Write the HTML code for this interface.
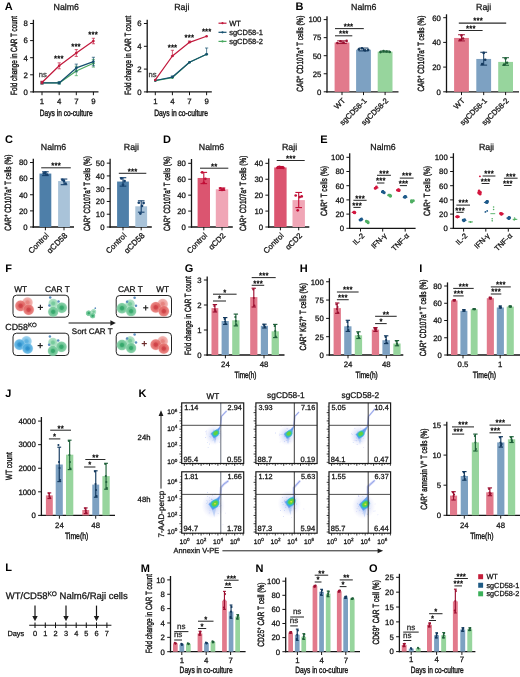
<!DOCTYPE html>
<html lang="en">
<head>
<meta charset="utf-8">
<title>Figure</title>
<style>
html,body{margin:0;padding:0;background:#fff;}
body{width:520px;height:677px;overflow:hidden;font-family:"Liberation Sans", sans-serif;}
svg{display:block;opacity:0.999;}
</style>
</head>
<body>
<svg width="520" height="677" viewBox="0 0 520 677" font-family="'Liberation Sans', sans-serif" text-rendering="geometricPrecision">
<defs>
<radialGradient id="gR"><stop offset="0" stop-color="#cf3f44"/><stop offset="0.3" stop-color="#cf3f44" stop-opacity="0.95"/><stop offset="0.46" stop-color="#de5b59" stop-opacity="0.9"/><stop offset="0.82" stop-color="#e5716e" stop-opacity="0.85"/><stop offset="1" stop-color="#f2b2ae" stop-opacity="0.3"/></radialGradient>
<radialGradient id="gRl"><stop offset="0" stop-color="#e6807c"/><stop offset="0.3" stop-color="#e6807c" stop-opacity="0.95"/><stop offset="0.46" stop-color="#ec9692" stop-opacity="0.9"/><stop offset="0.82" stop-color="#f0a8a4" stop-opacity="0.85"/><stop offset="1" stop-color="#f8d6d3" stop-opacity="0.3"/></radialGradient>
<radialGradient id="gB"><stop offset="0" stop-color="#2a8fcc"/><stop offset="0.3" stop-color="#2a8fcc" stop-opacity="0.95"/><stop offset="0.46" stop-color="#3fa2d9" stop-opacity="0.9"/><stop offset="0.82" stop-color="#58b0e1" stop-opacity="0.85"/><stop offset="1" stop-color="#aed9f1" stop-opacity="0.3"/></radialGradient>
<radialGradient id="gBl"><stop offset="0" stop-color="#5bb0df"/><stop offset="0.3" stop-color="#5bb0df" stop-opacity="0.95"/><stop offset="0.46" stop-color="#74bee5" stop-opacity="0.9"/><stop offset="0.82" stop-color="#8ccaeb" stop-opacity="0.85"/><stop offset="1" stop-color="#cce8f6" stop-opacity="0.3"/></radialGradient>
<radialGradient id="gG"><stop offset="0" stop-color="#33a76a"/><stop offset="0.3" stop-color="#33a76a" stop-opacity="0.95"/><stop offset="0.46" stop-color="#5bbd87" stop-opacity="0.9"/><stop offset="0.82" stop-color="#74c99a" stop-opacity="0.85"/><stop offset="1" stop-color="#bce7cf" stop-opacity="0.3"/></radialGradient>
<radialGradient id="gGl"><stop offset="0" stop-color="#74c99a"/><stop offset="0.3" stop-color="#74c99a" stop-opacity="0.95"/><stop offset="0.46" stop-color="#93d7b0" stop-opacity="0.9"/><stop offset="0.82" stop-color="#a6dfbf" stop-opacity="0.85"/><stop offset="1" stop-color="#d6f1e3" stop-opacity="0.3"/></radialGradient>
<radialGradient id="fcloud"><stop offset="0" stop-color="#8fb0f2" stop-opacity="0.75"/><stop offset="0.5" stop-color="#b3c3f4" stop-opacity="0.38"/><stop offset="1" stop-color="#d4d0f7" stop-opacity="0"/></radialGradient>
<filter id="fb" x="-30%" y="-30%" width="160%" height="160%"><feGaussianBlur stdDeviation="0.45"/></filter>
<filter id="fb2" x="-30%" y="-30%" width="160%" height="160%"><feGaussianBlur stdDeviation="0.75"/></filter>
<filter id="fb3" x="-30%" y="-30%" width="160%" height="160%"><feGaussianBlur stdDeviation="0.3"/></filter>
<clipPath id="clipk00"><rect x="181.70" y="402.90" width="62.00" height="60.60"/></clipPath>
<clipPath id="clipk01"><rect x="255.90" y="402.90" width="61.20" height="60.60"/></clipPath>
<clipPath id="clipk02"><rect x="329.00" y="402.90" width="61.60" height="60.60"/></clipPath>
<clipPath id="clipk10"><rect x="181.70" y="471.80" width="62.00" height="61.40"/></clipPath>
<clipPath id="clipk11"><rect x="255.90" y="471.80" width="61.20" height="61.40"/></clipPath>
<clipPath id="clipk12"><rect x="329.00" y="471.80" width="61.60" height="61.40"/></clipPath>
</defs>
<text transform="translate(4.70 9.80)" font-size="11" text-anchor="start" font-weight="bold" fill="#000">A</text>
<text transform="translate(66.30 9.60)" font-size="8.8" text-anchor="middle" fill="#141414" stroke="#141414" stroke-width="0.27">Nalm6</text>
<line x1="33.40" y1="19.80" x2="33.40" y2="92.55" stroke="#141414" stroke-width="1.3"/>
<line x1="32.75" y1="91.90" x2="98.50" y2="91.90" stroke="#141414" stroke-width="1.3"/>
<line x1="30.10" y1="91.90" x2="33.40" y2="91.90" stroke="#141414" stroke-width="1"/>
<text transform="translate(27.80 94.71)" font-size="7.8" text-anchor="end" fill="#141414" stroke="#141414" stroke-width="0.27">0</text>
<line x1="30.10" y1="74.80" x2="33.40" y2="74.80" stroke="#141414" stroke-width="1"/>
<text transform="translate(27.80 77.61)" font-size="7.8" text-anchor="end" fill="#141414" stroke="#141414" stroke-width="0.27">2</text>
<line x1="30.10" y1="57.70" x2="33.40" y2="57.70" stroke="#141414" stroke-width="1"/>
<text transform="translate(27.80 60.51)" font-size="7.8" text-anchor="end" fill="#141414" stroke="#141414" stroke-width="0.27">4</text>
<line x1="30.10" y1="40.60" x2="33.40" y2="40.60" stroke="#141414" stroke-width="1"/>
<text transform="translate(27.80 43.41)" font-size="7.8" text-anchor="end" fill="#141414" stroke="#141414" stroke-width="0.27">6</text>
<line x1="30.10" y1="23.50" x2="33.40" y2="23.50" stroke="#141414" stroke-width="1"/>
<text transform="translate(27.80 26.31)" font-size="7.8" text-anchor="end" fill="#141414" stroke="#141414" stroke-width="0.27">8</text>
<line x1="42.00" y1="91.90" x2="42.00" y2="95.20" stroke="#141414" stroke-width="1"/>
<text transform="translate(42.00 103.50)" font-size="7.8" text-anchor="middle" fill="#141414" stroke="#141414" stroke-width="0.27">1</text>
<line x1="59.20" y1="91.90" x2="59.20" y2="95.20" stroke="#141414" stroke-width="1"/>
<text transform="translate(59.20 103.50)" font-size="7.8" text-anchor="middle" fill="#141414" stroke="#141414" stroke-width="0.27">4</text>
<line x1="76.30" y1="91.90" x2="76.30" y2="95.20" stroke="#141414" stroke-width="1"/>
<text transform="translate(76.30 103.50)" font-size="7.8" text-anchor="middle" fill="#141414" stroke="#141414" stroke-width="0.27">7</text>
<line x1="93.40" y1="91.90" x2="93.40" y2="95.20" stroke="#141414" stroke-width="1"/>
<text transform="translate(93.40 103.50)" font-size="7.8" text-anchor="middle" fill="#141414" stroke="#141414" stroke-width="0.27">9</text>
<text transform="translate(17.00 55.50) rotate(-90) scale(0.6987 1)" font-size="9" text-anchor="middle" fill="#141414" stroke="#141414" stroke-width="0.4">Fold change in CAR T count</text>
<text transform="translate(66.20 115.80) scale(0.733 1)" font-size="9" text-anchor="middle" fill="#141414" stroke="#141414" stroke-width="0.4">Days in co-culture</text>
<line x1="42.00" y1="81.90" x2="42.00" y2="83.95" stroke="#4aa860" stroke-width="0.7"/>
<line x1="40.40" y1="81.90" x2="43.60" y2="81.90" stroke="#4aa860" stroke-width="0.7"/>
<line x1="40.40" y1="83.95" x2="43.60" y2="83.95" stroke="#4aa860" stroke-width="0.7"/>
<line x1="59.20" y1="81.90" x2="59.20" y2="83.95" stroke="#4aa860" stroke-width="0.7"/>
<line x1="57.60" y1="81.90" x2="60.80" y2="81.90" stroke="#4aa860" stroke-width="0.7"/>
<line x1="57.60" y1="83.95" x2="60.80" y2="83.95" stroke="#4aa860" stroke-width="0.7"/>
<line x1="76.30" y1="66.25" x2="76.30" y2="75.66" stroke="#4aa860" stroke-width="0.7"/>
<line x1="74.70" y1="66.25" x2="77.90" y2="66.25" stroke="#4aa860" stroke-width="0.7"/>
<line x1="74.70" y1="75.66" x2="77.90" y2="75.66" stroke="#4aa860" stroke-width="0.7"/>
<line x1="93.40" y1="59.41" x2="93.40" y2="67.11" stroke="#4aa860" stroke-width="0.7"/>
<line x1="91.80" y1="59.41" x2="95.00" y2="59.41" stroke="#4aa860" stroke-width="0.7"/>
<line x1="91.80" y1="67.11" x2="95.00" y2="67.11" stroke="#4aa860" stroke-width="0.7"/>
<polyline points="42.00,82.92 59.20,82.92 76.30,70.95 93.40,63.26" fill="none" stroke="#4aa860" stroke-width="1.25" stroke-linejoin="round"/>
<circle cx="42.00" cy="82.92" r="1.30" fill="#4aa860"/>
<circle cx="59.20" cy="82.92" r="1.30" fill="#4aa860"/>
<circle cx="76.30" cy="70.95" r="1.30" fill="#4aa860"/>
<circle cx="93.40" cy="63.26" r="1.30" fill="#4aa860"/>
<line x1="42.00" y1="81.90" x2="42.00" y2="83.95" stroke="#15506f" stroke-width="0.7"/>
<line x1="40.40" y1="81.90" x2="43.60" y2="81.90" stroke="#15506f" stroke-width="0.7"/>
<line x1="40.40" y1="83.95" x2="43.60" y2="83.95" stroke="#15506f" stroke-width="0.7"/>
<line x1="59.20" y1="81.90" x2="59.20" y2="83.95" stroke="#15506f" stroke-width="0.7"/>
<line x1="57.60" y1="81.90" x2="60.80" y2="81.90" stroke="#15506f" stroke-width="0.7"/>
<line x1="57.60" y1="83.95" x2="60.80" y2="83.95" stroke="#15506f" stroke-width="0.7"/>
<line x1="76.30" y1="64.11" x2="76.30" y2="71.81" stroke="#15506f" stroke-width="0.7"/>
<line x1="74.70" y1="64.11" x2="77.90" y2="64.11" stroke="#15506f" stroke-width="0.7"/>
<line x1="74.70" y1="71.81" x2="77.90" y2="71.81" stroke="#15506f" stroke-width="0.7"/>
<line x1="93.40" y1="57.27" x2="93.40" y2="65.82" stroke="#15506f" stroke-width="0.7"/>
<line x1="91.80" y1="57.27" x2="95.00" y2="57.27" stroke="#15506f" stroke-width="0.7"/>
<line x1="91.80" y1="65.82" x2="95.00" y2="65.82" stroke="#15506f" stroke-width="0.7"/>
<polyline points="42.00,82.92 59.20,82.92 76.30,67.96 93.40,61.55" fill="none" stroke="#15506f" stroke-width="1.25" stroke-linejoin="round"/>
<circle cx="42.00" cy="82.92" r="1.30" fill="#15506f"/>
<circle cx="59.20" cy="82.92" r="1.30" fill="#15506f"/>
<circle cx="76.30" cy="67.96" r="1.30" fill="#15506f"/>
<circle cx="93.40" cy="61.55" r="1.30" fill="#15506f"/>
<line x1="42.00" y1="81.21" x2="42.00" y2="83.78" stroke="#c21a3d" stroke-width="0.7"/>
<line x1="40.40" y1="81.21" x2="43.60" y2="81.21" stroke="#c21a3d" stroke-width="0.7"/>
<line x1="40.40" y1="83.78" x2="43.60" y2="83.78" stroke="#c21a3d" stroke-width="0.7"/>
<line x1="59.20" y1="62.83" x2="59.20" y2="68.81" stroke="#c21a3d" stroke-width="0.7"/>
<line x1="57.60" y1="62.83" x2="60.80" y2="62.83" stroke="#c21a3d" stroke-width="0.7"/>
<line x1="57.60" y1="68.81" x2="60.80" y2="68.81" stroke="#c21a3d" stroke-width="0.7"/>
<line x1="76.30" y1="49.58" x2="76.30" y2="56.42" stroke="#c21a3d" stroke-width="0.7"/>
<line x1="74.70" y1="49.58" x2="77.90" y2="49.58" stroke="#c21a3d" stroke-width="0.7"/>
<line x1="74.70" y1="56.42" x2="77.90" y2="56.42" stroke="#c21a3d" stroke-width="0.7"/>
<line x1="93.40" y1="38.29" x2="93.40" y2="43.76" stroke="#c21a3d" stroke-width="0.7"/>
<line x1="91.80" y1="38.29" x2="95.00" y2="38.29" stroke="#c21a3d" stroke-width="0.7"/>
<line x1="91.80" y1="43.76" x2="95.00" y2="43.76" stroke="#c21a3d" stroke-width="0.7"/>
<polyline points="42.00,82.50 59.20,65.82 76.30,53.00 93.40,41.03" fill="none" stroke="#c21a3d" stroke-width="1.25" stroke-linejoin="round"/>
<circle cx="42.00" cy="82.50" r="1.30" fill="#c21a3d"/>
<circle cx="59.20" cy="65.82" r="1.30" fill="#c21a3d"/>
<circle cx="76.30" cy="53.00" r="1.30" fill="#c21a3d"/>
<circle cx="93.40" cy="41.03" r="1.30" fill="#c21a3d"/>
<text transform="translate(42.80 77.30)" font-size="7.6" text-anchor="middle" fill="#333" stroke="#333" stroke-width="0.27">ns</text>
<text transform="translate(58.80 61.30)" font-size="7.7" text-anchor="middle" fill="#1e1e1e" stroke="#1e1e1e" stroke-width="0.42" letter-spacing="0.2">***</text>
<text transform="translate(76.00 48.70)" font-size="7.7" text-anchor="middle" fill="#1e1e1e" stroke="#1e1e1e" stroke-width="0.42" letter-spacing="0.2">***</text>
<text transform="translate(93.10 36.90)" font-size="7.7" text-anchor="middle" fill="#1e1e1e" stroke="#1e1e1e" stroke-width="0.42" letter-spacing="0.2">***</text>
<text transform="translate(181.80 9.70)" font-size="8.8" text-anchor="middle" fill="#141414" stroke="#141414" stroke-width="0.27">Raji</text>
<line x1="147.20" y1="19.80" x2="147.20" y2="92.55" stroke="#141414" stroke-width="1.3"/>
<line x1="146.55" y1="91.90" x2="211.80" y2="91.90" stroke="#141414" stroke-width="1.3"/>
<line x1="143.90" y1="91.90" x2="147.20" y2="91.90" stroke="#141414" stroke-width="1"/>
<text transform="translate(141.60 94.71)" font-size="7.8" text-anchor="end" fill="#141414" stroke="#141414" stroke-width="0.27">0</text>
<line x1="143.90" y1="69.10" x2="147.20" y2="69.10" stroke="#141414" stroke-width="1"/>
<text transform="translate(141.60 71.91)" font-size="7.8" text-anchor="end" fill="#141414" stroke="#141414" stroke-width="0.27">2</text>
<line x1="143.90" y1="46.30" x2="147.20" y2="46.30" stroke="#141414" stroke-width="1"/>
<text transform="translate(141.60 49.11)" font-size="7.8" text-anchor="end" fill="#141414" stroke="#141414" stroke-width="0.27">4</text>
<line x1="143.90" y1="23.50" x2="147.20" y2="23.50" stroke="#141414" stroke-width="1"/>
<text transform="translate(141.60 26.31)" font-size="7.8" text-anchor="end" fill="#141414" stroke="#141414" stroke-width="0.27">6</text>
<line x1="155.30" y1="91.90" x2="155.30" y2="95.20" stroke="#141414" stroke-width="1"/>
<text transform="translate(155.30 103.50)" font-size="7.8" text-anchor="middle" fill="#141414" stroke="#141414" stroke-width="0.27">1</text>
<line x1="172.40" y1="91.90" x2="172.40" y2="95.20" stroke="#141414" stroke-width="1"/>
<text transform="translate(172.40 103.50)" font-size="7.8" text-anchor="middle" fill="#141414" stroke="#141414" stroke-width="0.27">4</text>
<line x1="189.50" y1="91.90" x2="189.50" y2="95.20" stroke="#141414" stroke-width="1"/>
<text transform="translate(189.50 103.50)" font-size="7.8" text-anchor="middle" fill="#141414" stroke="#141414" stroke-width="0.27">7</text>
<line x1="206.60" y1="91.90" x2="206.60" y2="95.20" stroke="#141414" stroke-width="1"/>
<text transform="translate(206.60 103.50)" font-size="7.8" text-anchor="middle" fill="#141414" stroke="#141414" stroke-width="0.27">9</text>
<text transform="translate(130.60 55.20) rotate(-90) scale(0.7005 1)" font-size="9" text-anchor="middle" fill="#141414" stroke="#141414" stroke-width="0.4">Fold change in CAR T count</text>
<text transform="translate(181.10 115.80) scale(0.7469 1)" font-size="9" text-anchor="middle" fill="#141414" stroke="#141414" stroke-width="0.4">Days in co-culture</text>
<polyline points="155.30,80.73 172.40,77.65 189.50,62.26 206.60,54.28" fill="none" stroke="#4aa860" stroke-width="1.25" stroke-linejoin="round"/>
<circle cx="155.30" cy="80.73" r="1.30" fill="#4aa860"/>
<circle cx="172.40" cy="77.65" r="1.30" fill="#4aa860"/>
<circle cx="189.50" cy="62.26" r="1.30" fill="#4aa860"/>
<circle cx="206.60" cy="54.28" r="1.30" fill="#4aa860"/>
<line x1="172.40" y1="75.94" x2="172.40" y2="77.08" stroke="#15506f" stroke-width="0.7"/>
<line x1="170.80" y1="75.94" x2="174.00" y2="75.94" stroke="#15506f" stroke-width="0.7"/>
<line x1="170.80" y1="77.08" x2="174.00" y2="77.08" stroke="#15506f" stroke-width="0.7"/>
<line x1="206.60" y1="48.01" x2="206.60" y2="54.28" stroke="#15506f" stroke-width="0.7"/>
<line x1="205.00" y1="48.01" x2="208.20" y2="48.01" stroke="#15506f" stroke-width="0.7"/>
<line x1="205.00" y1="54.28" x2="208.20" y2="54.28" stroke="#15506f" stroke-width="0.7"/>
<polyline points="155.30,80.50 172.40,77.08 189.50,62.26 206.60,54.28" fill="none" stroke="#15506f" stroke-width="1.25" stroke-linejoin="round"/>
<circle cx="155.30" cy="80.50" r="1.30" fill="#15506f"/>
<circle cx="172.40" cy="77.08" r="1.30" fill="#15506f"/>
<circle cx="189.50" cy="62.26" r="1.30" fill="#15506f"/>
<circle cx="206.60" cy="54.28" r="1.30" fill="#15506f"/>
<line x1="172.40" y1="50.29" x2="172.40" y2="55.99" stroke="#c21a3d" stroke-width="0.7"/>
<line x1="170.80" y1="50.29" x2="174.00" y2="50.29" stroke="#c21a3d" stroke-width="0.7"/>
<line x1="170.80" y1="55.99" x2="174.00" y2="55.99" stroke="#c21a3d" stroke-width="0.7"/>
<line x1="189.50" y1="40.94" x2="189.50" y2="42.31" stroke="#c21a3d" stroke-width="0.7"/>
<line x1="187.90" y1="40.94" x2="191.10" y2="40.94" stroke="#c21a3d" stroke-width="0.7"/>
<line x1="187.90" y1="42.31" x2="191.10" y2="42.31" stroke="#c21a3d" stroke-width="0.7"/>
<polyline points="155.30,79.93 172.40,55.99 189.50,42.31 206.60,36.27" fill="none" stroke="#c21a3d" stroke-width="1.25" stroke-linejoin="round"/>
<circle cx="155.30" cy="79.93" r="1.30" fill="#c21a3d"/>
<circle cx="172.40" cy="55.99" r="1.30" fill="#c21a3d"/>
<circle cx="189.50" cy="42.31" r="1.30" fill="#c21a3d"/>
<circle cx="206.60" cy="36.27" r="1.30" fill="#c21a3d"/>
<text transform="translate(152.60 76.60)" font-size="7.6" text-anchor="middle" fill="#333" stroke="#333" stroke-width="0.27">ns</text>
<text transform="translate(172.50 50.40)" font-size="7.7" text-anchor="middle" fill="#1e1e1e" stroke="#1e1e1e" stroke-width="0.42" letter-spacing="0.2">***</text>
<text transform="translate(189.40 39.80)" font-size="7.7" text-anchor="middle" fill="#1e1e1e" stroke="#1e1e1e" stroke-width="0.42" letter-spacing="0.2">***</text>
<text transform="translate(206.70 34.40)" font-size="7.7" text-anchor="middle" fill="#1e1e1e" stroke="#1e1e1e" stroke-width="0.42" letter-spacing="0.2">***</text>
<line x1="218.50" y1="23.20" x2="226.50" y2="23.20" stroke="#c21a3d" stroke-width="1.2"/>
<circle cx="222.50" cy="23.20" r="1.10" fill="#c21a3d"/>
<text transform="translate(229.20 25.90)" font-size="7.5" text-anchor="start" fill="#141414" stroke="#141414" stroke-width="0.27">WT</text>
<line x1="218.50" y1="32.30" x2="226.50" y2="32.30" stroke="#15506f" stroke-width="1.2"/>
<circle cx="222.50" cy="32.30" r="1.10" fill="#15506f"/>
<text transform="translate(229.20 35.00)" font-size="7.5" text-anchor="start" fill="#141414" stroke="#141414" stroke-width="0.27">sgCD58-1</text>
<line x1="218.50" y1="41.40" x2="226.50" y2="41.40" stroke="#4aa860" stroke-width="1.2"/>
<circle cx="222.50" cy="41.40" r="1.10" fill="#4aa860"/>
<text transform="translate(229.20 44.10)" font-size="7.5" text-anchor="start" fill="#141414" stroke="#141414" stroke-width="0.27">sgCD58-2</text>
<text transform="translate(295.60 9.70)" font-size="11" text-anchor="start" font-weight="bold" fill="#000">B</text>
<text transform="translate(363.80 9.60)" font-size="8.8" text-anchor="middle" fill="#141414" stroke="#141414" stroke-width="0.27">Nalm6</text>
<line x1="327.00" y1="16.30" x2="327.00" y2="92.45" stroke="#141414" stroke-width="1.3"/>
<line x1="326.35" y1="91.80" x2="398.50" y2="91.80" stroke="#141414" stroke-width="1.3"/>
<line x1="323.70" y1="91.80" x2="327.00" y2="91.80" stroke="#141414" stroke-width="1"/>
<text transform="translate(321.40 94.61)" font-size="7.8" text-anchor="end" fill="#141414" stroke="#141414" stroke-width="0.27">0</text>
<line x1="323.70" y1="73.75" x2="327.00" y2="73.75" stroke="#141414" stroke-width="1"/>
<text transform="translate(321.40 76.56)" font-size="7.8" text-anchor="end" fill="#141414" stroke="#141414" stroke-width="0.27">25</text>
<line x1="323.70" y1="55.70" x2="327.00" y2="55.70" stroke="#141414" stroke-width="1"/>
<text transform="translate(321.40 58.51)" font-size="7.8" text-anchor="end" fill="#141414" stroke="#141414" stroke-width="0.27">50</text>
<line x1="323.70" y1="37.65" x2="327.00" y2="37.65" stroke="#141414" stroke-width="1"/>
<text transform="translate(321.40 40.46)" font-size="7.8" text-anchor="end" fill="#141414" stroke="#141414" stroke-width="0.27">75</text>
<line x1="323.70" y1="19.60" x2="327.00" y2="19.60" stroke="#141414" stroke-width="1"/>
<text transform="translate(321.40 22.41)" font-size="7.8" text-anchor="end" fill="#141414" stroke="#141414" stroke-width="0.27">100</text>
<line x1="342.00" y1="91.80" x2="342.00" y2="95.10" stroke="#141414" stroke-width="1"/>
<line x1="363.50" y1="91.80" x2="363.50" y2="95.10" stroke="#141414" stroke-width="1"/>
<line x1="385.10" y1="91.80" x2="385.10" y2="95.10" stroke="#141414" stroke-width="1"/>
<text transform="translate(303.30 53.65) rotate(-90) scale(0.7186 1)" font-size="9" text-anchor="middle" fill="#141414" stroke="#141414" stroke-width="0.4">CAR<tspan dy="-2.88" font-size="5.94">+</tspan><tspan dy="2.88">​</tspan> CD107a<tspan dy="-2.88" font-size="5.94">+</tspan><tspan dy="2.88">​</tspan> T cells (%)</text>
<rect x="334.60" y="42.49" width="14.80" height="49.31" fill="#e27a8c"/>
<line x1="342.00" y1="40.83" x2="342.00" y2="43.57" stroke="#9c1031" stroke-width="1"/>
<line x1="337.20" y1="40.83" x2="346.80" y2="40.83" stroke="#9c1031" stroke-width="1"/>
<line x1="337.20" y1="43.57" x2="346.80" y2="43.57" stroke="#9c1031" stroke-width="1"/>
<circle cx="337.35" cy="43.06" r="1.30" fill="#9c1031"/>
<circle cx="340.45" cy="41.26" r="1.30" fill="#9c1031"/>
<circle cx="343.55" cy="42.56" r="1.30" fill="#9c1031"/>
<circle cx="346.65" cy="40.90" r="1.30" fill="#9c1031"/>
<rect x="356.10" y="49.71" width="14.80" height="42.09" fill="#7da1c2"/>
<line x1="363.50" y1="48.05" x2="363.50" y2="50.93" stroke="#13395e" stroke-width="1"/>
<line x1="358.70" y1="48.05" x2="368.30" y2="48.05" stroke="#13395e" stroke-width="1"/>
<line x1="358.70" y1="50.93" x2="368.30" y2="50.93" stroke="#13395e" stroke-width="1"/>
<circle cx="358.85" cy="49.35" r="1.30" fill="#13395e"/>
<circle cx="361.95" cy="48.34" r="1.30" fill="#13395e"/>
<circle cx="365.05" cy="50.36" r="1.30" fill="#13395e"/>
<circle cx="368.15" cy="49.92" r="1.30" fill="#13395e"/>
<rect x="377.70" y="51.66" width="14.80" height="40.14" fill="#97d59d"/>
<line x1="385.10" y1="51.01" x2="385.10" y2="52.09" stroke="#1f6039" stroke-width="1"/>
<line x1="380.30" y1="51.01" x2="389.90" y2="51.01" stroke="#1f6039" stroke-width="1"/>
<line x1="380.30" y1="52.09" x2="389.90" y2="52.09" stroke="#1f6039" stroke-width="1"/>
<circle cx="380.45" cy="52.09" r="1.30" fill="#1f6039"/>
<circle cx="383.55" cy="51.08" r="1.30" fill="#1f6039"/>
<circle cx="386.65" cy="51.44" r="1.30" fill="#1f6039"/>
<circle cx="389.75" cy="51.95" r="1.30" fill="#1f6039"/>
<line x1="335.00" y1="28.60" x2="363.80" y2="28.60" stroke="#2a2a2a" stroke-width="1.05"/>
<text transform="translate(348.50 28.95)" font-size="7.7" text-anchor="middle" fill="#1e1e1e" stroke="#1e1e1e" stroke-width="0.42" letter-spacing="0.2">***</text>
<line x1="335.00" y1="35.80" x2="352.30" y2="35.80" stroke="#2a2a2a" stroke-width="1.05"/>
<text transform="translate(343.75 36.15)" font-size="7.7" text-anchor="middle" fill="#1e1e1e" stroke="#1e1e1e" stroke-width="0.42" letter-spacing="0.2">***</text>
<text transform="translate(345.70 101.30) rotate(-45)" font-size="7.7" text-anchor="end" fill="#141414" stroke="#141414" stroke-width="0.27">WT</text>
<text transform="translate(367.20 101.30) rotate(-45)" font-size="7.7" text-anchor="end" fill="#141414" stroke="#141414" stroke-width="0.27">sgCD58-1</text>
<text transform="translate(388.80 101.30) rotate(-45)" font-size="7.7" text-anchor="end" fill="#141414" stroke="#141414" stroke-width="0.27">sgCD58-2</text>
<text transform="translate(483.70 9.60)" font-size="8.8" text-anchor="middle" fill="#141414" stroke="#141414" stroke-width="0.27">Raji</text>
<line x1="446.50" y1="14.30" x2="446.50" y2="92.45" stroke="#141414" stroke-width="1.3"/>
<line x1="445.85" y1="91.80" x2="519.00" y2="91.80" stroke="#141414" stroke-width="1.3"/>
<line x1="443.20" y1="91.80" x2="446.50" y2="91.80" stroke="#141414" stroke-width="1"/>
<text transform="translate(440.90 94.61)" font-size="7.8" text-anchor="end" fill="#141414" stroke="#141414" stroke-width="0.27">0</text>
<line x1="443.20" y1="67.10" x2="446.50" y2="67.10" stroke="#141414" stroke-width="1"/>
<text transform="translate(440.90 69.91)" font-size="7.8" text-anchor="end" fill="#141414" stroke="#141414" stroke-width="0.27">20</text>
<line x1="443.20" y1="42.40" x2="446.50" y2="42.40" stroke="#141414" stroke-width="1"/>
<text transform="translate(440.90 45.21)" font-size="7.8" text-anchor="end" fill="#141414" stroke="#141414" stroke-width="0.27">40</text>
<line x1="443.20" y1="17.70" x2="446.50" y2="17.70" stroke="#141414" stroke-width="1"/>
<text transform="translate(440.90 20.51)" font-size="7.8" text-anchor="end" fill="#141414" stroke="#141414" stroke-width="0.27">60</text>
<line x1="461.50" y1="91.80" x2="461.50" y2="95.10" stroke="#141414" stroke-width="1"/>
<line x1="483.70" y1="91.80" x2="483.70" y2="95.10" stroke="#141414" stroke-width="1"/>
<line x1="505.60" y1="91.80" x2="505.60" y2="95.10" stroke="#141414" stroke-width="1"/>
<text transform="translate(424.20 53.65) rotate(-90) scale(0.7148 1)" font-size="9" text-anchor="middle" fill="#141414" stroke="#141414" stroke-width="0.4">CAR<tspan dy="-2.88" font-size="5.94">+</tspan><tspan dy="2.88">​</tspan> CD107a<tspan dy="-2.88" font-size="5.94">+</tspan><tspan dy="2.88">​</tspan> T cells (%)</text>
<rect x="454.10" y="37.95" width="14.80" height="53.85" fill="#e27a8c"/>
<line x1="461.50" y1="34.74" x2="461.50" y2="40.92" stroke="#9c1031" stroke-width="1"/>
<line x1="458.10" y1="34.74" x2="464.90" y2="34.74" stroke="#9c1031" stroke-width="1"/>
<line x1="458.10" y1="40.92" x2="464.90" y2="40.92" stroke="#9c1031" stroke-width="1"/>
<circle cx="460.00" cy="39.93" r="1.30" fill="#9c1031"/>
<circle cx="461.50" cy="35.48" r="1.30" fill="#9c1031"/>
<circle cx="463.00" cy="38.45" r="1.30" fill="#9c1031"/>
<rect x="476.30" y="58.95" width="14.80" height="32.85" fill="#7da1c2"/>
<line x1="483.70" y1="52.28" x2="483.70" y2="65.12" stroke="#13395e" stroke-width="1"/>
<line x1="480.30" y1="52.28" x2="487.10" y2="52.28" stroke="#13395e" stroke-width="1"/>
<line x1="480.30" y1="65.12" x2="487.10" y2="65.12" stroke="#13395e" stroke-width="1"/>
<circle cx="482.20" cy="64.01" r="1.30" fill="#13395e"/>
<circle cx="483.70" cy="52.90" r="1.30" fill="#13395e"/>
<circle cx="485.20" cy="59.69" r="1.30" fill="#13395e"/>
<rect x="498.20" y="61.91" width="14.80" height="29.89" fill="#97d59d"/>
<line x1="505.60" y1="57.71" x2="505.60" y2="65.25" stroke="#1f6039" stroke-width="1"/>
<line x1="502.20" y1="57.71" x2="509.00" y2="57.71" stroke="#1f6039" stroke-width="1"/>
<line x1="502.20" y1="65.25" x2="509.00" y2="65.25" stroke="#1f6039" stroke-width="1"/>
<circle cx="504.10" cy="64.63" r="1.30" fill="#1f6039"/>
<circle cx="505.60" cy="58.45" r="1.30" fill="#1f6039"/>
<circle cx="507.10" cy="62.78" r="1.30" fill="#1f6039"/>
<line x1="458.80" y1="23.10" x2="506.20" y2="23.10" stroke="#2a2a2a" stroke-width="1.05"/>
<text transform="translate(478.10 23.45)" font-size="7.7" text-anchor="middle" fill="#1e1e1e" stroke="#1e1e1e" stroke-width="0.42" letter-spacing="0.2">***</text>
<line x1="458.80" y1="30.50" x2="482.60" y2="30.50" stroke="#2a2a2a" stroke-width="1.05"/>
<text transform="translate(470.80 30.85)" font-size="7.7" text-anchor="middle" fill="#1e1e1e" stroke="#1e1e1e" stroke-width="0.42" letter-spacing="0.2">***</text>
<text transform="translate(465.20 101.30) rotate(-45)" font-size="7.7" text-anchor="end" fill="#141414" stroke="#141414" stroke-width="0.27">WT</text>
<text transform="translate(487.40 101.30) rotate(-45)" font-size="7.7" text-anchor="end" fill="#141414" stroke="#141414" stroke-width="0.27">sgCD58-1</text>
<text transform="translate(509.30 101.30) rotate(-45)" font-size="7.7" text-anchor="end" fill="#141414" stroke="#141414" stroke-width="0.27">sgCD58-2</text>
<text transform="translate(4.90 143.20)" font-size="11" text-anchor="start" font-weight="bold" fill="#000">C</text>
<text transform="translate(53.50 149.50)" font-size="8.8" text-anchor="middle" fill="#141414" stroke="#141414" stroke-width="0.27">Nalm6</text>
<line x1="33.30" y1="158.80" x2="33.30" y2="227.65" stroke="#141414" stroke-width="1.3"/>
<line x1="32.65" y1="227.00" x2="74.00" y2="227.00" stroke="#141414" stroke-width="1.3"/>
<line x1="30.00" y1="227.00" x2="33.30" y2="227.00" stroke="#141414" stroke-width="1"/>
<text transform="translate(27.70 229.81)" font-size="7.8" text-anchor="end" fill="#141414" stroke="#141414" stroke-width="0.27">0</text>
<line x1="30.00" y1="210.88" x2="33.30" y2="210.88" stroke="#141414" stroke-width="1"/>
<text transform="translate(27.70 213.69)" font-size="7.8" text-anchor="end" fill="#141414" stroke="#141414" stroke-width="0.27">20</text>
<line x1="30.00" y1="194.76" x2="33.30" y2="194.76" stroke="#141414" stroke-width="1"/>
<text transform="translate(27.70 197.57)" font-size="7.8" text-anchor="end" fill="#141414" stroke="#141414" stroke-width="0.27">40</text>
<line x1="30.00" y1="178.64" x2="33.30" y2="178.64" stroke="#141414" stroke-width="1"/>
<text transform="translate(27.70 181.45)" font-size="7.8" text-anchor="end" fill="#141414" stroke="#141414" stroke-width="0.27">60</text>
<line x1="30.00" y1="162.52" x2="33.30" y2="162.52" stroke="#141414" stroke-width="1"/>
<text transform="translate(27.70 165.33)" font-size="7.8" text-anchor="end" fill="#141414" stroke="#141414" stroke-width="0.27">80</text>
<line x1="45.40" y1="227.00" x2="45.40" y2="230.30" stroke="#141414" stroke-width="1"/>
<line x1="64.00" y1="227.00" x2="64.00" y2="230.30" stroke="#141414" stroke-width="1"/>
<text transform="translate(10.70 192.70) rotate(-90) scale(0.7157 1)" font-size="9" text-anchor="middle" fill="#141414" stroke="#141414" stroke-width="0.4">CAR<tspan dy="-2.88" font-size="5.94">+</tspan><tspan dy="2.88">​</tspan> CD107a<tspan dy="-2.88" font-size="5.94">+</tspan><tspan dy="2.88">​</tspan> T cells (%)</text>
<rect x="39.50" y="173.56" width="11.80" height="53.44" fill="#4e7fa9"/>
<line x1="45.40" y1="171.79" x2="45.40" y2="175.58" stroke="#17426e" stroke-width="1.1"/>
<line x1="42.10" y1="171.79" x2="48.70" y2="171.79" stroke="#17426e" stroke-width="1.1"/>
<line x1="42.10" y1="175.58" x2="48.70" y2="175.58" stroke="#17426e" stroke-width="1.1"/>
<circle cx="43.80" cy="173.40" r="1.35" fill="#17426e"/>
<circle cx="45.40" cy="172.59" r="1.35" fill="#17426e"/>
<circle cx="47.00" cy="174.61" r="1.35" fill="#17426e"/>
<rect x="58.10" y="181.06" width="11.80" height="45.94" fill="#a9c3d9"/>
<line x1="64.00" y1="179.04" x2="64.00" y2="184.69" stroke="#17426e" stroke-width="1.1"/>
<line x1="60.70" y1="179.04" x2="67.30" y2="179.04" stroke="#17426e" stroke-width="1.1"/>
<line x1="60.70" y1="184.69" x2="67.30" y2="184.69" stroke="#17426e" stroke-width="1.1"/>
<circle cx="62.40" cy="179.85" r="1.35" fill="#17426e"/>
<circle cx="64.00" cy="181.06" r="1.35" fill="#17426e"/>
<circle cx="65.60" cy="183.48" r="1.35" fill="#17426e"/>
<line x1="41.20" y1="167.80" x2="70.80" y2="167.80" stroke="#2a2a2a" stroke-width="1.05"/>
<text transform="translate(56.10 168.15)" font-size="7.7" text-anchor="middle" fill="#1e1e1e" stroke="#1e1e1e" stroke-width="0.42" letter-spacing="0.2">***</text>
<text transform="translate(49.30 236.10) rotate(-45)" font-size="7.8" text-anchor="end" fill="#141414" stroke="#141414" stroke-width="0.27">Control</text>
<text transform="translate(67.90 236.10) rotate(-45)" font-size="8.1" text-anchor="end" fill="#141414" stroke="#141414" stroke-width="0.27">αCD58</text>
<text transform="translate(131.40 149.70)" font-size="8.8" text-anchor="middle" fill="#141414" stroke="#141414" stroke-width="0.27">Raji</text>
<line x1="110.10" y1="158.80" x2="110.10" y2="227.65" stroke="#141414" stroke-width="1.3"/>
<line x1="109.45" y1="227.00" x2="151.80" y2="227.00" stroke="#141414" stroke-width="1.3"/>
<line x1="106.80" y1="227.00" x2="110.10" y2="227.00" stroke="#141414" stroke-width="1"/>
<text transform="translate(104.50 229.81)" font-size="7.8" text-anchor="end" fill="#141414" stroke="#141414" stroke-width="0.27">0</text>
<line x1="106.80" y1="214.23" x2="110.10" y2="214.23" stroke="#141414" stroke-width="1"/>
<text transform="translate(104.50 217.04)" font-size="7.8" text-anchor="end" fill="#141414" stroke="#141414" stroke-width="0.27">10</text>
<line x1="106.80" y1="201.46" x2="110.10" y2="201.46" stroke="#141414" stroke-width="1"/>
<text transform="translate(104.50 204.27)" font-size="7.8" text-anchor="end" fill="#141414" stroke="#141414" stroke-width="0.27">20</text>
<line x1="106.80" y1="188.69" x2="110.10" y2="188.69" stroke="#141414" stroke-width="1"/>
<text transform="translate(104.50 191.50)" font-size="7.8" text-anchor="end" fill="#141414" stroke="#141414" stroke-width="0.27">30</text>
<line x1="106.80" y1="175.92" x2="110.10" y2="175.92" stroke="#141414" stroke-width="1"/>
<text transform="translate(104.50 178.73)" font-size="7.8" text-anchor="end" fill="#141414" stroke="#141414" stroke-width="0.27">40</text>
<line x1="106.80" y1="163.15" x2="110.10" y2="163.15" stroke="#141414" stroke-width="1"/>
<text transform="translate(104.50 165.96)" font-size="7.8" text-anchor="end" fill="#141414" stroke="#141414" stroke-width="0.27">50</text>
<line x1="123.00" y1="227.00" x2="123.00" y2="230.30" stroke="#141414" stroke-width="1"/>
<line x1="141.20" y1="227.00" x2="141.20" y2="230.30" stroke="#141414" stroke-width="1"/>
<text transform="translate(89.60 193.60) rotate(-90) scale(0.7063 1)" font-size="9" text-anchor="middle" fill="#141414" stroke="#141414" stroke-width="0.4">CAR<tspan dy="-2.88" font-size="5.94">+</tspan><tspan dy="2.88">​</tspan> CD107a<tspan dy="-2.88" font-size="5.94">+</tspan><tspan dy="2.88">​</tspan> T cells (%)</text>
<rect x="117.10" y="181.54" width="11.80" height="45.46" fill="#4e7fa9"/>
<line x1="123.00" y1="177.71" x2="123.00" y2="186.14" stroke="#17426e" stroke-width="1.1"/>
<line x1="119.70" y1="177.71" x2="126.30" y2="177.71" stroke="#17426e" stroke-width="1.1"/>
<line x1="119.70" y1="186.14" x2="126.30" y2="186.14" stroke="#17426e" stroke-width="1.1"/>
<circle cx="121.40" cy="178.47" r="1.35" fill="#17426e"/>
<circle cx="123.00" cy="184.86" r="1.35" fill="#17426e"/>
<circle cx="124.60" cy="181.03" r="1.35" fill="#17426e"/>
<rect x="135.30" y="206.31" width="11.80" height="20.69" fill="#a9c3d9"/>
<line x1="141.20" y1="200.82" x2="141.20" y2="212.19" stroke="#17426e" stroke-width="1.1"/>
<line x1="137.90" y1="200.82" x2="144.50" y2="200.82" stroke="#17426e" stroke-width="1.1"/>
<line x1="137.90" y1="212.19" x2="144.50" y2="212.19" stroke="#17426e" stroke-width="1.1"/>
<circle cx="138.80" cy="202.74" r="1.35" fill="#17426e"/>
<circle cx="140.40" cy="213.59" r="1.35" fill="#17426e"/>
<circle cx="142.00" cy="205.93" r="1.35" fill="#17426e"/>
<circle cx="143.60" cy="203.12" r="1.35" fill="#17426e"/>
<line x1="118.80" y1="173.30" x2="146.30" y2="173.30" stroke="#2a2a2a" stroke-width="1.05"/>
<text transform="translate(132.65 173.65)" font-size="7.7" text-anchor="middle" fill="#1e1e1e" stroke="#1e1e1e" stroke-width="0.42" letter-spacing="0.2">***</text>
<text transform="translate(126.90 236.10) rotate(-45)" font-size="7.8" text-anchor="end" fill="#141414" stroke="#141414" stroke-width="0.27">Control</text>
<text transform="translate(145.10 236.10) rotate(-45)" font-size="8.1" text-anchor="end" fill="#141414" stroke="#141414" stroke-width="0.27">αCD58</text>
<text transform="translate(163.00 143.10)" font-size="11" text-anchor="start" font-weight="bold" fill="#000">D</text>
<text transform="translate(211.50 149.50)" font-size="8.8" text-anchor="middle" fill="#141414" stroke="#141414" stroke-width="0.27">Nalm6</text>
<line x1="191.50" y1="159.00" x2="191.50" y2="227.65" stroke="#141414" stroke-width="1.3"/>
<line x1="190.85" y1="227.00" x2="232.80" y2="227.00" stroke="#141414" stroke-width="1.3"/>
<line x1="188.20" y1="227.00" x2="191.50" y2="227.00" stroke="#141414" stroke-width="1"/>
<text transform="translate(185.90 229.81)" font-size="7.8" text-anchor="end" fill="#141414" stroke="#141414" stroke-width="0.27">0</text>
<line x1="188.20" y1="211.08" x2="191.50" y2="211.08" stroke="#141414" stroke-width="1"/>
<text transform="translate(185.90 213.89)" font-size="7.8" text-anchor="end" fill="#141414" stroke="#141414" stroke-width="0.27">20</text>
<line x1="188.20" y1="195.16" x2="191.50" y2="195.16" stroke="#141414" stroke-width="1"/>
<text transform="translate(185.90 197.97)" font-size="7.8" text-anchor="end" fill="#141414" stroke="#141414" stroke-width="0.27">40</text>
<line x1="188.20" y1="179.24" x2="191.50" y2="179.24" stroke="#141414" stroke-width="1"/>
<text transform="translate(185.90 182.05)" font-size="7.8" text-anchor="end" fill="#141414" stroke="#141414" stroke-width="0.27">60</text>
<line x1="188.20" y1="163.32" x2="191.50" y2="163.32" stroke="#141414" stroke-width="1"/>
<text transform="translate(185.90 166.13)" font-size="7.8" text-anchor="end" fill="#141414" stroke="#141414" stroke-width="0.27">80</text>
<line x1="203.80" y1="227.00" x2="203.80" y2="230.30" stroke="#141414" stroke-width="1"/>
<line x1="222.00" y1="227.00" x2="222.00" y2="230.30" stroke="#141414" stroke-width="1"/>
<text transform="translate(169.80 193.70) rotate(-90) scale(0.7045 1)" font-size="9" text-anchor="middle" fill="#141414" stroke="#141414" stroke-width="0.4">CAR<tspan dy="-2.88" font-size="5.94">+</tspan><tspan dy="2.88">​</tspan> CD107a<tspan dy="-2.88" font-size="5.94">+</tspan><tspan dy="2.88">​</tspan> T cells (%)</text>
<rect x="197.60" y="177.97" width="12.40" height="49.03" fill="#db5570"/>
<line x1="203.80" y1="172.39" x2="203.80" y2="183.62" stroke="#c10f37" stroke-width="1.1"/>
<line x1="200.50" y1="172.39" x2="207.10" y2="172.39" stroke="#c10f37" stroke-width="1.1"/>
<line x1="200.50" y1="183.62" x2="207.10" y2="183.62" stroke="#c10f37" stroke-width="1.1"/>
<circle cx="202.20" cy="172.47" r="1.35" fill="#c10f37"/>
<circle cx="203.80" cy="182.82" r="1.35" fill="#c10f37"/>
<circle cx="205.40" cy="178.84" r="1.35" fill="#c10f37"/>
<rect x="215.80" y="189.27" width="12.40" height="37.73" fill="#f0a6b6"/>
<line x1="222.00" y1="188.00" x2="222.00" y2="190.38" stroke="#c10f37" stroke-width="1.1"/>
<line x1="218.70" y1="188.00" x2="225.30" y2="188.00" stroke="#c10f37" stroke-width="1.1"/>
<line x1="218.70" y1="190.38" x2="225.30" y2="190.38" stroke="#c10f37" stroke-width="1.1"/>
<circle cx="220.40" cy="188.39" r="1.35" fill="#c10f37"/>
<circle cx="222.00" cy="189.99" r="1.35" fill="#c10f37"/>
<circle cx="223.60" cy="189.19" r="1.35" fill="#c10f37"/>
<line x1="200.00" y1="168.20" x2="228.30" y2="168.20" stroke="#2a2a2a" stroke-width="1.05"/>
<text transform="translate(214.25 168.55)" font-size="7.7" text-anchor="middle" fill="#1e1e1e" stroke="#1e1e1e" stroke-width="0.42" letter-spacing="0.2">**</text>
<text transform="translate(207.70 236.10) rotate(-45)" font-size="7.8" text-anchor="end" fill="#141414" stroke="#141414" stroke-width="0.27">Control</text>
<text transform="translate(225.90 236.10) rotate(-45)" font-size="7.8" text-anchor="end" fill="#141414" stroke="#141414" stroke-width="0.27">αCD2</text>
<text transform="translate(289.60 149.50)" font-size="8.8" text-anchor="middle" fill="#141414" stroke="#141414" stroke-width="0.27">Raji</text>
<line x1="268.70" y1="158.60" x2="268.70" y2="227.65" stroke="#141414" stroke-width="1.3"/>
<line x1="268.05" y1="227.00" x2="309.30" y2="227.00" stroke="#141414" stroke-width="1.3"/>
<line x1="265.40" y1="227.00" x2="268.70" y2="227.00" stroke="#141414" stroke-width="1"/>
<text transform="translate(263.10 229.81)" font-size="7.8" text-anchor="end" fill="#141414" stroke="#141414" stroke-width="0.27">0</text>
<line x1="265.40" y1="211.08" x2="268.70" y2="211.08" stroke="#141414" stroke-width="1"/>
<text transform="translate(263.10 213.89)" font-size="7.8" text-anchor="end" fill="#141414" stroke="#141414" stroke-width="0.27">10</text>
<line x1="265.40" y1="195.16" x2="268.70" y2="195.16" stroke="#141414" stroke-width="1"/>
<text transform="translate(263.10 197.97)" font-size="7.8" text-anchor="end" fill="#141414" stroke="#141414" stroke-width="0.27">20</text>
<line x1="265.40" y1="179.24" x2="268.70" y2="179.24" stroke="#141414" stroke-width="1"/>
<text transform="translate(263.10 182.05)" font-size="7.8" text-anchor="end" fill="#141414" stroke="#141414" stroke-width="0.27">30</text>
<line x1="265.40" y1="163.32" x2="268.70" y2="163.32" stroke="#141414" stroke-width="1"/>
<text transform="translate(263.10 166.13)" font-size="7.8" text-anchor="end" fill="#141414" stroke="#141414" stroke-width="0.27">40</text>
<line x1="280.40" y1="227.00" x2="280.40" y2="230.30" stroke="#141414" stroke-width="1"/>
<line x1="298.70" y1="227.00" x2="298.70" y2="230.30" stroke="#141414" stroke-width="1"/>
<text transform="translate(246.40 193.40) rotate(-90) scale(0.7101 1)" font-size="9" text-anchor="middle" fill="#141414" stroke="#141414" stroke-width="0.4">CAR<tspan dy="-2.88" font-size="5.94">+</tspan><tspan dy="2.88">​</tspan> CD107a<tspan dy="-2.88" font-size="5.94">+</tspan><tspan dy="2.88">​</tspan> T cells (%)</text>
<rect x="274.20" y="167.46" width="12.40" height="59.54" fill="#db5570"/>
<line x1="280.40" y1="166.50" x2="280.40" y2="168.41" stroke="#c10f37" stroke-width="1.1"/>
<line x1="277.10" y1="166.50" x2="283.70" y2="166.50" stroke="#c10f37" stroke-width="1.1"/>
<line x1="277.10" y1="168.41" x2="283.70" y2="168.41" stroke="#c10f37" stroke-width="1.1"/>
<circle cx="277.40" cy="167.78" r="1.35" fill="#c10f37"/>
<circle cx="279.40" cy="166.82" r="1.35" fill="#c10f37"/>
<circle cx="281.40" cy="167.30" r="1.35" fill="#c10f37"/>
<circle cx="283.40" cy="167.78" r="1.35" fill="#c10f37"/>
<rect x="292.50" y="200.10" width="12.40" height="26.90" fill="#f0a6b6"/>
<line x1="298.70" y1="192.45" x2="298.70" y2="207.58" stroke="#c10f37" stroke-width="1.1"/>
<line x1="295.40" y1="192.45" x2="302.00" y2="192.45" stroke="#c10f37" stroke-width="1.1"/>
<line x1="295.40" y1="207.58" x2="302.00" y2="207.58" stroke="#c10f37" stroke-width="1.1"/>
<circle cx="295.70" cy="195.48" r="1.35" fill="#c10f37"/>
<circle cx="297.70" cy="210.28" r="1.35" fill="#c10f37"/>
<circle cx="299.70" cy="197.07" r="1.35" fill="#c10f37"/>
<circle cx="301.70" cy="196.43" r="1.35" fill="#c10f37"/>
<line x1="276.70" y1="160.50" x2="304.70" y2="160.50" stroke="#2a2a2a" stroke-width="1.05"/>
<text transform="translate(290.80 160.85)" font-size="7.7" text-anchor="middle" fill="#1e1e1e" stroke="#1e1e1e" stroke-width="0.42" letter-spacing="0.2">***</text>
<text transform="translate(284.30 236.10) rotate(-45)" font-size="7.8" text-anchor="end" fill="#141414" stroke="#141414" stroke-width="0.27">Control</text>
<text transform="translate(302.60 236.10) rotate(-45)" font-size="7.8" text-anchor="end" fill="#141414" stroke="#141414" stroke-width="0.27">αCD2</text>
<text transform="translate(320.20 143.20)" font-size="11" text-anchor="start" font-weight="bold" fill="#000">E</text>
<text transform="translate(383.00 149.50)" font-size="8.8" text-anchor="middle" fill="#141414" stroke="#141414" stroke-width="0.27">Nalm6</text>
<line x1="349.70" y1="153.20" x2="349.70" y2="228.95" stroke="#141414" stroke-width="1.3"/>
<line x1="349.05" y1="228.30" x2="415.60" y2="228.30" stroke="#141414" stroke-width="1.3"/>
<line x1="346.40" y1="228.30" x2="349.70" y2="228.30" stroke="#141414" stroke-width="1"/>
<text transform="translate(344.10 231.11)" font-size="7.8" text-anchor="end" fill="#141414" stroke="#141414" stroke-width="0.27">0</text>
<line x1="346.40" y1="214.10" x2="349.70" y2="214.10" stroke="#141414" stroke-width="1"/>
<text transform="translate(344.10 216.91)" font-size="7.8" text-anchor="end" fill="#141414" stroke="#141414" stroke-width="0.27">20</text>
<line x1="346.40" y1="199.90" x2="349.70" y2="199.90" stroke="#141414" stroke-width="1"/>
<text transform="translate(344.10 202.71)" font-size="7.8" text-anchor="end" fill="#141414" stroke="#141414" stroke-width="0.27">40</text>
<line x1="346.40" y1="185.70" x2="349.70" y2="185.70" stroke="#141414" stroke-width="1"/>
<text transform="translate(344.10 188.51)" font-size="7.8" text-anchor="end" fill="#141414" stroke="#141414" stroke-width="0.27">60</text>
<line x1="346.40" y1="171.50" x2="349.70" y2="171.50" stroke="#141414" stroke-width="1"/>
<text transform="translate(344.10 174.31)" font-size="7.8" text-anchor="end" fill="#141414" stroke="#141414" stroke-width="0.27">80</text>
<line x1="346.40" y1="157.30" x2="349.70" y2="157.30" stroke="#141414" stroke-width="1"/>
<text transform="translate(344.10 160.11)" font-size="7.8" text-anchor="end" fill="#141414" stroke="#141414" stroke-width="0.27">100</text>
<line x1="360.50" y1="228.30" x2="360.50" y2="231.60" stroke="#141414" stroke-width="1"/>
<line x1="382.70" y1="228.30" x2="382.70" y2="231.60" stroke="#141414" stroke-width="1"/>
<line x1="405.20" y1="228.30" x2="405.20" y2="231.60" stroke="#141414" stroke-width="1"/>
<text transform="translate(327.00 191.00) rotate(-90) scale(0.747 1)" font-size="9" text-anchor="middle" fill="#141414" stroke="#141414" stroke-width="0.4">CAR<tspan dy="-2.88" font-size="5.94">+</tspan><tspan dy="2.88">​</tspan> T cells (%)</text>
<circle cx="354.76" cy="213.03" r="1.30" fill="#d3173f"/>
<circle cx="353.83" cy="211.94" r="1.30" fill="#d3173f"/>
<circle cx="354.02" cy="212.26" r="1.30" fill="#d3173f"/>
<circle cx="354.62" cy="212.03" r="1.30" fill="#d3173f"/>
<circle cx="354.00" cy="212.47" r="1.45" fill="#d3173f"/>
<line x1="351.70" y1="212.47" x2="356.30" y2="212.47" stroke="#d3173f" stroke-width="1"/>
<circle cx="360.20" cy="220.19" r="1.30" fill="#1e5a8a"/>
<circle cx="361.58" cy="218.89" r="1.30" fill="#1e5a8a"/>
<circle cx="360.99" cy="219.31" r="1.30" fill="#1e5a8a"/>
<circle cx="361.33" cy="220.06" r="1.30" fill="#1e5a8a"/>
<circle cx="361.00" cy="219.43" r="1.45" fill="#1e5a8a"/>
<line x1="358.70" y1="219.43" x2="363.30" y2="219.43" stroke="#1e5a8a" stroke-width="1"/>
<circle cx="368.20" cy="222.90" r="1.30" fill="#4fae62"/>
<circle cx="366.22" cy="221.00" r="1.30" fill="#4fae62"/>
<circle cx="367.94" cy="222.43" r="1.30" fill="#4fae62"/>
<circle cx="367.57" cy="221.49" r="1.30" fill="#4fae62"/>
<circle cx="367.20" cy="221.91" r="1.45" fill="#4fae62"/>
<line x1="364.90" y1="221.91" x2="369.50" y2="221.91" stroke="#4fae62" stroke-width="1"/>
<circle cx="375.62" cy="187.93" r="1.30" fill="#d3173f"/>
<circle cx="375.91" cy="188.06" r="1.30" fill="#d3173f"/>
<circle cx="376.48" cy="186.87" r="1.30" fill="#d3173f"/>
<circle cx="375.13" cy="188.57" r="1.30" fill="#d3173f"/>
<circle cx="376.20" cy="187.83" r="1.45" fill="#d3173f"/>
<line x1="373.90" y1="187.83" x2="378.50" y2="187.83" stroke="#d3173f" stroke-width="1"/>
<circle cx="382.72" cy="191.36" r="1.30" fill="#1e5a8a"/>
<circle cx="383.07" cy="191.47" r="1.30" fill="#1e5a8a"/>
<circle cx="382.35" cy="192.02" r="1.30" fill="#1e5a8a"/>
<circle cx="384.22" cy="192.89" r="1.30" fill="#1e5a8a"/>
<circle cx="383.30" cy="192.23" r="1.45" fill="#1e5a8a"/>
<line x1="381.00" y1="192.23" x2="385.60" y2="192.23" stroke="#1e5a8a" stroke-width="1"/>
<circle cx="390.07" cy="195.75" r="1.30" fill="#4fae62"/>
<circle cx="390.45" cy="196.19" r="1.30" fill="#4fae62"/>
<circle cx="390.33" cy="196.14" r="1.30" fill="#4fae62"/>
<circle cx="388.76" cy="195.14" r="1.30" fill="#4fae62"/>
<circle cx="389.80" cy="195.21" r="1.45" fill="#4fae62"/>
<line x1="387.50" y1="195.21" x2="392.10" y2="195.21" stroke="#4fae62" stroke-width="1"/>
<circle cx="399.15" cy="190.67" r="1.30" fill="#d3173f"/>
<circle cx="398.47" cy="189.44" r="1.30" fill="#d3173f"/>
<circle cx="397.40" cy="190.32" r="1.30" fill="#d3173f"/>
<circle cx="398.43" cy="190.53" r="1.30" fill="#d3173f"/>
<circle cx="398.50" cy="189.96" r="1.45" fill="#d3173f"/>
<line x1="396.20" y1="189.96" x2="400.80" y2="189.96" stroke="#d3173f" stroke-width="1"/>
<circle cx="404.81" cy="196.43" r="1.30" fill="#1e5a8a"/>
<circle cx="405.53" cy="196.26" r="1.30" fill="#1e5a8a"/>
<circle cx="405.28" cy="196.91" r="1.30" fill="#1e5a8a"/>
<circle cx="404.23" cy="197.22" r="1.30" fill="#1e5a8a"/>
<circle cx="405.20" cy="197.20" r="1.45" fill="#1e5a8a"/>
<line x1="402.90" y1="197.20" x2="407.50" y2="197.20" stroke="#1e5a8a" stroke-width="1"/>
<circle cx="411.70" cy="202.20" r="1.30" fill="#4fae62"/>
<circle cx="411.48" cy="201.63" r="1.30" fill="#4fae62"/>
<circle cx="411.39" cy="200.62" r="1.30" fill="#4fae62"/>
<circle cx="413.40" cy="200.54" r="1.30" fill="#4fae62"/>
<circle cx="412.30" cy="201.18" r="1.45" fill="#4fae62"/>
<line x1="410.00" y1="201.18" x2="414.60" y2="201.18" stroke="#4fae62" stroke-width="1"/>
<line x1="353.40" y1="200.30" x2="366.60" y2="200.30" stroke="#2a2a2a" stroke-width="1.05"/>
<text transform="translate(360.10 200.65)" font-size="7.7" text-anchor="middle" fill="#1e1e1e" stroke="#1e1e1e" stroke-width="0.42" letter-spacing="0.2">***</text>
<line x1="353.40" y1="207.40" x2="360.60" y2="207.40" stroke="#2a2a2a" stroke-width="1.05"/>
<text transform="translate(357.10 207.75)" font-size="7.7" text-anchor="middle" fill="#1e1e1e" stroke="#1e1e1e" stroke-width="0.42" letter-spacing="0.2">***</text>
<line x1="377.00" y1="175.30" x2="390.90" y2="175.30" stroke="#2a2a2a" stroke-width="1.05"/>
<text transform="translate(384.05 175.65)" font-size="7.7" text-anchor="middle" fill="#1e1e1e" stroke="#1e1e1e" stroke-width="0.42" letter-spacing="0.2">***</text>
<line x1="377.00" y1="183.00" x2="384.40" y2="183.00" stroke="#2a2a2a" stroke-width="1.05"/>
<text transform="translate(380.80 183.35)" font-size="7.7" text-anchor="middle" fill="#1e1e1e" stroke="#1e1e1e" stroke-width="0.42" letter-spacing="0.2">***</text>
<line x1="399.80" y1="178.10" x2="413.60" y2="178.10" stroke="#2a2a2a" stroke-width="1.05"/>
<text transform="translate(406.80 178.45)" font-size="7.7" text-anchor="middle" fill="#1e1e1e" stroke="#1e1e1e" stroke-width="0.42" letter-spacing="0.2">***</text>
<line x1="399.80" y1="185.60" x2="407.00" y2="185.60" stroke="#2a2a2a" stroke-width="1.05"/>
<text transform="translate(403.50 185.95)" font-size="7.7" text-anchor="middle" fill="#1e1e1e" stroke="#1e1e1e" stroke-width="0.42" letter-spacing="0.2">***</text>
<text transform="translate(364.90 236.30) rotate(-45)" font-size="7.5" text-anchor="end" fill="#141414" stroke="#141414" stroke-width="0.27">IL-2</text>
<text transform="translate(387.10 236.30) rotate(-45)" font-size="7.5" text-anchor="end" fill="#141414" stroke="#141414" stroke-width="0.27">IFN-γ</text>
<text transform="translate(409.60 236.30) rotate(-45)" font-size="7.5" text-anchor="end" fill="#141414" stroke="#141414" stroke-width="0.27">TNF-α</text>
<text transform="translate(486.50 149.50)" font-size="8.8" text-anchor="middle" fill="#141414" stroke="#141414" stroke-width="0.27">Raji</text>
<line x1="453.40" y1="153.20" x2="453.40" y2="228.95" stroke="#141414" stroke-width="1.3"/>
<line x1="452.75" y1="228.30" x2="520.50" y2="228.30" stroke="#141414" stroke-width="1.3"/>
<line x1="450.10" y1="228.30" x2="453.40" y2="228.30" stroke="#141414" stroke-width="1"/>
<text transform="translate(447.80 231.11)" font-size="7.8" text-anchor="end" fill="#141414" stroke="#141414" stroke-width="0.27">0</text>
<line x1="450.10" y1="214.10" x2="453.40" y2="214.10" stroke="#141414" stroke-width="1"/>
<text transform="translate(447.80 216.91)" font-size="7.8" text-anchor="end" fill="#141414" stroke="#141414" stroke-width="0.27">20</text>
<line x1="450.10" y1="199.90" x2="453.40" y2="199.90" stroke="#141414" stroke-width="1"/>
<text transform="translate(447.80 202.71)" font-size="7.8" text-anchor="end" fill="#141414" stroke="#141414" stroke-width="0.27">40</text>
<line x1="450.10" y1="185.70" x2="453.40" y2="185.70" stroke="#141414" stroke-width="1"/>
<text transform="translate(447.80 188.51)" font-size="7.8" text-anchor="end" fill="#141414" stroke="#141414" stroke-width="0.27">60</text>
<line x1="450.10" y1="171.50" x2="453.40" y2="171.50" stroke="#141414" stroke-width="1"/>
<text transform="translate(447.80 174.31)" font-size="7.8" text-anchor="end" fill="#141414" stroke="#141414" stroke-width="0.27">80</text>
<line x1="450.10" y1="157.30" x2="453.40" y2="157.30" stroke="#141414" stroke-width="1"/>
<text transform="translate(447.80 160.11)" font-size="7.8" text-anchor="end" fill="#141414" stroke="#141414" stroke-width="0.27">100</text>
<line x1="463.60" y1="228.30" x2="463.60" y2="231.60" stroke="#141414" stroke-width="1"/>
<line x1="485.80" y1="228.30" x2="485.80" y2="231.60" stroke="#141414" stroke-width="1"/>
<line x1="508.30" y1="228.30" x2="508.30" y2="231.60" stroke="#141414" stroke-width="1"/>
<text transform="translate(430.40 191.00) rotate(-90) scale(0.747 1)" font-size="9" text-anchor="middle" fill="#141414" stroke="#141414" stroke-width="0.4">CAR<tspan dy="-2.88" font-size="5.94">+</tspan><tspan dy="2.88">​</tspan> T cells (%)</text>
<circle cx="457.30" cy="216.93" r="1.30" fill="#d3173f"/>
<circle cx="458.33" cy="216.72" r="1.30" fill="#d3173f"/>
<circle cx="457.42" cy="216.99" r="1.30" fill="#d3173f"/>
<circle cx="456.71" cy="216.82" r="1.30" fill="#d3173f"/>
<circle cx="457.40" cy="216.80" r="1.45" fill="#d3173f"/>
<line x1="455.10" y1="216.80" x2="459.70" y2="216.80" stroke="#d3173f" stroke-width="1"/>
<circle cx="464.14" cy="220.69" r="1.30" fill="#1e5a8a"/>
<circle cx="464.57" cy="219.56" r="1.30" fill="#1e5a8a"/>
<circle cx="463.12" cy="220.07" r="1.30" fill="#1e5a8a"/>
<circle cx="463.70" cy="221.03" r="1.30" fill="#1e5a8a"/>
<circle cx="464.20" cy="220.35" r="1.45" fill="#1e5a8a"/>
<line x1="461.90" y1="220.35" x2="466.50" y2="220.35" stroke="#1e5a8a" stroke-width="1"/>
<circle cx="470.36" cy="222.10" r="0.70" fill="#4fae62"/>
<circle cx="470.78" cy="222.26" r="0.70" fill="#4fae62"/>
<circle cx="470.29" cy="221.64" r="0.70" fill="#4fae62"/>
<line x1="468.30" y1="221.91" x2="472.90" y2="221.91" stroke="#4fae62" stroke-width="1"/>
<circle cx="478.60" cy="193.11" r="1.30" fill="#d3173f"/>
<circle cx="480.13" cy="194.31" r="1.30" fill="#d3173f"/>
<circle cx="479.06" cy="190.86" r="1.30" fill="#d3173f"/>
<circle cx="480.36" cy="192.89" r="1.30" fill="#d3173f"/>
<circle cx="479.15" cy="193.02" r="1.30" fill="#d3173f"/>
<circle cx="479.70" cy="192.09" r="1.45" fill="#d3173f"/>
<line x1="477.40" y1="192.09" x2="482.00" y2="192.09" stroke="#d3173f" stroke-width="1"/>
<circle cx="479.90" cy="176.33" r="0.95" fill="#d3173f"/>
<circle cx="487.32" cy="201.21" r="1.30" fill="#1e5a8a"/>
<circle cx="486.77" cy="201.56" r="1.30" fill="#1e5a8a"/>
<circle cx="487.37" cy="201.23" r="1.30" fill="#1e5a8a"/>
<circle cx="487.11" cy="202.82" r="1.30" fill="#1e5a8a"/>
<circle cx="486.20" cy="202.39" r="1.45" fill="#1e5a8a"/>
<line x1="483.90" y1="202.39" x2="488.50" y2="202.39" stroke="#1e5a8a" stroke-width="1"/>
<circle cx="485.40" cy="211.97" r="0.90" fill="#1e5a8a"/>
<circle cx="487.20" cy="210.91" r="0.90" fill="#1e5a8a"/>
<circle cx="493.60" cy="207.00" r="0.80" fill="#4fae62"/>
<circle cx="493.60" cy="209.49" r="0.80" fill="#4fae62"/>
<circle cx="492.20" cy="218.72" r="0.80" fill="#4fae62"/>
<circle cx="492.20" cy="220.84" r="0.80" fill="#4fae62"/>
<line x1="490.40" y1="213.67" x2="495.20" y2="213.67" stroke="#4fae62" stroke-width="0.9"/>
<circle cx="501.44" cy="213.84" r="1.30" fill="#d3173f"/>
<circle cx="501.58" cy="213.75" r="1.30" fill="#d3173f"/>
<circle cx="501.56" cy="214.30" r="1.30" fill="#d3173f"/>
<circle cx="501.17" cy="214.24" r="1.30" fill="#d3173f"/>
<circle cx="500.53" cy="213.37" r="1.30" fill="#d3173f"/>
<circle cx="501.80" cy="213.89" r="1.45" fill="#d3173f"/>
<line x1="499.50" y1="213.89" x2="504.10" y2="213.89" stroke="#d3173f" stroke-width="1"/>
<circle cx="508.65" cy="218.75" r="1.30" fill="#1e5a8a"/>
<circle cx="509.61" cy="217.61" r="1.30" fill="#1e5a8a"/>
<circle cx="509.19" cy="218.53" r="1.30" fill="#1e5a8a"/>
<circle cx="508.96" cy="217.22" r="1.30" fill="#1e5a8a"/>
<circle cx="508.60" cy="218.08" r="1.45" fill="#1e5a8a"/>
<line x1="506.30" y1="218.08" x2="510.90" y2="218.08" stroke="#1e5a8a" stroke-width="1"/>
<circle cx="514.17" cy="220.03" r="0.75" fill="#4fae62"/>
<circle cx="514.57" cy="218.10" r="0.75" fill="#4fae62"/>
<circle cx="514.97" cy="219.33" r="0.75" fill="#4fae62"/>
<circle cx="514.95" cy="219.18" r="0.75" fill="#4fae62"/>
<line x1="512.70" y1="219.35" x2="517.30" y2="219.35" stroke="#4fae62" stroke-width="1"/>
<line x1="456.40" y1="205.10" x2="470.00" y2="205.10" stroke="#2a2a2a" stroke-width="1.05"/>
<text transform="translate(463.30 205.45)" font-size="7.7" text-anchor="middle" fill="#1e1e1e" stroke="#1e1e1e" stroke-width="0.42" letter-spacing="0.2">***</text>
<line x1="456.40" y1="212.30" x2="463.60" y2="212.30" stroke="#2a2a2a" stroke-width="1.05"/>
<text transform="translate(460.10 212.65)" font-size="7.7" text-anchor="middle" fill="#1e1e1e" stroke="#1e1e1e" stroke-width="0.42" letter-spacing="0.2">***</text>
<line x1="482.60" y1="176.00" x2="495.40" y2="176.00" stroke="#2a2a2a" stroke-width="1.05"/>
<text transform="translate(489.10 176.35)" font-size="7.7" text-anchor="middle" fill="#1e1e1e" stroke="#1e1e1e" stroke-width="0.42" letter-spacing="0.2">***</text>
<line x1="481.60" y1="183.50" x2="489.40" y2="183.50" stroke="#2a2a2a" stroke-width="1.05"/>
<text transform="translate(485.60 183.85)" font-size="7.7" text-anchor="middle" fill="#1e1e1e" stroke="#1e1e1e" stroke-width="0.42" letter-spacing="0.2">***</text>
<line x1="503.90" y1="178.20" x2="517.60" y2="178.20" stroke="#2a2a2a" stroke-width="1.05"/>
<text transform="translate(510.85 178.55)" font-size="7.7" text-anchor="middle" fill="#1e1e1e" stroke="#1e1e1e" stroke-width="0.42" letter-spacing="0.2">***</text>
<line x1="503.90" y1="185.50" x2="511.50" y2="185.50" stroke="#2a2a2a" stroke-width="1.05"/>
<text transform="translate(507.80 185.85)" font-size="7.7" text-anchor="middle" fill="#1e1e1e" stroke="#1e1e1e" stroke-width="0.42" letter-spacing="0.2">***</text>
<text transform="translate(468.00 236.30) rotate(-45)" font-size="7.5" text-anchor="end" fill="#141414" stroke="#141414" stroke-width="0.27">IL-2</text>
<text transform="translate(490.20 236.30) rotate(-45)" font-size="7.5" text-anchor="end" fill="#141414" stroke="#141414" stroke-width="0.27">IFN-γ</text>
<text transform="translate(512.70 236.30) rotate(-45)" font-size="7.5" text-anchor="end" fill="#141414" stroke="#141414" stroke-width="0.27">TNF-α</text>
<text transform="translate(5.20 272.20)" font-size="11" text-anchor="start" font-weight="bold" fill="#000">F</text>
<text transform="translate(14.20 291.70)" font-size="8.3" text-anchor="start" fill="#141414" stroke="#141414" stroke-width="0.27">WT</text>
<text transform="translate(45.00 291.70)" font-size="8.3" text-anchor="start" fill="#141414" stroke="#141414" stroke-width="0.27">CAR T</text>
<text transform="translate(118.00 291.70)" font-size="8.3" text-anchor="start" fill="#141414" stroke="#141414" stroke-width="0.27">CAR T</text>
<text transform="translate(156.20 291.70)" font-size="8.3" text-anchor="start" fill="#141414" stroke="#141414" stroke-width="0.27">WT</text>
<text transform="translate(5.30 329.70)" font-size="8.9" text-anchor="start" fill="#141414" stroke="#141414" stroke-width="0.27">CD58<tspan dy="-3.0" font-size="6.1">KO</tspan></text>
<rect x="13.00" y="295.20" width="55.80" height="22.00" rx="3.6" fill="#fff" stroke="#222" stroke-width="1.0"/>
<rect x="13.00" y="333.20" width="55.80" height="22.30" rx="3.6" fill="#fff" stroke="#222" stroke-width="1.0"/>
<rect x="116.20" y="295.50" width="55.30" height="21.80" rx="3.6" fill="#fff" stroke="#222" stroke-width="1.0"/>
<rect x="116.20" y="332.60" width="55.30" height="22.80" rx="3.6" fill="#fff" stroke="#222" stroke-width="1.0"/>
<circle cx="27.50" cy="302.50" r="5.70" fill="url(#gRl)"/>
<circle cx="20.60" cy="305.80" r="5.90" fill="url(#gR)"/>
<circle cx="28.60" cy="309.70" r="5.80" fill="url(#gR)"/>
<circle cx="26.50" cy="341.30" r="5.70" fill="url(#gBl)"/>
<circle cx="19.60" cy="344.60" r="5.90" fill="url(#gB)"/>
<circle cx="27.60" cy="348.50" r="5.80" fill="url(#gB)"/>
<circle cx="53.20" cy="303.40" r="5.20" fill="url(#gGl)"/>
<circle cx="61.70" cy="307.70" r="5.80" fill="url(#gG)"/>
<circle cx="53.20" cy="311.80" r="5.60" fill="url(#gG)"/>
<circle cx="50.20" cy="297.50" r="1.25" fill="#5b8fbe"/>
<circle cx="49.40" cy="305.60" r="1.25" fill="#5b8fbe"/>
<circle cx="58.50" cy="301.50" r="1.25" fill="#5b8fbe"/>
<circle cx="52.90" cy="342.50" r="5.20" fill="url(#gGl)"/>
<circle cx="61.40" cy="346.80" r="5.80" fill="url(#gG)"/>
<circle cx="52.90" cy="350.90" r="5.60" fill="url(#gG)"/>
<circle cx="49.90" cy="336.60" r="1.25" fill="#5b8fbe"/>
<circle cx="49.10" cy="344.70" r="1.25" fill="#5b8fbe"/>
<circle cx="58.20" cy="340.60" r="1.25" fill="#5b8fbe"/>
<circle cx="130.10" cy="304.10" r="5.20" fill="url(#gGl)"/>
<circle cx="122.00" cy="308.20" r="5.80" fill="url(#gG)"/>
<circle cx="131.10" cy="311.20" r="5.60" fill="url(#gG)"/>
<circle cx="134.60" cy="297.70" r="1.25" fill="#5b8fbe"/>
<circle cx="127.10" cy="301.70" r="1.25" fill="#5b8fbe"/>
<circle cx="136.00" cy="305.80" r="1.25" fill="#5b8fbe"/>
<circle cx="130.10" cy="340.90" r="5.20" fill="url(#gGl)"/>
<circle cx="122.00" cy="345.00" r="5.80" fill="url(#gG)"/>
<circle cx="131.10" cy="348.00" r="5.60" fill="url(#gG)"/>
<circle cx="134.60" cy="334.50" r="1.25" fill="#5b8fbe"/>
<circle cx="127.10" cy="338.50" r="1.25" fill="#5b8fbe"/>
<circle cx="136.00" cy="342.60" r="1.25" fill="#5b8fbe"/>
<circle cx="162.70" cy="304.00" r="5.70" fill="url(#gRl)"/>
<circle cx="155.80" cy="307.30" r="5.90" fill="url(#gR)"/>
<circle cx="163.80" cy="311.20" r="5.80" fill="url(#gR)"/>
<circle cx="162.70" cy="341.30" r="5.70" fill="url(#gRl)"/>
<circle cx="155.80" cy="344.60" r="5.90" fill="url(#gR)"/>
<circle cx="163.80" cy="348.50" r="5.80" fill="url(#gR)"/>
<line x1="37.80" y1="307.40" x2="43.00" y2="307.40" stroke="#222" stroke-width="1.15"/>
<line x1="40.40" y1="304.80" x2="40.40" y2="310.00" stroke="#222" stroke-width="1.15"/>
<line x1="37.60" y1="345.60" x2="42.80" y2="345.60" stroke="#222" stroke-width="1.15"/>
<line x1="40.20" y1="343.00" x2="40.20" y2="348.20" stroke="#222" stroke-width="1.15"/>
<line x1="143.10" y1="307.80" x2="148.30" y2="307.80" stroke="#222" stroke-width="1.15"/>
<line x1="145.70" y1="305.20" x2="145.70" y2="310.40" stroke="#222" stroke-width="1.15"/>
<line x1="141.70" y1="343.60" x2="146.90" y2="343.60" stroke="#6b2a2a" stroke-width="1.15"/>
<line x1="144.30" y1="341.00" x2="144.30" y2="346.20" stroke="#6b2a2a" stroke-width="1.15"/>
<line x1="68.60" y1="323.00" x2="111.50" y2="323.00" stroke="#141414" stroke-width="1.1"/>
<path d="M115.8 323.0 L110.4 320.3 L110.4 325.7 Z" fill="#1c1c1c"/>
<text transform="translate(92.20 333.60)" font-size="8" text-anchor="middle" fill="#141414" stroke="#141414" stroke-width="0.27">Sort CAR T</text>
<circle cx="88.70" cy="313.20" r="3.10" fill="url(#gG)"/>
<circle cx="93.60" cy="311.80" r="3.00" fill="url(#gGl)"/>
<circle cx="92.60" cy="315.80" r="3.00" fill="url(#gG)"/>
<circle cx="95.30" cy="308.20" r="0.85" fill="#5b8fbe"/>
<text transform="translate(184.80 271.70)" font-size="11" text-anchor="start" font-weight="bold" fill="#000">G</text>
<line x1="207.20" y1="276.50" x2="207.20" y2="355.65" stroke="#141414" stroke-width="1.3"/>
<line x1="206.55" y1="355.00" x2="284.50" y2="355.00" stroke="#141414" stroke-width="1.3"/>
<line x1="203.90" y1="355.00" x2="207.20" y2="355.00" stroke="#141414" stroke-width="1"/>
<text transform="translate(201.60 357.81)" font-size="7.8" text-anchor="end" fill="#141414" stroke="#141414" stroke-width="0.27">0</text>
<line x1="203.90" y1="330.00" x2="207.20" y2="330.00" stroke="#141414" stroke-width="1"/>
<text transform="translate(201.60 332.81)" font-size="7.8" text-anchor="end" fill="#141414" stroke="#141414" stroke-width="0.27">1</text>
<line x1="203.90" y1="305.00" x2="207.20" y2="305.00" stroke="#141414" stroke-width="1"/>
<text transform="translate(201.60 307.81)" font-size="7.8" text-anchor="end" fill="#141414" stroke="#141414" stroke-width="0.27">2</text>
<line x1="203.90" y1="280.00" x2="207.20" y2="280.00" stroke="#141414" stroke-width="1"/>
<text transform="translate(201.60 282.81)" font-size="7.8" text-anchor="end" fill="#141414" stroke="#141414" stroke-width="0.27">3</text>
<line x1="225.40" y1="355.00" x2="225.40" y2="358.30" stroke="#141414" stroke-width="1"/>
<text transform="translate(225.40 366.50)" font-size="7.8" text-anchor="middle" fill="#141414" stroke="#141414" stroke-width="0.27">24</text>
<line x1="264.00" y1="355.00" x2="264.00" y2="358.30" stroke="#141414" stroke-width="1"/>
<text transform="translate(264.00 366.50)" font-size="7.8" text-anchor="middle" fill="#141414" stroke="#141414" stroke-width="0.27">48</text>
<rect x="211.50" y="308.10" width="6.80" height="46.90" fill="#e27a8c"/>
<line x1="214.90" y1="304.60" x2="214.90" y2="312.00" stroke="#9c1031" stroke-width="1.15"/>
<line x1="212.70" y1="304.60" x2="217.10" y2="304.60" stroke="#9c1031" stroke-width="1.15"/>
<line x1="212.70" y1="312.00" x2="217.10" y2="312.00" stroke="#9c1031" stroke-width="1.15"/>
<circle cx="214.35" cy="306.00" r="1.05" fill="#9c1031"/>
<circle cx="214.90" cy="309.50" r="1.05" fill="#9c1031"/>
<circle cx="215.45" cy="311.00" r="1.05" fill="#9c1031"/>
<rect x="221.60" y="321.00" width="7.20" height="34.00" fill="#7da1c2"/>
<line x1="225.20" y1="317.60" x2="225.20" y2="324.40" stroke="#13395e" stroke-width="1.15"/>
<line x1="223.00" y1="317.60" x2="227.40" y2="317.60" stroke="#13395e" stroke-width="1.15"/>
<line x1="223.00" y1="324.40" x2="227.40" y2="324.40" stroke="#13395e" stroke-width="1.15"/>
<circle cx="224.65" cy="319.00" r="1.05" fill="#13395e"/>
<circle cx="225.20" cy="321.50" r="1.05" fill="#13395e"/>
<circle cx="225.75" cy="323.50" r="1.05" fill="#13395e"/>
<rect x="232.20" y="320.30" width="7.30" height="34.70" fill="#97d59d"/>
<line x1="235.85" y1="314.10" x2="235.85" y2="325.90" stroke="#1f6039" stroke-width="1.15"/>
<line x1="233.65" y1="314.10" x2="238.05" y2="314.10" stroke="#1f6039" stroke-width="1.15"/>
<line x1="233.65" y1="325.90" x2="238.05" y2="325.90" stroke="#1f6039" stroke-width="1.15"/>
<circle cx="235.30" cy="317.00" r="1.05" fill="#1f6039"/>
<circle cx="235.85" cy="321.00" r="1.05" fill="#1f6039"/>
<circle cx="236.40" cy="324.50" r="1.05" fill="#1f6039"/>
<rect x="250.20" y="297.10" width="7.20" height="57.90" fill="#e27a8c"/>
<line x1="253.80" y1="288.20" x2="253.80" y2="307.00" stroke="#9c1031" stroke-width="1.15"/>
<line x1="251.60" y1="288.20" x2="256.00" y2="288.20" stroke="#9c1031" stroke-width="1.15"/>
<line x1="251.60" y1="307.00" x2="256.00" y2="307.00" stroke="#9c1031" stroke-width="1.15"/>
<circle cx="253.25" cy="289.50" r="1.05" fill="#9c1031"/>
<circle cx="253.80" cy="298.00" r="1.05" fill="#9c1031"/>
<circle cx="254.35" cy="305.50" r="1.05" fill="#9c1031"/>
<rect x="260.80" y="325.80" width="7.20" height="29.20" fill="#7da1c2"/>
<line x1="264.40" y1="324.20" x2="264.40" y2="328.00" stroke="#13395e" stroke-width="1.15"/>
<line x1="262.20" y1="324.20" x2="266.60" y2="324.20" stroke="#13395e" stroke-width="1.15"/>
<line x1="262.20" y1="328.00" x2="266.60" y2="328.00" stroke="#13395e" stroke-width="1.15"/>
<circle cx="263.85" cy="324.80" r="1.05" fill="#13395e"/>
<circle cx="264.40" cy="326.00" r="1.05" fill="#13395e"/>
<circle cx="264.95" cy="327.00" r="1.05" fill="#13395e"/>
<rect x="271.60" y="331.30" width="7.30" height="23.70" fill="#97d59d"/>
<line x1="275.25" y1="324.40" x2="275.25" y2="337.60" stroke="#1f6039" stroke-width="1.15"/>
<line x1="273.05" y1="324.40" x2="277.45" y2="324.40" stroke="#1f6039" stroke-width="1.15"/>
<line x1="273.05" y1="337.60" x2="277.45" y2="337.60" stroke="#1f6039" stroke-width="1.15"/>
<circle cx="274.70" cy="326.00" r="1.05" fill="#1f6039"/>
<circle cx="275.25" cy="331.00" r="1.05" fill="#1f6039"/>
<circle cx="275.80" cy="336.50" r="1.05" fill="#1f6039"/>
<line x1="213.00" y1="294.20" x2="236.60" y2="294.20" stroke="#2a2a2a" stroke-width="1.05"/>
<text transform="translate(224.90 294.55)" font-size="7.7" text-anchor="middle" fill="#1e1e1e" stroke="#1e1e1e" stroke-width="0.42" letter-spacing="0.2">*</text>
<line x1="213.00" y1="301.00" x2="226.00" y2="301.00" stroke="#2a2a2a" stroke-width="1.05"/>
<text transform="translate(219.60 301.35)" font-size="7.7" text-anchor="middle" fill="#1e1e1e" stroke="#1e1e1e" stroke-width="0.42" letter-spacing="0.2">*</text>
<line x1="251.70" y1="277.60" x2="275.70" y2="277.60" stroke="#2a2a2a" stroke-width="1.05"/>
<text transform="translate(263.80 277.95)" font-size="7.7" text-anchor="middle" fill="#1e1e1e" stroke="#1e1e1e" stroke-width="0.42" letter-spacing="0.2">***</text>
<line x1="251.70" y1="285.30" x2="264.20" y2="285.30" stroke="#2a2a2a" stroke-width="1.05"/>
<text transform="translate(258.05 285.65)" font-size="7.7" text-anchor="middle" fill="#1e1e1e" stroke="#1e1e1e" stroke-width="0.42" letter-spacing="0.2">***</text>
<text transform="translate(191.40 315.70) rotate(-90) scale(0.6987 1)" font-size="9" text-anchor="middle" fill="#141414" stroke="#141414" stroke-width="0.4">Fold change in CAR T count</text>
<text transform="translate(245.50 378.30) scale(0.7161 1)" font-size="9" text-anchor="middle" fill="#141414" stroke="#141414" stroke-width="0.4">Time(h)</text>
<text transform="translate(299.80 272.10)" font-size="11" text-anchor="start" font-weight="bold" fill="#000">H</text>
<line x1="329.40" y1="278.20" x2="329.40" y2="355.65" stroke="#141414" stroke-width="1.3"/>
<line x1="328.75" y1="355.00" x2="403.30" y2="355.00" stroke="#141414" stroke-width="1.3"/>
<line x1="326.10" y1="355.00" x2="329.40" y2="355.00" stroke="#141414" stroke-width="1"/>
<text transform="translate(323.80 357.81)" font-size="7.8" text-anchor="end" fill="#141414" stroke="#141414" stroke-width="0.27">0</text>
<line x1="326.10" y1="336.69" x2="329.40" y2="336.69" stroke="#141414" stroke-width="1"/>
<text transform="translate(323.80 339.50)" font-size="7.8" text-anchor="end" fill="#141414" stroke="#141414" stroke-width="0.27">25</text>
<line x1="326.10" y1="318.38" x2="329.40" y2="318.38" stroke="#141414" stroke-width="1"/>
<text transform="translate(323.80 321.18)" font-size="7.8" text-anchor="end" fill="#141414" stroke="#141414" stroke-width="0.27">50</text>
<line x1="326.10" y1="300.06" x2="329.40" y2="300.06" stroke="#141414" stroke-width="1"/>
<text transform="translate(323.80 302.87)" font-size="7.8" text-anchor="end" fill="#141414" stroke="#141414" stroke-width="0.27">75</text>
<line x1="326.10" y1="281.75" x2="329.40" y2="281.75" stroke="#141414" stroke-width="1"/>
<text transform="translate(323.80 284.56)" font-size="7.8" text-anchor="end" fill="#141414" stroke="#141414" stroke-width="0.27">100</text>
<line x1="348.00" y1="355.00" x2="348.00" y2="358.30" stroke="#141414" stroke-width="1"/>
<text transform="translate(348.00 366.50)" font-size="7.8" text-anchor="middle" fill="#141414" stroke="#141414" stroke-width="0.27">24</text>
<line x1="386.30" y1="355.00" x2="386.30" y2="358.30" stroke="#141414" stroke-width="1"/>
<text transform="translate(386.30 366.50)" font-size="7.8" text-anchor="middle" fill="#141414" stroke="#141414" stroke-width="0.27">48</text>
<rect x="333.60" y="308.10" width="7.30" height="46.90" fill="#e27a8c"/>
<line x1="337.25" y1="303.00" x2="337.25" y2="313.30" stroke="#9c1031" stroke-width="1.15"/>
<line x1="335.05" y1="303.00" x2="339.45" y2="303.00" stroke="#9c1031" stroke-width="1.15"/>
<line x1="335.05" y1="313.30" x2="339.45" y2="313.30" stroke="#9c1031" stroke-width="1.15"/>
<circle cx="336.43" cy="304.50" r="1.05" fill="#9c1031"/>
<circle cx="336.98" cy="309.00" r="1.05" fill="#9c1031"/>
<circle cx="337.52" cy="307.00" r="1.05" fill="#9c1031"/>
<circle cx="338.07" cy="312.50" r="1.05" fill="#9c1031"/>
<rect x="344.20" y="326.30" width="7.30" height="28.70" fill="#7da1c2"/>
<line x1="347.85" y1="320.30" x2="347.85" y2="331.40" stroke="#13395e" stroke-width="1.15"/>
<line x1="345.65" y1="320.30" x2="350.05" y2="320.30" stroke="#13395e" stroke-width="1.15"/>
<line x1="345.65" y1="331.40" x2="350.05" y2="331.40" stroke="#13395e" stroke-width="1.15"/>
<circle cx="347.30" cy="322.00" r="1.05" fill="#13395e"/>
<circle cx="347.85" cy="326.50" r="1.05" fill="#13395e"/>
<circle cx="348.40" cy="330.00" r="1.05" fill="#13395e"/>
<rect x="354.80" y="335.30" width="7.30" height="19.70" fill="#97d59d"/>
<line x1="358.45" y1="331.80" x2="358.45" y2="338.50" stroke="#1f6039" stroke-width="1.15"/>
<line x1="356.25" y1="331.80" x2="360.65" y2="331.80" stroke="#1f6039" stroke-width="1.15"/>
<line x1="356.25" y1="338.50" x2="360.65" y2="338.50" stroke="#1f6039" stroke-width="1.15"/>
<circle cx="357.90" cy="333.00" r="1.05" fill="#1f6039"/>
<circle cx="358.45" cy="335.50" r="1.05" fill="#1f6039"/>
<circle cx="359.00" cy="337.50" r="1.05" fill="#1f6039"/>
<rect x="371.80" y="329.60" width="7.30" height="25.40" fill="#e27a8c"/>
<line x1="375.45" y1="327.60" x2="375.45" y2="331.40" stroke="#9c1031" stroke-width="1.15"/>
<line x1="373.25" y1="327.60" x2="377.65" y2="327.60" stroke="#9c1031" stroke-width="1.15"/>
<line x1="373.25" y1="331.40" x2="377.65" y2="331.40" stroke="#9c1031" stroke-width="1.15"/>
<circle cx="374.63" cy="328.50" r="1.05" fill="#9c1031"/>
<circle cx="375.18" cy="329.50" r="1.05" fill="#9c1031"/>
<circle cx="375.73" cy="330.50" r="1.05" fill="#9c1031"/>
<circle cx="376.28" cy="329.00" r="1.05" fill="#9c1031"/>
<rect x="382.40" y="340.20" width="7.50" height="14.80" fill="#7da1c2"/>
<line x1="386.15" y1="335.80" x2="386.15" y2="343.60" stroke="#13395e" stroke-width="1.15"/>
<line x1="383.95" y1="335.80" x2="388.35" y2="335.80" stroke="#13395e" stroke-width="1.15"/>
<line x1="383.95" y1="343.60" x2="388.35" y2="343.60" stroke="#13395e" stroke-width="1.15"/>
<circle cx="385.60" cy="337.00" r="1.05" fill="#13395e"/>
<circle cx="386.15" cy="340.00" r="1.05" fill="#13395e"/>
<circle cx="386.70" cy="342.80" r="1.05" fill="#13395e"/>
<rect x="393.30" y="343.50" width="7.30" height="11.50" fill="#97d59d"/>
<line x1="396.95" y1="340.60" x2="396.95" y2="345.80" stroke="#1f6039" stroke-width="1.15"/>
<line x1="394.75" y1="340.60" x2="399.15" y2="340.60" stroke="#1f6039" stroke-width="1.15"/>
<line x1="394.75" y1="345.80" x2="399.15" y2="345.80" stroke="#1f6039" stroke-width="1.15"/>
<circle cx="396.40" cy="341.50" r="1.05" fill="#1f6039"/>
<circle cx="396.95" cy="343.50" r="1.05" fill="#1f6039"/>
<circle cx="397.50" cy="345.00" r="1.05" fill="#1f6039"/>
<line x1="336.90" y1="292.00" x2="358.60" y2="292.00" stroke="#2a2a2a" stroke-width="1.05"/>
<text transform="translate(347.85 292.35)" font-size="7.7" text-anchor="middle" fill="#1e1e1e" stroke="#1e1e1e" stroke-width="0.42" letter-spacing="0.2">***</text>
<line x1="336.90" y1="299.70" x2="348.70" y2="299.70" stroke="#2a2a2a" stroke-width="1.05"/>
<text transform="translate(342.90 300.05)" font-size="7.7" text-anchor="middle" fill="#1e1e1e" stroke="#1e1e1e" stroke-width="0.42" letter-spacing="0.2">***</text>
<line x1="375.10" y1="316.30" x2="396.70" y2="316.30" stroke="#2a2a2a" stroke-width="1.05"/>
<text transform="translate(386.00 316.65)" font-size="7.7" text-anchor="middle" fill="#1e1e1e" stroke="#1e1e1e" stroke-width="0.42" letter-spacing="0.2">**</text>
<line x1="375.10" y1="323.60" x2="386.70" y2="323.60" stroke="#2a2a2a" stroke-width="1.05"/>
<text transform="translate(381.00 323.95)" font-size="7.7" text-anchor="middle" fill="#1e1e1e" stroke="#1e1e1e" stroke-width="0.42" letter-spacing="0.2">*</text>
<text transform="translate(306.00 316.75) rotate(-90) scale(0.7381 1)" font-size="9" text-anchor="middle" fill="#141414" stroke="#141414" stroke-width="0.4">CAR<tspan dy="-2.88" font-size="5.94">+</tspan><tspan dy="2.88">​</tspan> Ki67<tspan dy="-2.88" font-size="5.94">+</tspan><tspan dy="2.88">​</tspan> T cells (%)</text>
<text transform="translate(366.60 378.30) scale(0.7226 1)" font-size="9" text-anchor="middle" fill="#141414" stroke="#141414" stroke-width="0.4">Time(h)</text>
<text transform="translate(419.30 271.70)" font-size="11" text-anchor="start" font-weight="bold" fill="#000">I</text>
<line x1="447.50" y1="282.40" x2="447.50" y2="355.65" stroke="#141414" stroke-width="1.3"/>
<line x1="446.85" y1="355.00" x2="520.50" y2="355.00" stroke="#141414" stroke-width="1.3"/>
<line x1="444.20" y1="355.00" x2="447.50" y2="355.00" stroke="#141414" stroke-width="1"/>
<text transform="translate(441.90 357.81)" font-size="7.8" text-anchor="end" fill="#141414" stroke="#141414" stroke-width="0.27">0</text>
<line x1="444.20" y1="337.75" x2="447.50" y2="337.75" stroke="#141414" stroke-width="1"/>
<text transform="translate(441.90 340.56)" font-size="7.8" text-anchor="end" fill="#141414" stroke="#141414" stroke-width="0.27">20</text>
<line x1="444.20" y1="320.50" x2="447.50" y2="320.50" stroke="#141414" stroke-width="1"/>
<text transform="translate(441.90 323.31)" font-size="7.8" text-anchor="end" fill="#141414" stroke="#141414" stroke-width="0.27">40</text>
<line x1="444.20" y1="303.25" x2="447.50" y2="303.25" stroke="#141414" stroke-width="1"/>
<text transform="translate(441.90 306.06)" font-size="7.8" text-anchor="end" fill="#141414" stroke="#141414" stroke-width="0.27">60</text>
<line x1="444.20" y1="286.00" x2="447.50" y2="286.00" stroke="#141414" stroke-width="1"/>
<text transform="translate(441.90 288.81)" font-size="7.8" text-anchor="end" fill="#141414" stroke="#141414" stroke-width="0.27">80</text>
<line x1="463.00" y1="355.00" x2="463.00" y2="358.30" stroke="#141414" stroke-width="1"/>
<text transform="translate(463.00 366.50)" font-size="7.8" text-anchor="middle" fill="#141414" stroke="#141414" stroke-width="0.27">0.5</text>
<line x1="500.20" y1="355.00" x2="500.20" y2="358.30" stroke="#141414" stroke-width="1"/>
<text transform="translate(500.20 366.50)" font-size="7.8" text-anchor="middle" fill="#141414" stroke="#141414" stroke-width="0.27">1</text>
<rect x="451.00" y="300.40" width="6.50" height="54.60" fill="#e27a8c"/>
<line x1="454.25" y1="299.70" x2="454.25" y2="300.90" stroke="#9c1031" stroke-width="1.15"/>
<line x1="452.55" y1="299.70" x2="455.95" y2="299.70" stroke="#9c1031" stroke-width="1.15"/>
<line x1="452.55" y1="300.90" x2="455.95" y2="300.90" stroke="#9c1031" stroke-width="1.15"/>
<circle cx="453.70" cy="300.20" r="1.05" fill="#9c1031"/>
<circle cx="454.25" cy="300.60" r="1.05" fill="#9c1031"/>
<circle cx="454.80" cy="300.00" r="1.05" fill="#9c1031"/>
<rect x="460.40" y="310.80" width="7.00" height="44.20" fill="#7da1c2"/>
<line x1="463.90" y1="309.60" x2="463.90" y2="311.20" stroke="#13395e" stroke-width="1.15"/>
<line x1="462.20" y1="309.60" x2="465.60" y2="309.60" stroke="#13395e" stroke-width="1.15"/>
<line x1="462.20" y1="311.20" x2="465.60" y2="311.20" stroke="#13395e" stroke-width="1.15"/>
<circle cx="463.35" cy="310.00" r="1.05" fill="#13395e"/>
<circle cx="463.90" cy="310.80" r="1.05" fill="#13395e"/>
<circle cx="464.45" cy="310.30" r="1.05" fill="#13395e"/>
<rect x="470.70" y="309.20" width="6.90" height="45.80" fill="#97d59d"/>
<line x1="474.15" y1="308.80" x2="474.15" y2="309.60" stroke="#1f6039" stroke-width="1.15"/>
<line x1="472.45" y1="308.80" x2="475.85" y2="308.80" stroke="#1f6039" stroke-width="1.15"/>
<line x1="472.45" y1="309.60" x2="475.85" y2="309.60" stroke="#1f6039" stroke-width="1.15"/>
<circle cx="473.60" cy="309.00" r="1.05" fill="#1f6039"/>
<circle cx="474.15" cy="309.30" r="1.05" fill="#1f6039"/>
<circle cx="474.70" cy="309.10" r="1.05" fill="#1f6039"/>
<rect x="486.80" y="298.20" width="7.10" height="56.80" fill="#e27a8c"/>
<line x1="490.35" y1="297.30" x2="490.35" y2="298.90" stroke="#9c1031" stroke-width="1.15"/>
<line x1="488.65" y1="297.30" x2="492.05" y2="297.30" stroke="#9c1031" stroke-width="1.15"/>
<line x1="488.65" y1="298.90" x2="492.05" y2="298.90" stroke="#9c1031" stroke-width="1.15"/>
<circle cx="489.80" cy="297.60" r="1.05" fill="#9c1031"/>
<circle cx="490.35" cy="298.60" r="1.05" fill="#9c1031"/>
<circle cx="490.90" cy="298.20" r="1.05" fill="#9c1031"/>
<rect x="496.80" y="307.50" width="7.10" height="47.50" fill="#7da1c2"/>
<line x1="500.35" y1="306.00" x2="500.35" y2="308.00" stroke="#13395e" stroke-width="1.15"/>
<line x1="498.65" y1="306.00" x2="502.05" y2="306.00" stroke="#13395e" stroke-width="1.15"/>
<line x1="498.65" y1="308.00" x2="502.05" y2="308.00" stroke="#13395e" stroke-width="1.15"/>
<circle cx="499.80" cy="306.50" r="1.05" fill="#13395e"/>
<circle cx="500.35" cy="307.80" r="1.05" fill="#13395e"/>
<circle cx="500.90" cy="307.20" r="1.05" fill="#13395e"/>
<rect x="506.70" y="306.60" width="7.10" height="48.40" fill="#97d59d"/>
<line x1="510.25" y1="306.00" x2="510.25" y2="307.00" stroke="#1f6039" stroke-width="1.15"/>
<line x1="508.55" y1="306.00" x2="511.95" y2="306.00" stroke="#1f6039" stroke-width="1.15"/>
<line x1="508.55" y1="307.00" x2="511.95" y2="307.00" stroke="#1f6039" stroke-width="1.15"/>
<circle cx="509.70" cy="306.30" r="1.05" fill="#1f6039"/>
<circle cx="510.25" cy="306.80" r="1.05" fill="#1f6039"/>
<circle cx="510.80" cy="306.50" r="1.05" fill="#1f6039"/>
<line x1="453.20" y1="288.40" x2="473.70" y2="288.40" stroke="#2a2a2a" stroke-width="1.05"/>
<text transform="translate(463.55 288.75)" font-size="7.7" text-anchor="middle" fill="#1e1e1e" stroke="#1e1e1e" stroke-width="0.42" letter-spacing="0.2">***</text>
<line x1="453.20" y1="295.90" x2="463.70" y2="295.90" stroke="#2a2a2a" stroke-width="1.05"/>
<text transform="translate(458.55 296.25)" font-size="7.7" text-anchor="middle" fill="#1e1e1e" stroke="#1e1e1e" stroke-width="0.42" letter-spacing="0.2">***</text>
<line x1="490.80" y1="286.90" x2="510.80" y2="286.90" stroke="#2a2a2a" stroke-width="1.05"/>
<text transform="translate(500.90 287.25)" font-size="7.7" text-anchor="middle" fill="#1e1e1e" stroke="#1e1e1e" stroke-width="0.42" letter-spacing="0.2">***</text>
<line x1="490.80" y1="294.00" x2="501.30" y2="294.00" stroke="#2a2a2a" stroke-width="1.05"/>
<text transform="translate(496.15 294.35)" font-size="7.7" text-anchor="middle" fill="#1e1e1e" stroke="#1e1e1e" stroke-width="0.42" letter-spacing="0.2">***</text>
<text transform="translate(425.70 317.90) rotate(-90) scale(0.7233 1)" font-size="9" text-anchor="middle" fill="#141414" stroke="#141414" stroke-width="0.4">CAR<tspan dy="-2.88" font-size="5.94">+</tspan><tspan dy="2.88">​</tspan> CD107a<tspan dy="-2.88" font-size="5.94">+</tspan><tspan dy="2.88">​</tspan> T cells (%)</text>
<text transform="translate(484.40 378.30) scale(0.7613 1)" font-size="9" text-anchor="middle" fill="#141414" stroke="#141414" stroke-width="0.4">Time(h)</text>
<text transform="translate(5.20 396.60)" font-size="11" text-anchor="start" font-weight="bold" fill="#000">J</text>
<line x1="41.40" y1="417.00" x2="41.40" y2="516.05" stroke="#141414" stroke-width="1.3"/>
<line x1="40.75" y1="515.40" x2="115.00" y2="515.40" stroke="#141414" stroke-width="1.3"/>
<line x1="38.10" y1="515.40" x2="41.40" y2="515.40" stroke="#141414" stroke-width="1"/>
<text transform="translate(35.80 518.21)" font-size="7.8" text-anchor="end" fill="#141414" stroke="#141414" stroke-width="0.27">0</text>
<line x1="38.10" y1="491.82" x2="41.40" y2="491.82" stroke="#141414" stroke-width="1"/>
<text transform="translate(35.80 494.63)" font-size="7.8" text-anchor="end" fill="#141414" stroke="#141414" stroke-width="0.27">1000</text>
<line x1="38.10" y1="468.24" x2="41.40" y2="468.24" stroke="#141414" stroke-width="1"/>
<text transform="translate(35.80 471.05)" font-size="7.8" text-anchor="end" fill="#141414" stroke="#141414" stroke-width="0.27">2000</text>
<line x1="38.10" y1="444.66" x2="41.40" y2="444.66" stroke="#141414" stroke-width="1"/>
<text transform="translate(35.80 447.47)" font-size="7.8" text-anchor="end" fill="#141414" stroke="#141414" stroke-width="0.27">3000</text>
<line x1="38.10" y1="421.08" x2="41.40" y2="421.08" stroke="#141414" stroke-width="1"/>
<text transform="translate(35.80 423.89)" font-size="7.8" text-anchor="end" fill="#141414" stroke="#141414" stroke-width="0.27">4000</text>
<line x1="59.40" y1="515.40" x2="59.40" y2="518.70" stroke="#141414" stroke-width="1"/>
<text transform="translate(59.40 527.90)" font-size="7.8" text-anchor="middle" fill="#141414" stroke="#141414" stroke-width="0.27">24</text>
<line x1="95.70" y1="515.40" x2="95.70" y2="518.70" stroke="#141414" stroke-width="1"/>
<text transform="translate(95.70 527.90)" font-size="7.8" text-anchor="middle" fill="#141414" stroke="#141414" stroke-width="0.27">48</text>
<rect x="45.90" y="495.40" width="6.90" height="20.00" fill="#e27a8c"/>
<line x1="49.35" y1="492.90" x2="49.35" y2="498.50" stroke="#9c1031" stroke-width="1.15"/>
<line x1="47.45" y1="492.90" x2="51.25" y2="492.90" stroke="#9c1031" stroke-width="1.15"/>
<line x1="47.45" y1="498.50" x2="51.25" y2="498.50" stroke="#9c1031" stroke-width="1.15"/>
<circle cx="48.80" cy="493.50" r="1.05" fill="#9c1031"/>
<circle cx="49.35" cy="496.00" r="1.05" fill="#9c1031"/>
<circle cx="49.90" cy="497.50" r="1.05" fill="#9c1031"/>
<rect x="55.70" y="464.50" width="7.10" height="50.90" fill="#7da1c2"/>
<line x1="59.25" y1="447.20" x2="59.25" y2="481.60" stroke="#13395e" stroke-width="1.15"/>
<line x1="57.35" y1="447.20" x2="61.15" y2="447.20" stroke="#13395e" stroke-width="1.15"/>
<line x1="57.35" y1="481.60" x2="61.15" y2="481.60" stroke="#13395e" stroke-width="1.15"/>
<circle cx="58.42" cy="445.00" r="1.05" fill="#13395e"/>
<circle cx="58.98" cy="462.00" r="1.05" fill="#13395e"/>
<circle cx="59.52" cy="468.00" r="1.05" fill="#13395e"/>
<circle cx="60.08" cy="480.00" r="1.05" fill="#13395e"/>
<rect x="66.00" y="454.70" width="7.30" height="60.70" fill="#97d59d"/>
<line x1="69.65" y1="440.20" x2="69.65" y2="469.60" stroke="#1f6039" stroke-width="1.15"/>
<line x1="67.75" y1="440.20" x2="71.55" y2="440.20" stroke="#1f6039" stroke-width="1.15"/>
<line x1="67.75" y1="469.60" x2="71.55" y2="469.60" stroke="#1f6039" stroke-width="1.15"/>
<circle cx="68.83" cy="441.00" r="1.05" fill="#1f6039"/>
<circle cx="69.38" cy="455.00" r="1.05" fill="#1f6039"/>
<circle cx="69.93" cy="462.00" r="1.05" fill="#1f6039"/>
<circle cx="70.48" cy="468.50" r="1.05" fill="#1f6039"/>
<rect x="82.30" y="510.00" width="6.90" height="5.40" fill="#e27a8c"/>
<line x1="85.75" y1="507.90" x2="85.75" y2="513.60" stroke="#9c1031" stroke-width="1.15"/>
<line x1="83.85" y1="507.90" x2="87.65" y2="507.90" stroke="#9c1031" stroke-width="1.15"/>
<line x1="83.85" y1="513.60" x2="87.65" y2="513.60" stroke="#9c1031" stroke-width="1.15"/>
<circle cx="85.20" cy="508.50" r="1.05" fill="#9c1031"/>
<circle cx="85.75" cy="510.50" r="1.05" fill="#9c1031"/>
<circle cx="86.30" cy="512.50" r="1.05" fill="#9c1031"/>
<rect x="92.30" y="484.60" width="6.90" height="30.80" fill="#7da1c2"/>
<line x1="95.75" y1="470.80" x2="95.75" y2="497.20" stroke="#13395e" stroke-width="1.15"/>
<line x1="93.85" y1="470.80" x2="97.65" y2="470.80" stroke="#13395e" stroke-width="1.15"/>
<line x1="93.85" y1="497.20" x2="97.65" y2="497.20" stroke="#13395e" stroke-width="1.15"/>
<circle cx="94.92" cy="471.50" r="1.05" fill="#13395e"/>
<circle cx="95.47" cy="484.00" r="1.05" fill="#13395e"/>
<circle cx="96.03" cy="490.00" r="1.05" fill="#13395e"/>
<circle cx="96.58" cy="496.00" r="1.05" fill="#13395e"/>
<rect x="102.40" y="476.10" width="7.30" height="39.30" fill="#97d59d"/>
<line x1="106.05" y1="463.30" x2="106.05" y2="489.20" stroke="#1f6039" stroke-width="1.15"/>
<line x1="104.15" y1="463.30" x2="107.95" y2="463.30" stroke="#1f6039" stroke-width="1.15"/>
<line x1="104.15" y1="489.20" x2="107.95" y2="489.20" stroke="#1f6039" stroke-width="1.15"/>
<circle cx="105.23" cy="464.00" r="1.05" fill="#1f6039"/>
<circle cx="105.78" cy="476.00" r="1.05" fill="#1f6039"/>
<circle cx="106.33" cy="482.00" r="1.05" fill="#1f6039"/>
<circle cx="106.88" cy="488.00" r="1.05" fill="#1f6039"/>
<line x1="50.20" y1="430.20" x2="71.00" y2="430.20" stroke="#2a2a2a" stroke-width="1.05"/>
<text transform="translate(60.70 430.55)" font-size="7.7" text-anchor="middle" fill="#1e1e1e" stroke="#1e1e1e" stroke-width="0.42" letter-spacing="0.2">**</text>
<line x1="48.90" y1="438.90" x2="60.30" y2="438.90" stroke="#2a2a2a" stroke-width="1.05"/>
<text transform="translate(54.70 439.25)" font-size="7.7" text-anchor="middle" fill="#1e1e1e" stroke="#1e1e1e" stroke-width="0.42" letter-spacing="0.2">*</text>
<line x1="85.30" y1="459.50" x2="105.40" y2="459.50" stroke="#2a2a2a" stroke-width="1.05"/>
<text transform="translate(95.45 459.85)" font-size="7.7" text-anchor="middle" fill="#1e1e1e" stroke="#1e1e1e" stroke-width="0.42" letter-spacing="0.2">**</text>
<line x1="84.10" y1="467.00" x2="95.40" y2="467.00" stroke="#2a2a2a" stroke-width="1.05"/>
<text transform="translate(89.85 467.35)" font-size="7.7" text-anchor="middle" fill="#1e1e1e" stroke="#1e1e1e" stroke-width="0.42" letter-spacing="0.2">*</text>
<text transform="translate(12.20 466.10) rotate(-90) scale(0.7219 1)" font-size="9" text-anchor="middle" fill="#141414" stroke="#141414" stroke-width="0.4">WT count</text>
<text transform="translate(76.60 538.70) scale(0.7613 1)" font-size="9" text-anchor="middle" fill="#141414" stroke="#141414" stroke-width="0.4">Time(h)</text>
<text transform="translate(138.40 396.60)" font-size="11" text-anchor="start" font-weight="bold" fill="#000">K</text>
<rect x="181.70" y="402.90" width="62.00" height="60.60" fill="#fff"/>
<g clip-path="url(#clipk00)">
<ellipse cx="214.00" cy="435.00" rx="9.18" ry="10.26" fill="url(#fcloud)"/>
<path d="M212.36 434.90 L217.11 434.90 L215.00 443.66 Z" fill="#8fb2f0" fill-opacity="0.45" filter="url(#fb)"/>
<g fill-opacity="0.6"><circle cx="219.5" cy="442.1" r="0.42" fill="#6f8df0"/><circle cx="215.2" cy="439.6" r="0.42" fill="#a9a2f2"/><circle cx="206.3" cy="430.9" r="0.42" fill="#7fa8f0"/><circle cx="209.8" cy="436.6" r="0.42" fill="#8f9cf2"/><circle cx="209.4" cy="444.0" r="0.42" fill="#6f8df0"/><circle cx="217.7" cy="435.1" r="0.42" fill="#6f8df0"/><circle cx="213.0" cy="440.7" r="0.42" fill="#7fa8f0"/><circle cx="215.4" cy="439.0" r="0.42" fill="#6f8df0"/><circle cx="219.2" cy="435.6" r="0.42" fill="#a9a2f2"/><circle cx="217.3" cy="430.4" r="0.42" fill="#a9a2f2"/><circle cx="213.9" cy="436.8" r="0.42" fill="#7fa8f0"/><circle cx="220.6" cy="431.5" r="0.42" fill="#a9a2f2"/><circle cx="220.1" cy="433.5" r="0.42" fill="#8f9cf2"/><circle cx="206.7" cy="433.9" r="0.42" fill="#7fa8f0"/><circle cx="213.2" cy="430.0" r="0.42" fill="#8f9cf2"/><circle cx="210.9" cy="434.6" r="0.42" fill="#a9a2f2"/><circle cx="215.1" cy="438.4" r="0.42" fill="#6f8df0"/><circle cx="215.3" cy="437.3" r="0.42" fill="#8f9cf2"/><circle cx="206.1" cy="432.1" r="0.42" fill="#a9a2f2"/><circle cx="215.7" cy="437.4" r="0.42" fill="#a9a2f2"/><circle cx="217.9" cy="433.5" r="0.42" fill="#7fa8f0"/><circle cx="213.7" cy="435.5" r="0.42" fill="#a9a2f2"/><circle cx="207.6" cy="442.4" r="0.42" fill="#7fa8f0"/><circle cx="210.4" cy="437.0" r="0.42" fill="#a9a2f2"/><circle cx="205.4" cy="431.6" r="0.42" fill="#a9a2f2"/><circle cx="216.2" cy="431.7" r="0.42" fill="#b7b0f4"/><circle cx="212.9" cy="434.7" r="0.42" fill="#a9a2f2"/><circle cx="215.1" cy="437.5" r="0.42" fill="#6f8df0"/><circle cx="218.9" cy="431.8" r="0.42" fill="#b7b0f4"/><circle cx="213.3" cy="439.2" r="0.42" fill="#8f9cf2"/><circle cx="212.0" cy="432.7" r="0.42" fill="#b7b0f4"/><circle cx="212.0" cy="436.1" r="0.42" fill="#b7b0f4"/><circle cx="205.3" cy="437.5" r="0.42" fill="#6f8df0"/><circle cx="208.1" cy="447.3" r="0.42" fill="#6f8df0"/></g>
<polyline points="218.60,429.40 220.40,426.10 221.40,416.50 226.20,411.30" fill="none" stroke="#8f9aea" stroke-width="1.80" stroke-opacity="0.45" stroke-linecap="round" stroke-linejoin="round" filter="url(#fb)"/>
<polyline points="218.60,429.40 220.40,426.10 221.40,416.50 226.20,411.30" fill="none" stroke="#5572d8" stroke-width="0.8" stroke-opacity="0.6" stroke-linecap="round" stroke-linejoin="round"/>
<path d="M219.90 427.50 L217.98 435.34 L213.98 438.15 L210.85 433.60 Z" fill="#4a8ae8" fill-opacity="0.78" stroke="#6aa2f0" stroke-width="0.8" stroke-opacity="0.6" stroke-linejoin="round" filter="url(#fb2)"/>
<ellipse cx="215.80" cy="433.40" rx="3.78" ry="2.92" fill="#25bcd6" transform="rotate(-38 215.60 433.40)" filter="url(#fb)"/>
<ellipse cx="215.90" cy="433.30" rx="2.70" ry="1.94" fill="#62d23a" transform="rotate(-38 215.60 433.40)" filter="url(#fb3)"/>
</g>
<line x1="220.80" y1="402.90" x2="220.80" y2="463.50" stroke="#6a6f7e" stroke-width="1"/>
<line x1="181.70" y1="425.30" x2="243.70" y2="425.30" stroke="#3a3a3a" stroke-width="0.9"/>
<rect x="181.70" y="402.90" width="62.00" height="60.60" fill="none" stroke="#1c1c1c" stroke-width="1.2"/>
<text transform="translate(184.20 409.80)" font-size="7.3" text-anchor="start" fill="#141414" stroke="#141414" stroke-width="0.27">1.14</text>
<text transform="translate(241.80 409.80)" font-size="7.3" text-anchor="end" fill="#141414" stroke="#141414" stroke-width="0.27">2.94</text>
<text transform="translate(183.40 461.60)" font-size="7.55" text-anchor="start" fill="#141414" stroke="#141414" stroke-width="0.27">95.4</text>
<text transform="translate(241.80 461.60)" font-size="7.55" text-anchor="end" fill="#141414" stroke="#141414" stroke-width="0.27">0.55</text>
<line x1="179.40" y1="462.30" x2="181.70" y2="462.30" stroke="#141414" stroke-width="0.85"/>
<line x1="180.40" y1="459.81" x2="181.70" y2="459.81" stroke="#141414" stroke-width="0.65"/>
<line x1="180.40" y1="456.51" x2="181.70" y2="456.51" stroke="#141414" stroke-width="0.65"/>
<line x1="179.40" y1="454.02" x2="181.70" y2="454.02" stroke="#141414" stroke-width="0.85"/>
<line x1="180.40" y1="451.53" x2="181.70" y2="451.53" stroke="#141414" stroke-width="0.65"/>
<line x1="180.40" y1="448.23" x2="181.70" y2="448.23" stroke="#141414" stroke-width="0.65"/>
<line x1="179.40" y1="445.74" x2="181.70" y2="445.74" stroke="#141414" stroke-width="0.85"/>
<line x1="180.40" y1="443.25" x2="181.70" y2="443.25" stroke="#141414" stroke-width="0.65"/>
<line x1="180.40" y1="439.95" x2="181.70" y2="439.95" stroke="#141414" stroke-width="0.65"/>
<line x1="179.40" y1="437.46" x2="181.70" y2="437.46" stroke="#141414" stroke-width="0.85"/>
<line x1="180.40" y1="434.97" x2="181.70" y2="434.97" stroke="#141414" stroke-width="0.65"/>
<line x1="180.40" y1="431.67" x2="181.70" y2="431.67" stroke="#141414" stroke-width="0.65"/>
<line x1="179.40" y1="429.18" x2="181.70" y2="429.18" stroke="#141414" stroke-width="0.85"/>
<line x1="180.40" y1="426.69" x2="181.70" y2="426.69" stroke="#141414" stroke-width="0.65"/>
<line x1="180.40" y1="423.39" x2="181.70" y2="423.39" stroke="#141414" stroke-width="0.65"/>
<line x1="179.40" y1="420.90" x2="181.70" y2="420.90" stroke="#141414" stroke-width="0.85"/>
<line x1="180.40" y1="418.41" x2="181.70" y2="418.41" stroke="#141414" stroke-width="0.65"/>
<line x1="180.40" y1="415.11" x2="181.70" y2="415.11" stroke="#141414" stroke-width="0.65"/>
<line x1="179.40" y1="412.62" x2="181.70" y2="412.62" stroke="#141414" stroke-width="0.85"/>
<line x1="180.40" y1="410.13" x2="181.70" y2="410.13" stroke="#141414" stroke-width="0.65"/>
<line x1="180.40" y1="406.83" x2="181.70" y2="406.83" stroke="#141414" stroke-width="0.65"/>
<line x1="184.30" y1="463.50" x2="184.30" y2="465.80" stroke="#141414" stroke-width="0.85"/>
<line x1="186.83" y1="463.50" x2="186.83" y2="464.80" stroke="#141414" stroke-width="0.65"/>
<line x1="190.17" y1="463.50" x2="190.17" y2="464.80" stroke="#141414" stroke-width="0.65"/>
<line x1="192.70" y1="463.50" x2="192.70" y2="465.80" stroke="#141414" stroke-width="0.85"/>
<line x1="195.23" y1="463.50" x2="195.23" y2="464.80" stroke="#141414" stroke-width="0.65"/>
<line x1="198.57" y1="463.50" x2="198.57" y2="464.80" stroke="#141414" stroke-width="0.65"/>
<line x1="201.10" y1="463.50" x2="201.10" y2="465.80" stroke="#141414" stroke-width="0.85"/>
<line x1="203.63" y1="463.50" x2="203.63" y2="464.80" stroke="#141414" stroke-width="0.65"/>
<line x1="206.97" y1="463.50" x2="206.97" y2="464.80" stroke="#141414" stroke-width="0.65"/>
<line x1="209.50" y1="463.50" x2="209.50" y2="465.80" stroke="#141414" stroke-width="0.85"/>
<line x1="212.03" y1="463.50" x2="212.03" y2="464.80" stroke="#141414" stroke-width="0.65"/>
<line x1="215.37" y1="463.50" x2="215.37" y2="464.80" stroke="#141414" stroke-width="0.65"/>
<line x1="217.90" y1="463.50" x2="217.90" y2="465.80" stroke="#141414" stroke-width="0.85"/>
<line x1="220.43" y1="463.50" x2="220.43" y2="464.80" stroke="#141414" stroke-width="0.65"/>
<line x1="223.77" y1="463.50" x2="223.77" y2="464.80" stroke="#141414" stroke-width="0.65"/>
<line x1="226.30" y1="463.50" x2="226.30" y2="465.80" stroke="#141414" stroke-width="0.85"/>
<line x1="228.83" y1="463.50" x2="228.83" y2="464.80" stroke="#141414" stroke-width="0.65"/>
<line x1="232.17" y1="463.50" x2="232.17" y2="464.80" stroke="#141414" stroke-width="0.65"/>
<line x1="234.70" y1="463.50" x2="234.70" y2="465.80" stroke="#141414" stroke-width="0.85"/>
<line x1="237.23" y1="463.50" x2="237.23" y2="464.80" stroke="#141414" stroke-width="0.65"/>
<line x1="240.57" y1="463.50" x2="240.57" y2="464.80" stroke="#141414" stroke-width="0.65"/>
<line x1="243.10" y1="463.50" x2="243.10" y2="465.80" stroke="#141414" stroke-width="0.85"/>
<rect x="255.90" y="402.90" width="61.20" height="60.60" fill="#fff"/>
<g clip-path="url(#clipk01)">
<ellipse cx="287.10" cy="435.40" rx="9.18" ry="10.26" fill="url(#fcloud)"/>
<path d="M285.46 435.30 L290.21 435.30 L288.10 444.06 Z" fill="#8fb2f0" fill-opacity="0.45" filter="url(#fb)"/>
<g fill-opacity="0.6"><circle cx="290.3" cy="436.1" r="0.42" fill="#a9a2f2"/><circle cx="288.6" cy="438.1" r="0.42" fill="#6f8df0"/><circle cx="275.5" cy="433.0" r="0.42" fill="#6f8df0"/><circle cx="284.8" cy="432.1" r="0.42" fill="#a9a2f2"/><circle cx="288.9" cy="438.7" r="0.42" fill="#8f9cf2"/><circle cx="280.1" cy="441.9" r="0.42" fill="#b7b0f4"/><circle cx="287.0" cy="428.4" r="0.42" fill="#8f9cf2"/><circle cx="284.7" cy="436.6" r="0.42" fill="#6f8df0"/><circle cx="287.2" cy="433.4" r="0.42" fill="#6f8df0"/><circle cx="286.4" cy="440.7" r="0.42" fill="#a9a2f2"/><circle cx="289.8" cy="432.2" r="0.42" fill="#7fa8f0"/><circle cx="287.9" cy="442.8" r="0.42" fill="#7fa8f0"/><circle cx="281.1" cy="426.1" r="0.42" fill="#a9a2f2"/><circle cx="288.0" cy="436.8" r="0.42" fill="#6f8df0"/><circle cx="282.0" cy="434.3" r="0.42" fill="#7fa8f0"/><circle cx="292.2" cy="428.9" r="0.42" fill="#a9a2f2"/><circle cx="288.8" cy="436.8" r="0.42" fill="#a9a2f2"/><circle cx="286.1" cy="432.6" r="0.42" fill="#6f8df0"/><circle cx="279.3" cy="434.1" r="0.42" fill="#7fa8f0"/><circle cx="292.5" cy="432.0" r="0.42" fill="#a9a2f2"/><circle cx="289.0" cy="439.1" r="0.42" fill="#6f8df0"/><circle cx="284.2" cy="435.5" r="0.42" fill="#b7b0f4"/><circle cx="284.5" cy="441.7" r="0.42" fill="#6f8df0"/><circle cx="290.0" cy="441.2" r="0.42" fill="#b7b0f4"/><circle cx="280.9" cy="434.4" r="0.42" fill="#8f9cf2"/><circle cx="286.1" cy="440.4" r="0.42" fill="#a9a2f2"/><circle cx="285.6" cy="430.9" r="0.42" fill="#b7b0f4"/><circle cx="291.6" cy="427.9" r="0.42" fill="#a9a2f2"/><circle cx="291.7" cy="434.1" r="0.42" fill="#8f9cf2"/><circle cx="279.5" cy="435.4" r="0.42" fill="#b7b0f4"/><circle cx="287.5" cy="428.9" r="0.42" fill="#b7b0f4"/></g>
<polyline points="291.70,429.80 293.90,426.10 294.80,416.50 298.50,412.50" fill="none" stroke="#8f9aea" stroke-width="1.80" stroke-opacity="0.45" stroke-linecap="round" stroke-linejoin="round" filter="url(#fb)"/>
<polyline points="291.70,429.80 293.90,426.10 294.80,416.50 298.50,412.50" fill="none" stroke="#5572d8" stroke-width="0.8" stroke-opacity="0.6" stroke-linecap="round" stroke-linejoin="round"/>
<path d="M293.40 427.50 L291.08 435.74 L287.08 438.55 L283.95 434.00 Z" fill="#4a8ae8" fill-opacity="0.78" stroke="#6aa2f0" stroke-width="0.8" stroke-opacity="0.6" stroke-linejoin="round" filter="url(#fb2)"/>
<ellipse cx="288.90" cy="433.80" rx="3.78" ry="2.92" fill="#25bcd6" transform="rotate(-38 288.70 433.80)" filter="url(#fb)"/>
<ellipse cx="289.00" cy="433.70" rx="2.70" ry="1.94" fill="#62d23a" transform="rotate(-38 288.70 433.80)" filter="url(#fb3)"/>
</g>
<line x1="294.30" y1="402.90" x2="294.30" y2="463.50" stroke="#3a3a3a" stroke-width="1"/>
<line x1="255.90" y1="425.30" x2="317.10" y2="425.30" stroke="#3a3a3a" stroke-width="0.9"/>
<rect x="255.90" y="402.90" width="61.20" height="60.60" fill="none" stroke="#1c1c1c" stroke-width="1.2"/>
<text transform="translate(258.40 409.80)" font-size="7.3" text-anchor="start" fill="#141414" stroke="#141414" stroke-width="0.27">3.93</text>
<text transform="translate(315.20 409.80)" font-size="7.3" text-anchor="end" fill="#141414" stroke="#141414" stroke-width="0.27">7.16</text>
<text transform="translate(257.60 461.60)" font-size="7.55" text-anchor="start" fill="#141414" stroke="#141414" stroke-width="0.27">88.7</text>
<text transform="translate(315.20 461.60)" font-size="7.55" text-anchor="end" fill="#141414" stroke="#141414" stroke-width="0.27">0.19</text>
<line x1="253.60" y1="462.30" x2="255.90" y2="462.30" stroke="#141414" stroke-width="0.85"/>
<line x1="254.60" y1="459.81" x2="255.90" y2="459.81" stroke="#141414" stroke-width="0.65"/>
<line x1="254.60" y1="456.51" x2="255.90" y2="456.51" stroke="#141414" stroke-width="0.65"/>
<line x1="253.60" y1="454.02" x2="255.90" y2="454.02" stroke="#141414" stroke-width="0.85"/>
<line x1="254.60" y1="451.53" x2="255.90" y2="451.53" stroke="#141414" stroke-width="0.65"/>
<line x1="254.60" y1="448.23" x2="255.90" y2="448.23" stroke="#141414" stroke-width="0.65"/>
<line x1="253.60" y1="445.74" x2="255.90" y2="445.74" stroke="#141414" stroke-width="0.85"/>
<line x1="254.60" y1="443.25" x2="255.90" y2="443.25" stroke="#141414" stroke-width="0.65"/>
<line x1="254.60" y1="439.95" x2="255.90" y2="439.95" stroke="#141414" stroke-width="0.65"/>
<line x1="253.60" y1="437.46" x2="255.90" y2="437.46" stroke="#141414" stroke-width="0.85"/>
<line x1="254.60" y1="434.97" x2="255.90" y2="434.97" stroke="#141414" stroke-width="0.65"/>
<line x1="254.60" y1="431.67" x2="255.90" y2="431.67" stroke="#141414" stroke-width="0.65"/>
<line x1="253.60" y1="429.18" x2="255.90" y2="429.18" stroke="#141414" stroke-width="0.85"/>
<line x1="254.60" y1="426.69" x2="255.90" y2="426.69" stroke="#141414" stroke-width="0.65"/>
<line x1="254.60" y1="423.39" x2="255.90" y2="423.39" stroke="#141414" stroke-width="0.65"/>
<line x1="253.60" y1="420.90" x2="255.90" y2="420.90" stroke="#141414" stroke-width="0.85"/>
<line x1="254.60" y1="418.41" x2="255.90" y2="418.41" stroke="#141414" stroke-width="0.65"/>
<line x1="254.60" y1="415.11" x2="255.90" y2="415.11" stroke="#141414" stroke-width="0.65"/>
<line x1="253.60" y1="412.62" x2="255.90" y2="412.62" stroke="#141414" stroke-width="0.85"/>
<line x1="254.60" y1="410.13" x2="255.90" y2="410.13" stroke="#141414" stroke-width="0.65"/>
<line x1="254.60" y1="406.83" x2="255.90" y2="406.83" stroke="#141414" stroke-width="0.65"/>
<line x1="258.50" y1="463.50" x2="258.50" y2="465.80" stroke="#141414" stroke-width="0.85"/>
<line x1="261.03" y1="463.50" x2="261.03" y2="464.80" stroke="#141414" stroke-width="0.65"/>
<line x1="264.37" y1="463.50" x2="264.37" y2="464.80" stroke="#141414" stroke-width="0.65"/>
<line x1="266.90" y1="463.50" x2="266.90" y2="465.80" stroke="#141414" stroke-width="0.85"/>
<line x1="269.43" y1="463.50" x2="269.43" y2="464.80" stroke="#141414" stroke-width="0.65"/>
<line x1="272.77" y1="463.50" x2="272.77" y2="464.80" stroke="#141414" stroke-width="0.65"/>
<line x1="275.30" y1="463.50" x2="275.30" y2="465.80" stroke="#141414" stroke-width="0.85"/>
<line x1="277.83" y1="463.50" x2="277.83" y2="464.80" stroke="#141414" stroke-width="0.65"/>
<line x1="281.17" y1="463.50" x2="281.17" y2="464.80" stroke="#141414" stroke-width="0.65"/>
<line x1="283.70" y1="463.50" x2="283.70" y2="465.80" stroke="#141414" stroke-width="0.85"/>
<line x1="286.23" y1="463.50" x2="286.23" y2="464.80" stroke="#141414" stroke-width="0.65"/>
<line x1="289.57" y1="463.50" x2="289.57" y2="464.80" stroke="#141414" stroke-width="0.65"/>
<line x1="292.10" y1="463.50" x2="292.10" y2="465.80" stroke="#141414" stroke-width="0.85"/>
<line x1="294.63" y1="463.50" x2="294.63" y2="464.80" stroke="#141414" stroke-width="0.65"/>
<line x1="297.97" y1="463.50" x2="297.97" y2="464.80" stroke="#141414" stroke-width="0.65"/>
<line x1="300.50" y1="463.50" x2="300.50" y2="465.80" stroke="#141414" stroke-width="0.85"/>
<line x1="303.03" y1="463.50" x2="303.03" y2="464.80" stroke="#141414" stroke-width="0.65"/>
<line x1="306.37" y1="463.50" x2="306.37" y2="464.80" stroke="#141414" stroke-width="0.65"/>
<line x1="308.90" y1="463.50" x2="308.90" y2="465.80" stroke="#141414" stroke-width="0.85"/>
<line x1="311.43" y1="463.50" x2="311.43" y2="464.80" stroke="#141414" stroke-width="0.65"/>
<line x1="314.77" y1="463.50" x2="314.77" y2="464.80" stroke="#141414" stroke-width="0.65"/>
<rect x="329.00" y="402.90" width="61.60" height="60.60" fill="#fff"/>
<g clip-path="url(#clipk02)">
<ellipse cx="359.00" cy="435.70" rx="9.18" ry="10.26" fill="url(#fcloud)"/>
<path d="M357.36 435.60 L362.11 435.60 L360.00 444.36 Z" fill="#8fb2f0" fill-opacity="0.45" filter="url(#fb)"/>
<g fill-opacity="0.6"><circle cx="353.2" cy="442.7" r="0.42" fill="#7fa8f0"/><circle cx="363.1" cy="428.8" r="0.42" fill="#6f8df0"/><circle cx="352.4" cy="434.3" r="0.42" fill="#8f9cf2"/><circle cx="354.1" cy="440.2" r="0.42" fill="#b7b0f4"/><circle cx="356.2" cy="440.8" r="0.42" fill="#8f9cf2"/><circle cx="354.9" cy="428.2" r="0.42" fill="#6f8df0"/><circle cx="359.6" cy="425.4" r="0.42" fill="#7fa8f0"/><circle cx="364.4" cy="434.8" r="0.42" fill="#7fa8f0"/><circle cx="360.9" cy="428.2" r="0.42" fill="#a9a2f2"/><circle cx="363.4" cy="447.7" r="0.42" fill="#a9a2f2"/><circle cx="361.3" cy="436.1" r="0.42" fill="#b7b0f4"/><circle cx="363.9" cy="431.1" r="0.42" fill="#8f9cf2"/><circle cx="357.3" cy="432.6" r="0.42" fill="#a9a2f2"/><circle cx="357.6" cy="432.3" r="0.42" fill="#b7b0f4"/><circle cx="358.7" cy="437.9" r="0.42" fill="#a9a2f2"/><circle cx="357.0" cy="438.4" r="0.42" fill="#7fa8f0"/><circle cx="368.5" cy="444.1" r="0.42" fill="#a9a2f2"/><circle cx="351.3" cy="433.8" r="0.42" fill="#6f8df0"/><circle cx="362.3" cy="429.7" r="0.42" fill="#8f9cf2"/><circle cx="363.6" cy="438.4" r="0.42" fill="#b7b0f4"/><circle cx="356.8" cy="437.5" r="0.42" fill="#a9a2f2"/><circle cx="356.0" cy="440.5" r="0.42" fill="#8f9cf2"/><circle cx="359.0" cy="431.2" r="0.42" fill="#8f9cf2"/><circle cx="361.8" cy="441.1" r="0.42" fill="#7fa8f0"/><circle cx="357.5" cy="431.3" r="0.42" fill="#b7b0f4"/><circle cx="363.6" cy="436.0" r="0.42" fill="#8f9cf2"/><circle cx="358.1" cy="440.0" r="0.42" fill="#7fa8f0"/><circle cx="357.1" cy="444.7" r="0.42" fill="#6f8df0"/><circle cx="362.3" cy="435.8" r="0.42" fill="#7fa8f0"/><circle cx="361.4" cy="436.5" r="0.42" fill="#a9a2f2"/></g>
<polyline points="363.60,430.10 367.80,426.10 368.50,416.50 374.80,409.00" fill="none" stroke="#8f9aea" stroke-width="1.80" stroke-opacity="0.45" stroke-linecap="round" stroke-linejoin="round" filter="url(#fb)"/>
<polyline points="363.60,430.10 367.80,426.10 368.50,416.50 374.80,409.00" fill="none" stroke="#5572d8" stroke-width="0.8" stroke-opacity="0.6" stroke-linecap="round" stroke-linejoin="round"/>
<path d="M367.30 427.50 L362.98 436.04 L358.98 438.85 L355.85 434.30 Z" fill="#4a8ae8" fill-opacity="0.78" stroke="#6aa2f0" stroke-width="0.8" stroke-opacity="0.6" stroke-linejoin="round" filter="url(#fb2)"/>
<ellipse cx="360.80" cy="434.10" rx="3.78" ry="2.92" fill="#25bcd6" transform="rotate(-38 360.60 434.10)" filter="url(#fb)"/>
<ellipse cx="360.90" cy="434.00" rx="2.70" ry="1.94" fill="#62d23a" transform="rotate(-38 360.60 434.10)" filter="url(#fb3)"/>
</g>
<line x1="368.20" y1="402.90" x2="368.20" y2="463.50" stroke="#3a3a3a" stroke-width="1"/>
<line x1="329.00" y1="425.30" x2="390.60" y2="425.30" stroke="#3a3a3a" stroke-width="0.9"/>
<rect x="329.00" y="402.90" width="61.60" height="60.60" fill="none" stroke="#1c1c1c" stroke-width="1.2"/>
<text transform="translate(331.50 409.80)" font-size="7.3" text-anchor="start" fill="#141414" stroke="#141414" stroke-width="0.27">5.05</text>
<text transform="translate(388.70 409.80)" font-size="7.3" text-anchor="end" fill="#141414" stroke="#141414" stroke-width="0.27">10.4</text>
<text transform="translate(330.70 461.60)" font-size="7.55" text-anchor="start" fill="#141414" stroke="#141414" stroke-width="0.27">84.1</text>
<text transform="translate(388.70 461.60)" font-size="7.55" text-anchor="end" fill="#141414" stroke="#141414" stroke-width="0.27">0.47</text>
<line x1="326.70" y1="462.30" x2="329.00" y2="462.30" stroke="#141414" stroke-width="0.85"/>
<line x1="327.70" y1="459.81" x2="329.00" y2="459.81" stroke="#141414" stroke-width="0.65"/>
<line x1="327.70" y1="456.51" x2="329.00" y2="456.51" stroke="#141414" stroke-width="0.65"/>
<line x1="326.70" y1="454.02" x2="329.00" y2="454.02" stroke="#141414" stroke-width="0.85"/>
<line x1="327.70" y1="451.53" x2="329.00" y2="451.53" stroke="#141414" stroke-width="0.65"/>
<line x1="327.70" y1="448.23" x2="329.00" y2="448.23" stroke="#141414" stroke-width="0.65"/>
<line x1="326.70" y1="445.74" x2="329.00" y2="445.74" stroke="#141414" stroke-width="0.85"/>
<line x1="327.70" y1="443.25" x2="329.00" y2="443.25" stroke="#141414" stroke-width="0.65"/>
<line x1="327.70" y1="439.95" x2="329.00" y2="439.95" stroke="#141414" stroke-width="0.65"/>
<line x1="326.70" y1="437.46" x2="329.00" y2="437.46" stroke="#141414" stroke-width="0.85"/>
<line x1="327.70" y1="434.97" x2="329.00" y2="434.97" stroke="#141414" stroke-width="0.65"/>
<line x1="327.70" y1="431.67" x2="329.00" y2="431.67" stroke="#141414" stroke-width="0.65"/>
<line x1="326.70" y1="429.18" x2="329.00" y2="429.18" stroke="#141414" stroke-width="0.85"/>
<line x1="327.70" y1="426.69" x2="329.00" y2="426.69" stroke="#141414" stroke-width="0.65"/>
<line x1="327.70" y1="423.39" x2="329.00" y2="423.39" stroke="#141414" stroke-width="0.65"/>
<line x1="326.70" y1="420.90" x2="329.00" y2="420.90" stroke="#141414" stroke-width="0.85"/>
<line x1="327.70" y1="418.41" x2="329.00" y2="418.41" stroke="#141414" stroke-width="0.65"/>
<line x1="327.70" y1="415.11" x2="329.00" y2="415.11" stroke="#141414" stroke-width="0.65"/>
<line x1="326.70" y1="412.62" x2="329.00" y2="412.62" stroke="#141414" stroke-width="0.85"/>
<line x1="327.70" y1="410.13" x2="329.00" y2="410.13" stroke="#141414" stroke-width="0.65"/>
<line x1="327.70" y1="406.83" x2="329.00" y2="406.83" stroke="#141414" stroke-width="0.65"/>
<line x1="331.60" y1="463.50" x2="331.60" y2="465.80" stroke="#141414" stroke-width="0.85"/>
<line x1="334.13" y1="463.50" x2="334.13" y2="464.80" stroke="#141414" stroke-width="0.65"/>
<line x1="337.47" y1="463.50" x2="337.47" y2="464.80" stroke="#141414" stroke-width="0.65"/>
<line x1="340.00" y1="463.50" x2="340.00" y2="465.80" stroke="#141414" stroke-width="0.85"/>
<line x1="342.53" y1="463.50" x2="342.53" y2="464.80" stroke="#141414" stroke-width="0.65"/>
<line x1="345.87" y1="463.50" x2="345.87" y2="464.80" stroke="#141414" stroke-width="0.65"/>
<line x1="348.40" y1="463.50" x2="348.40" y2="465.80" stroke="#141414" stroke-width="0.85"/>
<line x1="350.93" y1="463.50" x2="350.93" y2="464.80" stroke="#141414" stroke-width="0.65"/>
<line x1="354.27" y1="463.50" x2="354.27" y2="464.80" stroke="#141414" stroke-width="0.65"/>
<line x1="356.80" y1="463.50" x2="356.80" y2="465.80" stroke="#141414" stroke-width="0.85"/>
<line x1="359.33" y1="463.50" x2="359.33" y2="464.80" stroke="#141414" stroke-width="0.65"/>
<line x1="362.67" y1="463.50" x2="362.67" y2="464.80" stroke="#141414" stroke-width="0.65"/>
<line x1="365.20" y1="463.50" x2="365.20" y2="465.80" stroke="#141414" stroke-width="0.85"/>
<line x1="367.73" y1="463.50" x2="367.73" y2="464.80" stroke="#141414" stroke-width="0.65"/>
<line x1="371.07" y1="463.50" x2="371.07" y2="464.80" stroke="#141414" stroke-width="0.65"/>
<line x1="373.60" y1="463.50" x2="373.60" y2="465.80" stroke="#141414" stroke-width="0.85"/>
<line x1="376.13" y1="463.50" x2="376.13" y2="464.80" stroke="#141414" stroke-width="0.65"/>
<line x1="379.47" y1="463.50" x2="379.47" y2="464.80" stroke="#141414" stroke-width="0.65"/>
<line x1="382.00" y1="463.50" x2="382.00" y2="465.80" stroke="#141414" stroke-width="0.85"/>
<line x1="384.53" y1="463.50" x2="384.53" y2="464.80" stroke="#141414" stroke-width="0.65"/>
<line x1="387.87" y1="463.50" x2="387.87" y2="464.80" stroke="#141414" stroke-width="0.65"/>
<line x1="390.40" y1="463.50" x2="390.40" y2="465.80" stroke="#141414" stroke-width="0.85"/>
<rect x="181.70" y="471.80" width="62.00" height="61.40" fill="#fff"/>
<g clip-path="url(#clipk10)">
<ellipse cx="213.20" cy="505.40" rx="11.73" ry="13.11" fill="url(#fcloud)"/>
<path d="M210.66 505.30 L216.73 505.30 L214.20 516.91 Z" fill="#8fb2f0" fill-opacity="0.45" filter="url(#fb)"/>
<g fill-opacity="0.6"><circle cx="221.0" cy="505.3" r="0.42" fill="#6f8df0"/><circle cx="218.0" cy="502.1" r="0.42" fill="#b7b0f4"/><circle cx="217.9" cy="500.5" r="0.42" fill="#8f9cf2"/><circle cx="214.7" cy="494.2" r="0.42" fill="#8f9cf2"/><circle cx="215.1" cy="494.0" r="0.42" fill="#7fa8f0"/><circle cx="220.7" cy="503.8" r="0.42" fill="#8f9cf2"/><circle cx="212.5" cy="508.5" r="0.42" fill="#6f8df0"/><circle cx="220.4" cy="511.9" r="0.42" fill="#b7b0f4"/><circle cx="209.2" cy="512.9" r="0.42" fill="#8f9cf2"/><circle cx="218.2" cy="502.8" r="0.42" fill="#8f9cf2"/><circle cx="214.5" cy="501.2" r="0.42" fill="#7fa8f0"/><circle cx="221.7" cy="498.9" r="0.42" fill="#7fa8f0"/><circle cx="213.9" cy="508.2" r="0.42" fill="#a9a2f2"/><circle cx="215.7" cy="498.9" r="0.42" fill="#b7b0f4"/><circle cx="211.4" cy="498.8" r="0.42" fill="#a9a2f2"/><circle cx="212.8" cy="505.1" r="0.42" fill="#6f8df0"/><circle cx="207.5" cy="502.0" r="0.42" fill="#7fa8f0"/><circle cx="218.1" cy="513.6" r="0.42" fill="#7fa8f0"/><circle cx="225.4" cy="513.1" r="0.42" fill="#a9a2f2"/><circle cx="207.5" cy="492.5" r="0.42" fill="#6f8df0"/><circle cx="220.0" cy="506.2" r="0.42" fill="#6f8df0"/><circle cx="218.0" cy="502.2" r="0.42" fill="#b7b0f4"/><circle cx="216.2" cy="505.5" r="0.42" fill="#6f8df0"/><circle cx="209.4" cy="497.8" r="0.42" fill="#6f8df0"/><circle cx="212.6" cy="495.0" r="0.42" fill="#6f8df0"/><circle cx="206.9" cy="500.7" r="0.42" fill="#7fa8f0"/><circle cx="211.6" cy="501.4" r="0.42" fill="#8f9cf2"/><circle cx="209.9" cy="502.9" r="0.42" fill="#6f8df0"/><circle cx="212.1" cy="504.5" r="0.42" fill="#a9a2f2"/><circle cx="212.7" cy="499.5" r="0.42" fill="#7fa8f0"/><circle cx="211.6" cy="499.7" r="0.42" fill="#8f9cf2"/><circle cx="210.0" cy="510.7" r="0.42" fill="#b7b0f4"/><circle cx="206.8" cy="503.7" r="0.42" fill="#7fa8f0"/><circle cx="213.0" cy="504.2" r="0.42" fill="#8f9cf2"/><circle cx="211.7" cy="499.4" r="0.42" fill="#6f8df0"/><circle cx="223.0" cy="524.8" r="0.42" fill="#a9a2f2"/><circle cx="212.2" cy="500.5" r="0.42" fill="#a9a2f2"/><circle cx="217.1" cy="505.6" r="0.42" fill="#6f8df0"/><circle cx="216.9" cy="507.2" r="0.42" fill="#7fa8f0"/><circle cx="212.7" cy="501.8" r="0.42" fill="#a9a2f2"/><circle cx="221.1" cy="497.2" r="0.42" fill="#7fa8f0"/><circle cx="209.5" cy="500.6" r="0.42" fill="#a9a2f2"/><circle cx="207.7" cy="496.4" r="0.42" fill="#7fa8f0"/><circle cx="219.5" cy="506.2" r="0.42" fill="#8f9cf2"/></g>
<polyline points="217.80,499.80 220.40,495.20 221.00,487.50 224.00,484.00 227.80,481.30" fill="none" stroke="#8f9aea" stroke-width="2.40" stroke-opacity="0.45" stroke-linecap="round" stroke-linejoin="round" filter="url(#fb)"/>
<polyline points="217.80,499.80 220.40,495.20 221.00,487.50 224.00,484.00 227.80,481.30" fill="none" stroke="#5572d8" stroke-width="0.8" stroke-opacity="0.6" stroke-linecap="round" stroke-linejoin="round"/>
<path d="M219.90 496.60 L217.84 506.28 L212.73 509.87 L208.73 504.00 Z" fill="#4a8ae8" fill-opacity="0.78" stroke="#6aa2f0" stroke-width="0.8" stroke-opacity="0.6" stroke-linejoin="round" filter="url(#fb2)"/>
<ellipse cx="215.00" cy="503.80" rx="4.83" ry="3.73" fill="#25bcd6" transform="rotate(-38 214.80 503.80)" filter="url(#fb)"/>
<ellipse cx="215.10" cy="503.70" rx="3.45" ry="2.48" fill="#62d23a" transform="rotate(-38 214.80 503.80)" filter="url(#fb3)"/>
<ellipse cx="215.00" cy="503.80" rx="1.0" ry="0.8" fill="#e3e238"/>
</g>
<line x1="220.80" y1="471.80" x2="220.80" y2="533.20" stroke="#6a6f7e" stroke-width="1"/>
<line x1="181.70" y1="494.40" x2="243.70" y2="494.40" stroke="#3a3a3a" stroke-width="0.9"/>
<rect x="181.70" y="471.80" width="62.00" height="61.40" fill="none" stroke="#1c1c1c" stroke-width="1.2"/>
<text transform="translate(184.20 478.70)" font-size="7.3" text-anchor="start" fill="#141414" stroke="#141414" stroke-width="0.27">1.81</text>
<text transform="translate(241.80 478.70)" font-size="7.3" text-anchor="end" fill="#141414" stroke="#141414" stroke-width="0.27">1.66</text>
<text transform="translate(183.40 531.30)" font-size="7.55" text-anchor="start" fill="#141414" stroke="#141414" stroke-width="0.27">94.7</text>
<text transform="translate(241.80 531.30)" font-size="7.55" text-anchor="end" fill="#141414" stroke="#141414" stroke-width="0.27">1.78</text>
<line x1="179.40" y1="532.00" x2="181.70" y2="532.00" stroke="#141414" stroke-width="0.85"/>
<line x1="180.40" y1="529.51" x2="181.70" y2="529.51" stroke="#141414" stroke-width="0.65"/>
<line x1="180.40" y1="526.21" x2="181.70" y2="526.21" stroke="#141414" stroke-width="0.65"/>
<line x1="179.40" y1="523.72" x2="181.70" y2="523.72" stroke="#141414" stroke-width="0.85"/>
<line x1="180.40" y1="521.23" x2="181.70" y2="521.23" stroke="#141414" stroke-width="0.65"/>
<line x1="180.40" y1="517.93" x2="181.70" y2="517.93" stroke="#141414" stroke-width="0.65"/>
<line x1="179.40" y1="515.44" x2="181.70" y2="515.44" stroke="#141414" stroke-width="0.85"/>
<line x1="180.40" y1="512.95" x2="181.70" y2="512.95" stroke="#141414" stroke-width="0.65"/>
<line x1="180.40" y1="509.65" x2="181.70" y2="509.65" stroke="#141414" stroke-width="0.65"/>
<line x1="179.40" y1="507.16" x2="181.70" y2="507.16" stroke="#141414" stroke-width="0.85"/>
<line x1="180.40" y1="504.67" x2="181.70" y2="504.67" stroke="#141414" stroke-width="0.65"/>
<line x1="180.40" y1="501.37" x2="181.70" y2="501.37" stroke="#141414" stroke-width="0.65"/>
<line x1="179.40" y1="498.88" x2="181.70" y2="498.88" stroke="#141414" stroke-width="0.85"/>
<line x1="180.40" y1="496.39" x2="181.70" y2="496.39" stroke="#141414" stroke-width="0.65"/>
<line x1="180.40" y1="493.09" x2="181.70" y2="493.09" stroke="#141414" stroke-width="0.65"/>
<line x1="179.40" y1="490.60" x2="181.70" y2="490.60" stroke="#141414" stroke-width="0.85"/>
<line x1="180.40" y1="488.11" x2="181.70" y2="488.11" stroke="#141414" stroke-width="0.65"/>
<line x1="180.40" y1="484.81" x2="181.70" y2="484.81" stroke="#141414" stroke-width="0.65"/>
<line x1="179.40" y1="482.32" x2="181.70" y2="482.32" stroke="#141414" stroke-width="0.85"/>
<line x1="180.40" y1="479.83" x2="181.70" y2="479.83" stroke="#141414" stroke-width="0.65"/>
<line x1="180.40" y1="476.53" x2="181.70" y2="476.53" stroke="#141414" stroke-width="0.65"/>
<line x1="184.30" y1="533.20" x2="184.30" y2="535.50" stroke="#141414" stroke-width="0.85"/>
<line x1="186.83" y1="533.20" x2="186.83" y2="534.50" stroke="#141414" stroke-width="0.65"/>
<line x1="190.17" y1="533.20" x2="190.17" y2="534.50" stroke="#141414" stroke-width="0.65"/>
<line x1="192.70" y1="533.20" x2="192.70" y2="535.50" stroke="#141414" stroke-width="0.85"/>
<line x1="195.23" y1="533.20" x2="195.23" y2="534.50" stroke="#141414" stroke-width="0.65"/>
<line x1="198.57" y1="533.20" x2="198.57" y2="534.50" stroke="#141414" stroke-width="0.65"/>
<line x1="201.10" y1="533.20" x2="201.10" y2="535.50" stroke="#141414" stroke-width="0.85"/>
<line x1="203.63" y1="533.20" x2="203.63" y2="534.50" stroke="#141414" stroke-width="0.65"/>
<line x1="206.97" y1="533.20" x2="206.97" y2="534.50" stroke="#141414" stroke-width="0.65"/>
<line x1="209.50" y1="533.20" x2="209.50" y2="535.50" stroke="#141414" stroke-width="0.85"/>
<line x1="212.03" y1="533.20" x2="212.03" y2="534.50" stroke="#141414" stroke-width="0.65"/>
<line x1="215.37" y1="533.20" x2="215.37" y2="534.50" stroke="#141414" stroke-width="0.65"/>
<line x1="217.90" y1="533.20" x2="217.90" y2="535.50" stroke="#141414" stroke-width="0.85"/>
<line x1="220.43" y1="533.20" x2="220.43" y2="534.50" stroke="#141414" stroke-width="0.65"/>
<line x1="223.77" y1="533.20" x2="223.77" y2="534.50" stroke="#141414" stroke-width="0.65"/>
<line x1="226.30" y1="533.20" x2="226.30" y2="535.50" stroke="#141414" stroke-width="0.85"/>
<line x1="228.83" y1="533.20" x2="228.83" y2="534.50" stroke="#141414" stroke-width="0.65"/>
<line x1="232.17" y1="533.20" x2="232.17" y2="534.50" stroke="#141414" stroke-width="0.65"/>
<line x1="234.70" y1="533.20" x2="234.70" y2="535.50" stroke="#141414" stroke-width="0.85"/>
<line x1="237.23" y1="533.20" x2="237.23" y2="534.50" stroke="#141414" stroke-width="0.65"/>
<line x1="240.57" y1="533.20" x2="240.57" y2="534.50" stroke="#141414" stroke-width="0.65"/>
<line x1="243.10" y1="533.20" x2="243.10" y2="535.50" stroke="#141414" stroke-width="0.85"/>
<rect x="255.90" y="471.80" width="61.20" height="61.40" fill="#fff"/>
<g clip-path="url(#clipk11)">
<ellipse cx="289.40" cy="503.40" rx="11.73" ry="13.11" fill="url(#fcloud)"/>
<path d="M286.86 503.30 L292.93 503.30 L290.40 514.91 Z" fill="#8fb2f0" fill-opacity="0.45" filter="url(#fb)"/>
<g fill-opacity="0.6"><circle cx="296.6" cy="504.0" r="0.42" fill="#6f8df0"/><circle cx="293.2" cy="499.5" r="0.42" fill="#b7b0f4"/><circle cx="282.1" cy="502.5" r="0.42" fill="#8f9cf2"/><circle cx="284.9" cy="500.9" r="0.42" fill="#6f8df0"/><circle cx="286.4" cy="501.4" r="0.42" fill="#b7b0f4"/><circle cx="286.0" cy="503.6" r="0.42" fill="#a9a2f2"/><circle cx="286.0" cy="504.6" r="0.42" fill="#a9a2f2"/><circle cx="284.6" cy="510.4" r="0.42" fill="#6f8df0"/><circle cx="293.1" cy="508.7" r="0.42" fill="#b7b0f4"/><circle cx="296.0" cy="498.8" r="0.42" fill="#7fa8f0"/><circle cx="291.0" cy="510.6" r="0.42" fill="#7fa8f0"/><circle cx="290.2" cy="508.3" r="0.42" fill="#8f9cf2"/><circle cx="292.7" cy="500.4" r="0.42" fill="#a9a2f2"/><circle cx="293.0" cy="510.0" r="0.42" fill="#b7b0f4"/><circle cx="286.7" cy="499.9" r="0.42" fill="#6f8df0"/><circle cx="292.7" cy="502.3" r="0.42" fill="#8f9cf2"/><circle cx="291.7" cy="499.0" r="0.42" fill="#8f9cf2"/><circle cx="294.7" cy="494.5" r="0.42" fill="#7fa8f0"/><circle cx="293.2" cy="508.9" r="0.42" fill="#a9a2f2"/><circle cx="285.3" cy="505.8" r="0.42" fill="#a9a2f2"/><circle cx="292.8" cy="507.1" r="0.42" fill="#6f8df0"/><circle cx="285.1" cy="500.0" r="0.42" fill="#8f9cf2"/><circle cx="282.7" cy="497.7" r="0.42" fill="#6f8df0"/><circle cx="291.3" cy="505.3" r="0.42" fill="#b7b0f4"/><circle cx="280.3" cy="510.5" r="0.42" fill="#6f8df0"/><circle cx="285.0" cy="502.2" r="0.42" fill="#8f9cf2"/><circle cx="291.7" cy="517.6" r="0.42" fill="#a9a2f2"/><circle cx="283.6" cy="516.5" r="0.42" fill="#8f9cf2"/><circle cx="303.9" cy="508.9" r="0.42" fill="#a9a2f2"/><circle cx="284.7" cy="501.0" r="0.42" fill="#6f8df0"/><circle cx="294.9" cy="493.5" r="0.42" fill="#8f9cf2"/><circle cx="284.2" cy="501.4" r="0.42" fill="#7fa8f0"/><circle cx="290.1" cy="506.9" r="0.42" fill="#6f8df0"/><circle cx="285.3" cy="501.7" r="0.42" fill="#7fa8f0"/><circle cx="286.6" cy="505.6" r="0.42" fill="#7fa8f0"/><circle cx="283.1" cy="504.5" r="0.42" fill="#7fa8f0"/><circle cx="291.6" cy="497.9" r="0.42" fill="#8f9cf2"/><circle cx="292.4" cy="506.3" r="0.42" fill="#7fa8f0"/><circle cx="295.7" cy="508.6" r="0.42" fill="#a9a2f2"/><circle cx="286.9" cy="497.5" r="0.42" fill="#7fa8f0"/><circle cx="285.8" cy="507.5" r="0.42" fill="#6f8df0"/><circle cx="293.1" cy="498.6" r="0.42" fill="#7fa8f0"/><circle cx="290.1" cy="498.2" r="0.42" fill="#b7b0f4"/></g>
<polyline points="294.00,497.80 293.90,495.20 293.80,487.70 299.60,481.30" fill="none" stroke="#8f9aea" stroke-width="2.40" stroke-opacity="0.45" stroke-linecap="round" stroke-linejoin="round" filter="url(#fb)"/>
<polyline points="294.00,497.80 293.90,495.20 293.80,487.70 299.60,481.30" fill="none" stroke="#5572d8" stroke-width="0.8" stroke-opacity="0.6" stroke-linecap="round" stroke-linejoin="round"/>
<path d="M293.40 496.60 L294.04 504.28 L288.93 507.87 L284.93 502.00 Z" fill="#4a8ae8" fill-opacity="0.78" stroke="#6aa2f0" stroke-width="0.8" stroke-opacity="0.6" stroke-linejoin="round" filter="url(#fb2)"/>
<ellipse cx="291.20" cy="501.80" rx="4.83" ry="3.73" fill="#25bcd6" transform="rotate(-38 291.00 501.80)" filter="url(#fb)"/>
<ellipse cx="291.30" cy="501.70" rx="3.45" ry="2.48" fill="#62d23a" transform="rotate(-38 291.00 501.80)" filter="url(#fb3)"/>
<ellipse cx="291.20" cy="501.80" rx="1.0" ry="0.8" fill="#e3e238"/>
</g>
<line x1="294.30" y1="471.80" x2="294.30" y2="533.20" stroke="#3a3a3a" stroke-width="1"/>
<line x1="255.90" y1="494.40" x2="317.10" y2="494.40" stroke="#3a3a3a" stroke-width="0.9"/>
<rect x="255.90" y="471.80" width="61.20" height="61.40" fill="none" stroke="#1c1c1c" stroke-width="1.2"/>
<text transform="translate(258.40 478.70)" font-size="7.3" text-anchor="start" fill="#141414" stroke="#141414" stroke-width="0.27">1.12</text>
<text transform="translate(315.20 478.70)" font-size="7.3" text-anchor="end" fill="#141414" stroke="#141414" stroke-width="0.27">5.63</text>
<text transform="translate(257.60 531.30)" font-size="7.55" text-anchor="start" fill="#141414" stroke="#141414" stroke-width="0.27">87.3</text>
<text transform="translate(315.20 531.30)" font-size="7.55" text-anchor="end" fill="#141414" stroke="#141414" stroke-width="0.27">5.94</text>
<line x1="253.60" y1="532.00" x2="255.90" y2="532.00" stroke="#141414" stroke-width="0.85"/>
<line x1="254.60" y1="529.51" x2="255.90" y2="529.51" stroke="#141414" stroke-width="0.65"/>
<line x1="254.60" y1="526.21" x2="255.90" y2="526.21" stroke="#141414" stroke-width="0.65"/>
<line x1="253.60" y1="523.72" x2="255.90" y2="523.72" stroke="#141414" stroke-width="0.85"/>
<line x1="254.60" y1="521.23" x2="255.90" y2="521.23" stroke="#141414" stroke-width="0.65"/>
<line x1="254.60" y1="517.93" x2="255.90" y2="517.93" stroke="#141414" stroke-width="0.65"/>
<line x1="253.60" y1="515.44" x2="255.90" y2="515.44" stroke="#141414" stroke-width="0.85"/>
<line x1="254.60" y1="512.95" x2="255.90" y2="512.95" stroke="#141414" stroke-width="0.65"/>
<line x1="254.60" y1="509.65" x2="255.90" y2="509.65" stroke="#141414" stroke-width="0.65"/>
<line x1="253.60" y1="507.16" x2="255.90" y2="507.16" stroke="#141414" stroke-width="0.85"/>
<line x1="254.60" y1="504.67" x2="255.90" y2="504.67" stroke="#141414" stroke-width="0.65"/>
<line x1="254.60" y1="501.37" x2="255.90" y2="501.37" stroke="#141414" stroke-width="0.65"/>
<line x1="253.60" y1="498.88" x2="255.90" y2="498.88" stroke="#141414" stroke-width="0.85"/>
<line x1="254.60" y1="496.39" x2="255.90" y2="496.39" stroke="#141414" stroke-width="0.65"/>
<line x1="254.60" y1="493.09" x2="255.90" y2="493.09" stroke="#141414" stroke-width="0.65"/>
<line x1="253.60" y1="490.60" x2="255.90" y2="490.60" stroke="#141414" stroke-width="0.85"/>
<line x1="254.60" y1="488.11" x2="255.90" y2="488.11" stroke="#141414" stroke-width="0.65"/>
<line x1="254.60" y1="484.81" x2="255.90" y2="484.81" stroke="#141414" stroke-width="0.65"/>
<line x1="253.60" y1="482.32" x2="255.90" y2="482.32" stroke="#141414" stroke-width="0.85"/>
<line x1="254.60" y1="479.83" x2="255.90" y2="479.83" stroke="#141414" stroke-width="0.65"/>
<line x1="254.60" y1="476.53" x2="255.90" y2="476.53" stroke="#141414" stroke-width="0.65"/>
<line x1="258.50" y1="533.20" x2="258.50" y2="535.50" stroke="#141414" stroke-width="0.85"/>
<line x1="261.03" y1="533.20" x2="261.03" y2="534.50" stroke="#141414" stroke-width="0.65"/>
<line x1="264.37" y1="533.20" x2="264.37" y2="534.50" stroke="#141414" stroke-width="0.65"/>
<line x1="266.90" y1="533.20" x2="266.90" y2="535.50" stroke="#141414" stroke-width="0.85"/>
<line x1="269.43" y1="533.20" x2="269.43" y2="534.50" stroke="#141414" stroke-width="0.65"/>
<line x1="272.77" y1="533.20" x2="272.77" y2="534.50" stroke="#141414" stroke-width="0.65"/>
<line x1="275.30" y1="533.20" x2="275.30" y2="535.50" stroke="#141414" stroke-width="0.85"/>
<line x1="277.83" y1="533.20" x2="277.83" y2="534.50" stroke="#141414" stroke-width="0.65"/>
<line x1="281.17" y1="533.20" x2="281.17" y2="534.50" stroke="#141414" stroke-width="0.65"/>
<line x1="283.70" y1="533.20" x2="283.70" y2="535.50" stroke="#141414" stroke-width="0.85"/>
<line x1="286.23" y1="533.20" x2="286.23" y2="534.50" stroke="#141414" stroke-width="0.65"/>
<line x1="289.57" y1="533.20" x2="289.57" y2="534.50" stroke="#141414" stroke-width="0.65"/>
<line x1="292.10" y1="533.20" x2="292.10" y2="535.50" stroke="#141414" stroke-width="0.85"/>
<line x1="294.63" y1="533.20" x2="294.63" y2="534.50" stroke="#141414" stroke-width="0.65"/>
<line x1="297.97" y1="533.20" x2="297.97" y2="534.50" stroke="#141414" stroke-width="0.65"/>
<line x1="300.50" y1="533.20" x2="300.50" y2="535.50" stroke="#141414" stroke-width="0.85"/>
<line x1="303.03" y1="533.20" x2="303.03" y2="534.50" stroke="#141414" stroke-width="0.65"/>
<line x1="306.37" y1="533.20" x2="306.37" y2="534.50" stroke="#141414" stroke-width="0.65"/>
<line x1="308.90" y1="533.20" x2="308.90" y2="535.50" stroke="#141414" stroke-width="0.85"/>
<line x1="311.43" y1="533.20" x2="311.43" y2="534.50" stroke="#141414" stroke-width="0.65"/>
<line x1="314.77" y1="533.20" x2="314.77" y2="534.50" stroke="#141414" stroke-width="0.65"/>
<rect x="329.00" y="471.80" width="61.60" height="61.40" fill="#fff"/>
<g clip-path="url(#clipk12)">
<ellipse cx="363.60" cy="506.00" rx="11.73" ry="13.11" fill="url(#fcloud)"/>
<path d="M361.06 505.90 L367.13 505.90 L364.60 517.51 Z" fill="#8fb2f0" fill-opacity="0.45" filter="url(#fb)"/>
<g fill-opacity="0.6"><circle cx="363.2" cy="508.9" r="0.42" fill="#b7b0f4"/><circle cx="358.6" cy="506.2" r="0.42" fill="#8f9cf2"/><circle cx="364.6" cy="510.8" r="0.42" fill="#7fa8f0"/><circle cx="358.5" cy="496.3" r="0.42" fill="#8f9cf2"/><circle cx="359.9" cy="504.2" r="0.42" fill="#7fa8f0"/><circle cx="359.0" cy="496.7" r="0.42" fill="#b7b0f4"/><circle cx="364.0" cy="499.9" r="0.42" fill="#b7b0f4"/><circle cx="362.2" cy="511.8" r="0.42" fill="#a9a2f2"/><circle cx="377.9" cy="514.8" r="0.42" fill="#8f9cf2"/><circle cx="357.3" cy="503.8" r="0.42" fill="#6f8df0"/><circle cx="356.4" cy="511.6" r="0.42" fill="#a9a2f2"/><circle cx="364.7" cy="502.6" r="0.42" fill="#8f9cf2"/><circle cx="358.7" cy="495.5" r="0.42" fill="#8f9cf2"/><circle cx="367.2" cy="513.8" r="0.42" fill="#6f8df0"/><circle cx="368.5" cy="510.5" r="0.42" fill="#b7b0f4"/><circle cx="362.9" cy="496.4" r="0.42" fill="#7fa8f0"/><circle cx="368.0" cy="507.1" r="0.42" fill="#8f9cf2"/><circle cx="362.5" cy="513.7" r="0.42" fill="#b7b0f4"/><circle cx="373.9" cy="511.1" r="0.42" fill="#8f9cf2"/><circle cx="357.1" cy="508.7" r="0.42" fill="#8f9cf2"/><circle cx="360.3" cy="502.0" r="0.42" fill="#8f9cf2"/><circle cx="366.6" cy="505.9" r="0.42" fill="#8f9cf2"/><circle cx="364.9" cy="502.9" r="0.42" fill="#a9a2f2"/><circle cx="367.3" cy="514.6" r="0.42" fill="#7fa8f0"/><circle cx="366.7" cy="505.4" r="0.42" fill="#6f8df0"/><circle cx="361.0" cy="500.6" r="0.42" fill="#b7b0f4"/><circle cx="363.8" cy="507.8" r="0.42" fill="#7fa8f0"/><circle cx="366.6" cy="508.2" r="0.42" fill="#7fa8f0"/><circle cx="363.7" cy="507.3" r="0.42" fill="#7fa8f0"/><circle cx="365.2" cy="494.1" r="0.42" fill="#8f9cf2"/><circle cx="369.8" cy="508.7" r="0.42" fill="#7fa8f0"/><circle cx="367.1" cy="514.4" r="0.42" fill="#7fa8f0"/><circle cx="369.3" cy="506.8" r="0.42" fill="#a9a2f2"/><circle cx="362.3" cy="506.8" r="0.42" fill="#a9a2f2"/><circle cx="367.2" cy="502.0" r="0.42" fill="#7fa8f0"/><circle cx="368.2" cy="512.2" r="0.42" fill="#b7b0f4"/><circle cx="367.7" cy="508.4" r="0.42" fill="#6f8df0"/><circle cx="361.2" cy="507.1" r="0.42" fill="#7fa8f0"/><circle cx="369.3" cy="500.8" r="0.42" fill="#8f9cf2"/><circle cx="366.7" cy="503.3" r="0.42" fill="#8f9cf2"/><circle cx="360.4" cy="503.6" r="0.42" fill="#8f9cf2"/><circle cx="375.0" cy="510.9" r="0.42" fill="#8f9cf2"/><circle cx="375.1" cy="503.9" r="0.42" fill="#b7b0f4"/><circle cx="369.7" cy="492.6" r="0.42" fill="#6f8df0"/><circle cx="359.8" cy="510.3" r="0.42" fill="#8f9cf2"/></g>
<polyline points="368.20,500.40 367.80,495.20 367.90,486.50 374.20,480.80" fill="none" stroke="#8f9aea" stroke-width="2.40" stroke-opacity="0.45" stroke-linecap="round" stroke-linejoin="round" filter="url(#fb)"/>
<polyline points="368.20,500.40 367.80,495.20 367.90,486.50 374.20,480.80" fill="none" stroke="#5572d8" stroke-width="0.8" stroke-opacity="0.6" stroke-linecap="round" stroke-linejoin="round"/>
<path d="M367.30 496.60 L368.24 506.88 L363.13 510.47 L359.13 504.60 Z" fill="#4a8ae8" fill-opacity="0.78" stroke="#6aa2f0" stroke-width="0.8" stroke-opacity="0.6" stroke-linejoin="round" filter="url(#fb2)"/>
<ellipse cx="365.40" cy="504.40" rx="4.83" ry="3.73" fill="#25bcd6" transform="rotate(-38 365.20 504.40)" filter="url(#fb)"/>
<ellipse cx="365.50" cy="504.30" rx="3.45" ry="2.48" fill="#62d23a" transform="rotate(-38 365.20 504.40)" filter="url(#fb3)"/>
<ellipse cx="365.40" cy="504.40" rx="1.0" ry="0.8" fill="#e3e238"/>
</g>
<line x1="368.20" y1="471.80" x2="368.20" y2="533.20" stroke="#3a3a3a" stroke-width="1"/>
<line x1="329.00" y1="494.40" x2="390.60" y2="494.40" stroke="#3a3a3a" stroke-width="0.9"/>
<rect x="329.00" y="471.80" width="61.60" height="61.40" fill="none" stroke="#1c1c1c" stroke-width="1.2"/>
<text transform="translate(331.50 478.70)" font-size="7.3" text-anchor="start" fill="#141414" stroke="#141414" stroke-width="0.27">1.55</text>
<text transform="translate(388.70 478.70)" font-size="7.3" text-anchor="end" fill="#141414" stroke="#141414" stroke-width="0.27">6.37</text>
<text transform="translate(330.70 531.30)" font-size="7.55" text-anchor="start" fill="#141414" stroke="#141414" stroke-width="0.27">85.7</text>
<text transform="translate(388.70 531.30)" font-size="7.55" text-anchor="end" fill="#141414" stroke="#141414" stroke-width="0.27">6.44</text>
<line x1="326.70" y1="532.00" x2="329.00" y2="532.00" stroke="#141414" stroke-width="0.85"/>
<line x1="327.70" y1="529.51" x2="329.00" y2="529.51" stroke="#141414" stroke-width="0.65"/>
<line x1="327.70" y1="526.21" x2="329.00" y2="526.21" stroke="#141414" stroke-width="0.65"/>
<line x1="326.70" y1="523.72" x2="329.00" y2="523.72" stroke="#141414" stroke-width="0.85"/>
<line x1="327.70" y1="521.23" x2="329.00" y2="521.23" stroke="#141414" stroke-width="0.65"/>
<line x1="327.70" y1="517.93" x2="329.00" y2="517.93" stroke="#141414" stroke-width="0.65"/>
<line x1="326.70" y1="515.44" x2="329.00" y2="515.44" stroke="#141414" stroke-width="0.85"/>
<line x1="327.70" y1="512.95" x2="329.00" y2="512.95" stroke="#141414" stroke-width="0.65"/>
<line x1="327.70" y1="509.65" x2="329.00" y2="509.65" stroke="#141414" stroke-width="0.65"/>
<line x1="326.70" y1="507.16" x2="329.00" y2="507.16" stroke="#141414" stroke-width="0.85"/>
<line x1="327.70" y1="504.67" x2="329.00" y2="504.67" stroke="#141414" stroke-width="0.65"/>
<line x1="327.70" y1="501.37" x2="329.00" y2="501.37" stroke="#141414" stroke-width="0.65"/>
<line x1="326.70" y1="498.88" x2="329.00" y2="498.88" stroke="#141414" stroke-width="0.85"/>
<line x1="327.70" y1="496.39" x2="329.00" y2="496.39" stroke="#141414" stroke-width="0.65"/>
<line x1="327.70" y1="493.09" x2="329.00" y2="493.09" stroke="#141414" stroke-width="0.65"/>
<line x1="326.70" y1="490.60" x2="329.00" y2="490.60" stroke="#141414" stroke-width="0.85"/>
<line x1="327.70" y1="488.11" x2="329.00" y2="488.11" stroke="#141414" stroke-width="0.65"/>
<line x1="327.70" y1="484.81" x2="329.00" y2="484.81" stroke="#141414" stroke-width="0.65"/>
<line x1="326.70" y1="482.32" x2="329.00" y2="482.32" stroke="#141414" stroke-width="0.85"/>
<line x1="327.70" y1="479.83" x2="329.00" y2="479.83" stroke="#141414" stroke-width="0.65"/>
<line x1="327.70" y1="476.53" x2="329.00" y2="476.53" stroke="#141414" stroke-width="0.65"/>
<line x1="331.60" y1="533.20" x2="331.60" y2="535.50" stroke="#141414" stroke-width="0.85"/>
<line x1="334.13" y1="533.20" x2="334.13" y2="534.50" stroke="#141414" stroke-width="0.65"/>
<line x1="337.47" y1="533.20" x2="337.47" y2="534.50" stroke="#141414" stroke-width="0.65"/>
<line x1="340.00" y1="533.20" x2="340.00" y2="535.50" stroke="#141414" stroke-width="0.85"/>
<line x1="342.53" y1="533.20" x2="342.53" y2="534.50" stroke="#141414" stroke-width="0.65"/>
<line x1="345.87" y1="533.20" x2="345.87" y2="534.50" stroke="#141414" stroke-width="0.65"/>
<line x1="348.40" y1="533.20" x2="348.40" y2="535.50" stroke="#141414" stroke-width="0.85"/>
<line x1="350.93" y1="533.20" x2="350.93" y2="534.50" stroke="#141414" stroke-width="0.65"/>
<line x1="354.27" y1="533.20" x2="354.27" y2="534.50" stroke="#141414" stroke-width="0.65"/>
<line x1="356.80" y1="533.20" x2="356.80" y2="535.50" stroke="#141414" stroke-width="0.85"/>
<line x1="359.33" y1="533.20" x2="359.33" y2="534.50" stroke="#141414" stroke-width="0.65"/>
<line x1="362.67" y1="533.20" x2="362.67" y2="534.50" stroke="#141414" stroke-width="0.65"/>
<line x1="365.20" y1="533.20" x2="365.20" y2="535.50" stroke="#141414" stroke-width="0.85"/>
<line x1="367.73" y1="533.20" x2="367.73" y2="534.50" stroke="#141414" stroke-width="0.65"/>
<line x1="371.07" y1="533.20" x2="371.07" y2="534.50" stroke="#141414" stroke-width="0.65"/>
<line x1="373.60" y1="533.20" x2="373.60" y2="535.50" stroke="#141414" stroke-width="0.85"/>
<line x1="376.13" y1="533.20" x2="376.13" y2="534.50" stroke="#141414" stroke-width="0.65"/>
<line x1="379.47" y1="533.20" x2="379.47" y2="534.50" stroke="#141414" stroke-width="0.65"/>
<line x1="382.00" y1="533.20" x2="382.00" y2="535.50" stroke="#141414" stroke-width="0.85"/>
<line x1="384.53" y1="533.20" x2="384.53" y2="534.50" stroke="#141414" stroke-width="0.65"/>
<line x1="387.87" y1="533.20" x2="387.87" y2="534.50" stroke="#141414" stroke-width="0.65"/>
<line x1="390.40" y1="533.20" x2="390.40" y2="535.50" stroke="#141414" stroke-width="0.85"/>
<text transform="translate(212.90 398.80)" font-size="8.2" text-anchor="middle" fill="#141414" stroke="#141414" stroke-width="0.27">WT</text>
<text transform="translate(285.90 397.50)" font-size="8.35" text-anchor="middle" fill="#141414" stroke="#141414" stroke-width="0.27">sgCD58-1</text>
<text transform="translate(360.30 397.50)" font-size="8.35" text-anchor="middle" fill="#141414" stroke="#141414" stroke-width="0.27">sgCD58-2</text>
<text transform="translate(137.60 440.00)" font-size="7.7" text-anchor="start" fill="#141414" stroke="#141414" stroke-width="0.27">24h</text>
<text transform="translate(137.60 502.00)" font-size="7.7" text-anchor="start" fill="#141414" stroke="#141414" stroke-width="0.27">48h</text>
<text transform="translate(177.30 464.00)" font-size="6.7" text-anchor="end" fill="#141414" stroke="#141414" stroke-width="0.27">10<tspan dy="-2.5" font-size="4.6">0</tspan></text>
<text transform="translate(177.30 447.44)" font-size="6.7" text-anchor="end" fill="#141414" stroke="#141414" stroke-width="0.27">10<tspan dy="-2.5" font-size="4.6">2</tspan></text>
<text transform="translate(177.30 430.88)" font-size="6.7" text-anchor="end" fill="#141414" stroke="#141414" stroke-width="0.27">10<tspan dy="-2.5" font-size="4.6">4</tspan></text>
<text transform="translate(177.30 414.32)" font-size="6.7" text-anchor="end" fill="#141414" stroke="#141414" stroke-width="0.27">10<tspan dy="-2.5" font-size="4.6">6</tspan></text>
<text transform="translate(177.30 533.70)" font-size="6.7" text-anchor="end" fill="#141414" stroke="#141414" stroke-width="0.27">10<tspan dy="-2.5" font-size="4.6">0</tspan></text>
<text transform="translate(177.30 517.14)" font-size="6.7" text-anchor="end" fill="#141414" stroke="#141414" stroke-width="0.27">10<tspan dy="-2.5" font-size="4.6">2</tspan></text>
<text transform="translate(177.30 500.58)" font-size="6.7" text-anchor="end" fill="#141414" stroke="#141414" stroke-width="0.27">10<tspan dy="-2.5" font-size="4.6">4</tspan></text>
<text transform="translate(177.30 484.02)" font-size="6.7" text-anchor="end" fill="#141414" stroke="#141414" stroke-width="0.27">10<tspan dy="-2.5" font-size="4.6">6</tspan></text>
<text transform="translate(184.50 543.70)" font-size="6.7" text-anchor="middle" fill="#141414" stroke="#141414" stroke-width="0.27">10<tspan dy="-2.5" font-size="4.6">0</tspan></text>
<text transform="translate(201.30 543.70)" font-size="6.7" text-anchor="middle" fill="#141414" stroke="#141414" stroke-width="0.27">10<tspan dy="-2.5" font-size="4.6">2</tspan></text>
<text transform="translate(218.10 543.70)" font-size="6.7" text-anchor="middle" fill="#141414" stroke="#141414" stroke-width="0.27">10<tspan dy="-2.5" font-size="4.6">4</tspan></text>
<text transform="translate(234.90 543.70)" font-size="6.7" text-anchor="middle" fill="#141414" stroke="#141414" stroke-width="0.27">10<tspan dy="-2.5" font-size="4.6">6</tspan></text>
<text transform="translate(258.70 543.70)" font-size="6.7" text-anchor="middle" fill="#141414" stroke="#141414" stroke-width="0.27">10<tspan dy="-2.5" font-size="4.6">0</tspan></text>
<text transform="translate(275.50 543.70)" font-size="6.7" text-anchor="middle" fill="#141414" stroke="#141414" stroke-width="0.27">10<tspan dy="-2.5" font-size="4.6">2</tspan></text>
<text transform="translate(292.30 543.70)" font-size="6.7" text-anchor="middle" fill="#141414" stroke="#141414" stroke-width="0.27">10<tspan dy="-2.5" font-size="4.6">4</tspan></text>
<text transform="translate(309.10 543.70)" font-size="6.7" text-anchor="middle" fill="#141414" stroke="#141414" stroke-width="0.27">10<tspan dy="-2.5" font-size="4.6">6</tspan></text>
<text transform="translate(331.80 543.70)" font-size="6.7" text-anchor="middle" fill="#141414" stroke="#141414" stroke-width="0.27">10<tspan dy="-2.5" font-size="4.6">0</tspan></text>
<text transform="translate(348.60 543.70)" font-size="6.7" text-anchor="middle" fill="#141414" stroke="#141414" stroke-width="0.27">10<tspan dy="-2.5" font-size="4.6">2</tspan></text>
<text transform="translate(365.40 543.70)" font-size="6.7" text-anchor="middle" fill="#141414" stroke="#141414" stroke-width="0.27">10<tspan dy="-2.5" font-size="4.6">4</tspan></text>
<text transform="translate(382.20 543.70)" font-size="6.7" text-anchor="middle" fill="#141414" stroke="#141414" stroke-width="0.27">10<tspan dy="-2.5" font-size="4.6">6</tspan></text>
<line x1="161.00" y1="488.60" x2="161.00" y2="415.50" stroke="#222" stroke-width="1"/>
<path d="M161.0 410.2 L158.6 416.0 L163.4 416.0 Z" fill="#1c1c1c"/>
<text transform="translate(163.70 514.20) rotate(-90)" font-size="8.1" text-anchor="middle" fill="#141414" stroke="#141414" stroke-width="0.27">7-AAD-percp</text>
<text transform="translate(173.50 553.30)" font-size="7.4" text-anchor="start" fill="#141414" stroke="#141414" stroke-width="0.27">Annexin V-PE</text>
<line x1="222.40" y1="550.80" x2="378.50" y2="550.80" stroke="#222" stroke-width="1"/>
<path d="M383.2 550.8 L377.6 548.4 L377.6 553.2 Z" fill="#1c1c1c"/>
<line x1="446.80" y1="421.80" x2="446.80" y2="515.95" stroke="#141414" stroke-width="1.3"/>
<line x1="446.15" y1="515.30" x2="520.50" y2="515.30" stroke="#141414" stroke-width="1.3"/>
<line x1="443.50" y1="515.30" x2="446.80" y2="515.30" stroke="#141414" stroke-width="1"/>
<text transform="translate(441.20 518.11)" font-size="7.8" text-anchor="end" fill="#141414" stroke="#141414" stroke-width="0.27">0</text>
<line x1="443.50" y1="485.20" x2="446.80" y2="485.20" stroke="#141414" stroke-width="1"/>
<text transform="translate(441.20 488.01)" font-size="7.8" text-anchor="end" fill="#141414" stroke="#141414" stroke-width="0.27">5</text>
<line x1="443.50" y1="455.10" x2="446.80" y2="455.10" stroke="#141414" stroke-width="1"/>
<text transform="translate(441.20 457.91)" font-size="7.8" text-anchor="end" fill="#141414" stroke="#141414" stroke-width="0.27">10</text>
<line x1="443.50" y1="425.00" x2="446.80" y2="425.00" stroke="#141414" stroke-width="1"/>
<text transform="translate(441.20 427.81)" font-size="7.8" text-anchor="end" fill="#141414" stroke="#141414" stroke-width="0.27">15</text>
<line x1="464.30" y1="515.30" x2="464.30" y2="518.60" stroke="#141414" stroke-width="1"/>
<text transform="translate(464.30 527.60)" font-size="7.8" text-anchor="middle" fill="#141414" stroke="#141414" stroke-width="0.27">24</text>
<line x1="500.70" y1="515.30" x2="500.70" y2="518.60" stroke="#141414" stroke-width="1"/>
<text transform="translate(500.70 527.60)" font-size="7.8" text-anchor="middle" fill="#141414" stroke="#141414" stroke-width="0.27">48</text>
<rect x="450.00" y="495.60" width="7.10" height="19.70" fill="#e27a8c"/>
<line x1="453.55" y1="491.70" x2="453.55" y2="500.00" stroke="#9c1031" stroke-width="1.15"/>
<line x1="451.35" y1="491.70" x2="455.75" y2="491.70" stroke="#9c1031" stroke-width="1.15"/>
<line x1="451.35" y1="500.00" x2="455.75" y2="500.00" stroke="#9c1031" stroke-width="1.15"/>
<circle cx="453.00" cy="492.50" r="1.05" fill="#9c1031"/>
<circle cx="453.55" cy="496.00" r="1.05" fill="#9c1031"/>
<circle cx="454.10" cy="494.50" r="1.05" fill="#9c1031"/>
<rect x="460.70" y="476.00" width="7.30" height="39.30" fill="#7da1c2"/>
<line x1="464.35" y1="471.60" x2="464.35" y2="480.20" stroke="#13395e" stroke-width="1.15"/>
<line x1="462.15" y1="471.60" x2="466.55" y2="471.60" stroke="#13395e" stroke-width="1.15"/>
<line x1="462.15" y1="480.20" x2="466.55" y2="480.20" stroke="#13395e" stroke-width="1.15"/>
<circle cx="463.80" cy="472.50" r="1.05" fill="#13395e"/>
<circle cx="464.35" cy="476.00" r="1.05" fill="#13395e"/>
<circle cx="464.90" cy="479.00" r="1.05" fill="#13395e"/>
<rect x="471.80" y="442.40" width="7.20" height="72.90" fill="#97d59d"/>
<line x1="475.40" y1="434.10" x2="475.40" y2="451.00" stroke="#1f6039" stroke-width="1.15"/>
<line x1="473.20" y1="434.10" x2="477.60" y2="434.10" stroke="#1f6039" stroke-width="1.15"/>
<line x1="473.20" y1="451.00" x2="477.60" y2="451.00" stroke="#1f6039" stroke-width="1.15"/>
<circle cx="474.85" cy="436.00" r="1.05" fill="#1f6039"/>
<circle cx="475.40" cy="442.50" r="1.05" fill="#1f6039"/>
<circle cx="475.95" cy="449.00" r="1.05" fill="#1f6039"/>
<rect x="486.20" y="492.30" width="7.30" height="23.00" fill="#e27a8c"/>
<line x1="489.85" y1="487.90" x2="489.85" y2="495.70" stroke="#9c1031" stroke-width="1.15"/>
<line x1="487.65" y1="487.90" x2="492.05" y2="487.90" stroke="#9c1031" stroke-width="1.15"/>
<line x1="487.65" y1="495.70" x2="492.05" y2="495.70" stroke="#9c1031" stroke-width="1.15"/>
<circle cx="489.03" cy="489.00" r="1.05" fill="#9c1031"/>
<circle cx="489.58" cy="492.50" r="1.05" fill="#9c1031"/>
<circle cx="490.12" cy="494.50" r="1.05" fill="#9c1031"/>
<circle cx="490.68" cy="493.60" r="1.05" fill="#9c1031"/>
<rect x="497.20" y="442.40" width="7.20" height="72.90" fill="#7da1c2"/>
<line x1="500.80" y1="436.70" x2="500.80" y2="447.10" stroke="#13395e" stroke-width="1.15"/>
<line x1="498.60" y1="436.70" x2="503.00" y2="436.70" stroke="#13395e" stroke-width="1.15"/>
<line x1="498.60" y1="447.10" x2="503.00" y2="447.10" stroke="#13395e" stroke-width="1.15"/>
<circle cx="499.97" cy="437.50" r="1.05" fill="#13395e"/>
<circle cx="500.52" cy="442.50" r="1.05" fill="#13395e"/>
<circle cx="501.07" cy="445.50" r="1.05" fill="#13395e"/>
<circle cx="501.62" cy="444.00" r="1.05" fill="#13395e"/>
<rect x="507.90" y="439.30" width="7.30" height="76.00" fill="#97d59d"/>
<line x1="511.55" y1="436.70" x2="511.55" y2="442.50" stroke="#1f6039" stroke-width="1.15"/>
<line x1="509.35" y1="436.70" x2="513.75" y2="436.70" stroke="#1f6039" stroke-width="1.15"/>
<line x1="509.35" y1="442.50" x2="513.75" y2="442.50" stroke="#1f6039" stroke-width="1.15"/>
<circle cx="511.00" cy="437.50" r="1.05" fill="#1f6039"/>
<circle cx="511.55" cy="439.50" r="1.05" fill="#1f6039"/>
<circle cx="512.10" cy="441.00" r="1.05" fill="#1f6039"/>
<line x1="452.00" y1="426.90" x2="474.00" y2="426.90" stroke="#2a2a2a" stroke-width="1.05"/>
<text transform="translate(463.10 427.25)" font-size="7.7" text-anchor="middle" fill="#1e1e1e" stroke="#1e1e1e" stroke-width="0.42" letter-spacing="0.2">***</text>
<line x1="452.00" y1="434.10" x2="464.20" y2="434.10" stroke="#2a2a2a" stroke-width="1.05"/>
<text transform="translate(458.20 434.45)" font-size="7.7" text-anchor="middle" fill="#1e1e1e" stroke="#1e1e1e" stroke-width="0.42" letter-spacing="0.2">***</text>
<line x1="489.50" y1="425.10" x2="511.00" y2="425.10" stroke="#2a2a2a" stroke-width="1.05"/>
<text transform="translate(500.35 425.45)" font-size="7.7" text-anchor="middle" fill="#1e1e1e" stroke="#1e1e1e" stroke-width="0.42" letter-spacing="0.2">***</text>
<line x1="489.50" y1="432.80" x2="501.10" y2="432.80" stroke="#2a2a2a" stroke-width="1.05"/>
<text transform="translate(495.40 433.15)" font-size="7.7" text-anchor="middle" fill="#1e1e1e" stroke="#1e1e1e" stroke-width="0.42" letter-spacing="0.2">***</text>
<text transform="translate(426.80 469.20) rotate(-90) scale(0.7156 1)" font-size="9" text-anchor="middle" fill="#141414" stroke="#141414" stroke-width="0.4">CAR<tspan dy="-2.88" font-size="5.94">+</tspan><tspan dy="2.88">​</tspan> annexin V<tspan dy="-2.88" font-size="5.94">+</tspan><tspan dy="2.88">​</tspan> T cells (%)</text>
<text transform="translate(481.80 539.30) scale(0.7613 1)" font-size="9" text-anchor="middle" fill="#141414" stroke="#141414" stroke-width="0.4">Time(h)</text>
<text transform="translate(5.20 571.30)" font-size="11" text-anchor="start" font-weight="bold" fill="#000">L</text>
<text transform="translate(5.80 599.00)" font-size="9.5" text-anchor="start" fill="#141414" stroke="#141414" stroke-width="0.27">WT/CD58<tspan dy="-3.2" font-size="6.5">KO</tspan><tspan dy="3.2"> Nalm6/Raji cells</tspan></text>
<line x1="29.20" y1="625.20" x2="111.40" y2="625.20" stroke="#141414" stroke-width="1.15"/>
<line x1="35.00" y1="622.40" x2="35.00" y2="628.10" stroke="#141414" stroke-width="1.05"/>
<text transform="translate(35.00 635.70)" font-size="7.4" text-anchor="middle" fill="#141414" stroke="#141414" stroke-width="0.27">0</text>
<line x1="45.30" y1="622.40" x2="45.30" y2="628.10" stroke="#141414" stroke-width="1.05"/>
<text transform="translate(45.30 635.70)" font-size="7.4" text-anchor="middle" fill="#141414" stroke="#141414" stroke-width="0.27">1</text>
<line x1="55.50" y1="622.40" x2="55.50" y2="628.10" stroke="#141414" stroke-width="1.05"/>
<text transform="translate(55.50 635.70)" font-size="7.4" text-anchor="middle" fill="#141414" stroke="#141414" stroke-width="0.27">2</text>
<line x1="66.00" y1="622.40" x2="66.00" y2="628.10" stroke="#141414" stroke-width="1.05"/>
<text transform="translate(66.00 635.70)" font-size="7.4" text-anchor="middle" fill="#141414" stroke="#141414" stroke-width="0.27">3</text>
<line x1="76.20" y1="622.40" x2="76.20" y2="628.10" stroke="#141414" stroke-width="1.05"/>
<text transform="translate(76.20 635.70)" font-size="7.4" text-anchor="middle" fill="#141414" stroke="#141414" stroke-width="0.27">4</text>
<line x1="86.30" y1="622.40" x2="86.30" y2="628.10" stroke="#141414" stroke-width="1.05"/>
<text transform="translate(86.30 635.70)" font-size="7.4" text-anchor="middle" fill="#141414" stroke="#141414" stroke-width="0.27">5</text>
<line x1="96.50" y1="622.40" x2="96.50" y2="628.10" stroke="#141414" stroke-width="1.05"/>
<text transform="translate(96.50 635.70)" font-size="7.4" text-anchor="middle" fill="#141414" stroke="#141414" stroke-width="0.27">6</text>
<line x1="106.90" y1="622.40" x2="106.90" y2="628.10" stroke="#141414" stroke-width="1.05"/>
<text transform="translate(106.90 635.70)" font-size="7.4" text-anchor="middle" fill="#141414" stroke="#141414" stroke-width="0.27">7</text>
<text transform="translate(7.40 635.70)" font-size="7.4" text-anchor="start" fill="#141414" stroke="#141414" stroke-width="0.27">Days</text>
<line x1="35.00" y1="605.60" x2="35.00" y2="617.50" stroke="#141414" stroke-width="1.2"/>
<path d="M35.00 621.2 L32.30 616.0 L37.70 616.0 Z" fill="#1c1c1c"/>
<line x1="66.00" y1="605.60" x2="66.00" y2="617.50" stroke="#141414" stroke-width="1.2"/>
<path d="M66.00 621.2 L63.30 616.0 L68.70 616.0 Z" fill="#1c1c1c"/>
<line x1="96.50" y1="605.60" x2="96.50" y2="617.50" stroke="#141414" stroke-width="1.2"/>
<path d="M96.50 621.2 L93.80 616.0 L99.20 616.0 Z" fill="#1c1c1c"/>
<text transform="translate(140.80 572.00)" font-size="11" text-anchor="start" font-weight="bold" fill="#000">M</text>
<line x1="170.50" y1="576.00" x2="170.50" y2="652.35" stroke="#141414" stroke-width="1.3"/>
<line x1="169.85" y1="651.70" x2="245.60" y2="651.70" stroke="#141414" stroke-width="1.3"/>
<line x1="167.20" y1="651.70" x2="170.50" y2="651.70" stroke="#141414" stroke-width="1"/>
<text transform="translate(164.90 654.51)" font-size="7.8" text-anchor="end" fill="#141414" stroke="#141414" stroke-width="0.27">0</text>
<line x1="167.20" y1="637.34" x2="170.50" y2="637.34" stroke="#141414" stroke-width="1"/>
<text transform="translate(164.90 640.15)" font-size="7.8" text-anchor="end" fill="#141414" stroke="#141414" stroke-width="0.27">2</text>
<line x1="167.20" y1="622.98" x2="170.50" y2="622.98" stroke="#141414" stroke-width="1"/>
<text transform="translate(164.90 625.79)" font-size="7.8" text-anchor="end" fill="#141414" stroke="#141414" stroke-width="0.27">4</text>
<line x1="167.20" y1="608.62" x2="170.50" y2="608.62" stroke="#141414" stroke-width="1"/>
<text transform="translate(164.90 611.43)" font-size="7.8" text-anchor="end" fill="#141414" stroke="#141414" stroke-width="0.27">6</text>
<line x1="167.20" y1="594.26" x2="170.50" y2="594.26" stroke="#141414" stroke-width="1"/>
<text transform="translate(164.90 597.07)" font-size="7.8" text-anchor="end" fill="#141414" stroke="#141414" stroke-width="0.27">8</text>
<line x1="167.20" y1="579.90" x2="170.50" y2="579.90" stroke="#141414" stroke-width="1"/>
<text transform="translate(164.90 582.71)" font-size="7.8" text-anchor="end" fill="#141414" stroke="#141414" stroke-width="0.27">10</text>
<line x1="181.80" y1="651.70" x2="181.80" y2="655.00" stroke="#141414" stroke-width="1"/>
<text transform="translate(181.80 662.50)" font-size="7.8" text-anchor="middle" fill="#141414" stroke="#141414" stroke-width="0.27">1</text>
<line x1="206.20" y1="651.70" x2="206.20" y2="655.00" stroke="#141414" stroke-width="1"/>
<text transform="translate(206.20 662.50)" font-size="7.8" text-anchor="middle" fill="#141414" stroke="#141414" stroke-width="0.27">4</text>
<line x1="230.60" y1="651.70" x2="230.60" y2="655.00" stroke="#141414" stroke-width="1"/>
<text transform="translate(230.60 662.50)" font-size="7.8" text-anchor="middle" fill="#141414" stroke="#141414" stroke-width="0.27">7</text>
<rect x="173.00" y="643.30" width="4.70" height="8.40" fill="#e27a8c"/>
<circle cx="174.80" cy="642.70" r="1.05" fill="#9c1031"/>
<circle cx="175.35" cy="643.70" r="1.05" fill="#9c1031"/>
<circle cx="175.90" cy="643.20" r="1.05" fill="#9c1031"/>
<rect x="179.50" y="644.52" width="4.70" height="7.18" fill="#7da1c2"/>
<circle cx="181.30" cy="643.92" r="1.05" fill="#13395e"/>
<circle cx="181.85" cy="644.92" r="1.05" fill="#13395e"/>
<circle cx="182.40" cy="644.42" r="1.05" fill="#13395e"/>
<rect x="186.00" y="643.80" width="4.70" height="7.90" fill="#97d59d"/>
<circle cx="187.80" cy="643.20" r="1.05" fill="#1f6039"/>
<circle cx="188.35" cy="644.20" r="1.05" fill="#1f6039"/>
<circle cx="188.90" cy="643.70" r="1.05" fill="#1f6039"/>
<rect x="197.60" y="633.39" width="4.70" height="18.31" fill="#e27a8c"/>
<line x1="199.95" y1="631.24" x2="199.95" y2="635.19" stroke="#9c1031" stroke-width="1.15"/>
<line x1="198.55" y1="631.24" x2="201.35" y2="631.24" stroke="#9c1031" stroke-width="1.15"/>
<line x1="198.55" y1="635.19" x2="201.35" y2="635.19" stroke="#9c1031" stroke-width="1.15"/>
<circle cx="199.40" cy="634.79" r="1.05" fill="#9c1031"/>
<circle cx="199.95" cy="633.21" r="1.05" fill="#9c1031"/>
<circle cx="200.50" cy="631.83" r="1.05" fill="#9c1031"/>
<rect x="204.10" y="643.08" width="4.70" height="8.62" fill="#7da1c2"/>
<circle cx="205.90" cy="642.48" r="1.05" fill="#13395e"/>
<circle cx="206.45" cy="643.48" r="1.05" fill="#13395e"/>
<circle cx="207.00" cy="642.98" r="1.05" fill="#13395e"/>
<rect x="210.60" y="642.01" width="4.70" height="9.69" fill="#97d59d"/>
<circle cx="212.40" cy="641.41" r="1.05" fill="#1f6039"/>
<circle cx="212.95" cy="642.41" r="1.05" fill="#1f6039"/>
<circle cx="213.50" cy="641.91" r="1.05" fill="#1f6039"/>
<rect x="222.10" y="600.72" width="4.70" height="50.98" fill="#e27a8c"/>
<line x1="224.45" y1="591.39" x2="224.45" y2="609.34" stroke="#9c1031" stroke-width="1.15"/>
<line x1="223.05" y1="591.39" x2="225.85" y2="591.39" stroke="#9c1031" stroke-width="1.15"/>
<line x1="223.05" y1="609.34" x2="225.85" y2="609.34" stroke="#9c1031" stroke-width="1.15"/>
<circle cx="223.90" cy="607.54" r="1.05" fill="#9c1031"/>
<circle cx="224.45" cy="600.36" r="1.05" fill="#9c1031"/>
<circle cx="225.00" cy="594.08" r="1.05" fill="#9c1031"/>
<rect x="228.70" y="611.49" width="4.70" height="40.21" fill="#7da1c2"/>
<line x1="231.05" y1="605.03" x2="231.05" y2="618.31" stroke="#13395e" stroke-width="1.15"/>
<line x1="229.65" y1="605.03" x2="232.45" y2="605.03" stroke="#13395e" stroke-width="1.15"/>
<line x1="229.65" y1="618.31" x2="232.45" y2="618.31" stroke="#13395e" stroke-width="1.15"/>
<circle cx="230.50" cy="616.98" r="1.05" fill="#13395e"/>
<circle cx="231.05" cy="611.67" r="1.05" fill="#13395e"/>
<circle cx="231.60" cy="607.02" r="1.05" fill="#13395e"/>
<rect x="235.30" y="616.52" width="4.70" height="35.18" fill="#97d59d"/>
<line x1="237.65" y1="614.72" x2="237.65" y2="619.03" stroke="#1f6039" stroke-width="1.15"/>
<line x1="236.25" y1="614.72" x2="239.05" y2="614.72" stroke="#1f6039" stroke-width="1.15"/>
<line x1="236.25" y1="619.03" x2="239.05" y2="619.03" stroke="#1f6039" stroke-width="1.15"/>
<circle cx="237.10" cy="618.60" r="1.05" fill="#1f6039"/>
<circle cx="237.65" cy="616.88" r="1.05" fill="#1f6039"/>
<circle cx="238.20" cy="615.37" r="1.05" fill="#1f6039"/>
<line x1="174.20" y1="631.60" x2="188.40" y2="631.60" stroke="#2a2a2a" stroke-width="1.05"/>
<text transform="translate(181.30 629.00)" font-size="8" text-anchor="middle" fill="#2a2a2a" stroke="#2a2a2a" stroke-width="0.27">ns</text>
<line x1="174.20" y1="640.00" x2="182.00" y2="640.00" stroke="#2a2a2a" stroke-width="1.05"/>
<text transform="translate(178.10 637.40)" font-size="8" text-anchor="middle" fill="#2a2a2a" stroke="#2a2a2a" stroke-width="0.27">ns</text>
<line x1="198.00" y1="621.20" x2="213.50" y2="621.20" stroke="#2a2a2a" stroke-width="1.05"/>
<text transform="translate(205.85 621.55)" font-size="7.7" text-anchor="middle" fill="#1e1e1e" stroke="#1e1e1e" stroke-width="0.42" letter-spacing="0.2">*</text>
<line x1="198.00" y1="628.50" x2="206.20" y2="628.50" stroke="#2a2a2a" stroke-width="1.05"/>
<text transform="translate(202.20 628.85)" font-size="7.7" text-anchor="middle" fill="#1e1e1e" stroke="#1e1e1e" stroke-width="0.42" letter-spacing="0.2">*</text>
<line x1="224.20" y1="580.20" x2="238.60" y2="580.20" stroke="#2a2a2a" stroke-width="1.05"/>
<text transform="translate(231.50 580.55)" font-size="7.7" text-anchor="middle" fill="#1e1e1e" stroke="#1e1e1e" stroke-width="0.42" letter-spacing="0.2">***</text>
<line x1="224.20" y1="587.50" x2="231.80" y2="587.50" stroke="#2a2a2a" stroke-width="1.05"/>
<text transform="translate(228.10 587.85)" font-size="7.7" text-anchor="middle" fill="#1e1e1e" stroke="#1e1e1e" stroke-width="0.42" letter-spacing="0.2">**</text>
<text transform="translate(152.00 613.60) rotate(-90) scale(0.704 1)" font-size="9" text-anchor="middle" fill="#141414" stroke="#141414" stroke-width="0.4">Fold change in CAR T count</text>
<text transform="translate(206.10 673.40) scale(0.7358 1)" font-size="9" text-anchor="middle" fill="#141414" stroke="#141414" stroke-width="0.4">Days in co-culture</text>
<text transform="translate(255.60 572.00)" font-size="11" text-anchor="start" font-weight="bold" fill="#000">N</text>
<line x1="285.70" y1="577.60" x2="285.70" y2="652.35" stroke="#141414" stroke-width="1.3"/>
<line x1="285.05" y1="651.70" x2="360.00" y2="651.70" stroke="#141414" stroke-width="1.3"/>
<line x1="282.40" y1="651.70" x2="285.70" y2="651.70" stroke="#141414" stroke-width="1"/>
<text transform="translate(280.10 654.51)" font-size="7.8" text-anchor="end" fill="#141414" stroke="#141414" stroke-width="0.27">0</text>
<line x1="282.40" y1="637.60" x2="285.70" y2="637.60" stroke="#141414" stroke-width="1"/>
<text transform="translate(280.10 640.41)" font-size="7.8" text-anchor="end" fill="#141414" stroke="#141414" stroke-width="0.27">20</text>
<line x1="282.40" y1="623.50" x2="285.70" y2="623.50" stroke="#141414" stroke-width="1"/>
<text transform="translate(280.10 626.31)" font-size="7.8" text-anchor="end" fill="#141414" stroke="#141414" stroke-width="0.27">40</text>
<line x1="282.40" y1="609.40" x2="285.70" y2="609.40" stroke="#141414" stroke-width="1"/>
<text transform="translate(280.10 612.21)" font-size="7.8" text-anchor="end" fill="#141414" stroke="#141414" stroke-width="0.27">60</text>
<line x1="282.40" y1="595.30" x2="285.70" y2="595.30" stroke="#141414" stroke-width="1"/>
<text transform="translate(280.10 598.11)" font-size="7.8" text-anchor="end" fill="#141414" stroke="#141414" stroke-width="0.27">80</text>
<line x1="282.40" y1="581.20" x2="285.70" y2="581.20" stroke="#141414" stroke-width="1"/>
<text transform="translate(280.10 584.01)" font-size="7.8" text-anchor="end" fill="#141414" stroke="#141414" stroke-width="0.27">100</text>
<line x1="297.40" y1="651.70" x2="297.40" y2="655.00" stroke="#141414" stroke-width="1"/>
<text transform="translate(297.40 662.50)" font-size="7.8" text-anchor="middle" fill="#141414" stroke="#141414" stroke-width="0.27">1</text>
<line x1="321.60" y1="651.70" x2="321.60" y2="655.00" stroke="#141414" stroke-width="1"/>
<text transform="translate(321.60 662.50)" font-size="7.8" text-anchor="middle" fill="#141414" stroke="#141414" stroke-width="0.27">4</text>
<line x1="345.80" y1="651.70" x2="345.80" y2="655.00" stroke="#141414" stroke-width="1"/>
<text transform="translate(345.80 662.50)" font-size="7.8" text-anchor="middle" fill="#141414" stroke="#141414" stroke-width="0.27">7</text>
<rect x="288.30" y="632.52" width="4.70" height="19.18" fill="#e27a8c"/>
<line x1="290.65" y1="631.82" x2="290.65" y2="633.23" stroke="#9c1031" stroke-width="1.15"/>
<line x1="289.25" y1="631.82" x2="292.05" y2="631.82" stroke="#9c1031" stroke-width="1.15"/>
<line x1="289.25" y1="633.23" x2="292.05" y2="633.23" stroke="#9c1031" stroke-width="1.15"/>
<circle cx="290.10" cy="633.06" r="1.05" fill="#9c1031"/>
<circle cx="290.65" cy="632.52" r="1.05" fill="#9c1031"/>
<circle cx="291.20" cy="631.99" r="1.05" fill="#9c1031"/>
<rect x="294.90" y="634.78" width="4.70" height="16.92" fill="#7da1c2"/>
<line x1="297.25" y1="629.14" x2="297.25" y2="640.42" stroke="#13395e" stroke-width="1.15"/>
<line x1="295.85" y1="629.14" x2="298.65" y2="629.14" stroke="#13395e" stroke-width="1.15"/>
<line x1="295.85" y1="640.42" x2="298.65" y2="640.42" stroke="#13395e" stroke-width="1.15"/>
<circle cx="296.70" cy="639.07" r="1.05" fill="#13395e"/>
<circle cx="297.25" cy="634.78" r="1.05" fill="#13395e"/>
<circle cx="297.80" cy="630.49" r="1.05" fill="#13395e"/>
<rect x="301.40" y="636.75" width="4.70" height="14.95" fill="#97d59d"/>
<line x1="303.75" y1="633.72" x2="303.75" y2="639.36" stroke="#1f6039" stroke-width="1.15"/>
<line x1="302.35" y1="633.72" x2="305.15" y2="633.72" stroke="#1f6039" stroke-width="1.15"/>
<line x1="302.35" y1="639.36" x2="305.15" y2="639.36" stroke="#1f6039" stroke-width="1.15"/>
<circle cx="303.20" cy="638.69" r="1.05" fill="#1f6039"/>
<circle cx="303.75" cy="636.54" r="1.05" fill="#1f6039"/>
<circle cx="304.30" cy="634.40" r="1.05" fill="#1f6039"/>
<rect x="312.60" y="586.13" width="4.70" height="65.57" fill="#e27a8c"/>
<line x1="314.95" y1="585.43" x2="314.95" y2="586.84" stroke="#9c1031" stroke-width="1.15"/>
<line x1="313.55" y1="585.43" x2="316.35" y2="585.43" stroke="#9c1031" stroke-width="1.15"/>
<line x1="313.55" y1="586.84" x2="316.35" y2="586.84" stroke="#9c1031" stroke-width="1.15"/>
<circle cx="314.40" cy="586.67" r="1.05" fill="#9c1031"/>
<circle cx="314.95" cy="586.13" r="1.05" fill="#9c1031"/>
<circle cx="315.50" cy="585.60" r="1.05" fill="#9c1031"/>
<rect x="319.20" y="591.78" width="4.70" height="59.92" fill="#7da1c2"/>
<line x1="321.55" y1="589.31" x2="321.55" y2="595.30" stroke="#13395e" stroke-width="1.15"/>
<line x1="320.15" y1="589.31" x2="322.95" y2="589.31" stroke="#13395e" stroke-width="1.15"/>
<line x1="320.15" y1="595.30" x2="322.95" y2="595.30" stroke="#13395e" stroke-width="1.15"/>
<circle cx="321.00" cy="594.58" r="1.05" fill="#13395e"/>
<circle cx="321.55" cy="592.30" r="1.05" fill="#13395e"/>
<circle cx="322.10" cy="590.03" r="1.05" fill="#13395e"/>
<rect x="325.80" y="593.68" width="4.70" height="58.02" fill="#97d59d"/>
<line x1="328.15" y1="591.07" x2="328.15" y2="596.71" stroke="#1f6039" stroke-width="1.15"/>
<line x1="326.75" y1="591.07" x2="329.55" y2="591.07" stroke="#1f6039" stroke-width="1.15"/>
<line x1="326.75" y1="596.71" x2="329.55" y2="596.71" stroke="#1f6039" stroke-width="1.15"/>
<circle cx="327.60" cy="596.03" r="1.05" fill="#1f6039"/>
<circle cx="328.15" cy="593.89" r="1.05" fill="#1f6039"/>
<circle cx="328.70" cy="591.75" r="1.05" fill="#1f6039"/>
<rect x="336.90" y="591.21" width="4.70" height="60.49" fill="#e27a8c"/>
<line x1="339.25" y1="590.37" x2="339.25" y2="591.92" stroke="#9c1031" stroke-width="1.15"/>
<line x1="337.85" y1="590.37" x2="340.65" y2="590.37" stroke="#9c1031" stroke-width="1.15"/>
<line x1="337.85" y1="591.92" x2="340.65" y2="591.92" stroke="#9c1031" stroke-width="1.15"/>
<circle cx="338.70" cy="591.73" r="1.05" fill="#9c1031"/>
<circle cx="339.25" cy="591.14" r="1.05" fill="#9c1031"/>
<circle cx="339.80" cy="590.55" r="1.05" fill="#9c1031"/>
<rect x="343.30" y="597.42" width="4.70" height="54.28" fill="#7da1c2"/>
<line x1="345.65" y1="596.43" x2="345.65" y2="598.26" stroke="#13395e" stroke-width="1.15"/>
<line x1="344.25" y1="596.43" x2="347.05" y2="596.43" stroke="#13395e" stroke-width="1.15"/>
<line x1="344.25" y1="598.26" x2="347.05" y2="598.26" stroke="#13395e" stroke-width="1.15"/>
<circle cx="345.10" cy="598.04" r="1.05" fill="#13395e"/>
<circle cx="345.65" cy="597.34" r="1.05" fill="#13395e"/>
<circle cx="346.20" cy="596.65" r="1.05" fill="#13395e"/>
<rect x="349.90" y="598.68" width="4.70" height="53.02" fill="#97d59d"/>
<line x1="352.25" y1="598.26" x2="352.25" y2="599.11" stroke="#1f6039" stroke-width="1.15"/>
<line x1="350.85" y1="598.26" x2="353.65" y2="598.26" stroke="#1f6039" stroke-width="1.15"/>
<line x1="350.85" y1="599.11" x2="353.65" y2="599.11" stroke="#1f6039" stroke-width="1.15"/>
<circle cx="351.70" cy="599.01" r="1.05" fill="#1f6039"/>
<circle cx="352.25" cy="598.68" r="1.05" fill="#1f6039"/>
<circle cx="352.80" cy="598.36" r="1.05" fill="#1f6039"/>
<line x1="290.20" y1="617.00" x2="304.00" y2="617.00" stroke="#2a2a2a" stroke-width="1.05"/>
<text transform="translate(297.10 614.40)" font-size="8" text-anchor="middle" fill="#2a2a2a" stroke="#2a2a2a" stroke-width="0.27">ns</text>
<line x1="290.20" y1="625.90" x2="297.80" y2="625.90" stroke="#2a2a2a" stroke-width="1.05"/>
<text transform="translate(294.00 623.30)" font-size="8" text-anchor="middle" fill="#2a2a2a" stroke="#2a2a2a" stroke-width="0.27">ns</text>
<line x1="314.70" y1="575.20" x2="328.20" y2="575.20" stroke="#2a2a2a" stroke-width="1.05"/>
<text transform="translate(321.55 575.55)" font-size="7.7" text-anchor="middle" fill="#1e1e1e" stroke="#1e1e1e" stroke-width="0.42" letter-spacing="0.2">**</text>
<line x1="314.70" y1="582.00" x2="321.50" y2="582.00" stroke="#2a2a2a" stroke-width="1.05"/>
<text transform="translate(318.20 582.35)" font-size="7.7" text-anchor="middle" fill="#1e1e1e" stroke="#1e1e1e" stroke-width="0.42" letter-spacing="0.2">*</text>
<line x1="339.70" y1="579.90" x2="352.80" y2="579.90" stroke="#2a2a2a" stroke-width="1.05"/>
<text transform="translate(346.35 580.25)" font-size="7.7" text-anchor="middle" fill="#1e1e1e" stroke="#1e1e1e" stroke-width="0.42" letter-spacing="0.2">**</text>
<line x1="339.70" y1="586.60" x2="346.50" y2="586.60" stroke="#2a2a2a" stroke-width="1.05"/>
<text transform="translate(343.20 586.95)" font-size="7.7" text-anchor="middle" fill="#1e1e1e" stroke="#1e1e1e" stroke-width="0.42" letter-spacing="0.2">*</text>
<text transform="translate(263.60 614.60) rotate(-90) scale(0.7278 1)" font-size="9" text-anchor="middle" fill="#141414" stroke="#141414" stroke-width="0.4">CD25<tspan dy="-2.88" font-size="5.94">+</tspan><tspan dy="2.88">​</tspan> CAR T cell (%)</text>
<text transform="translate(321.70 673.40) scale(0.7358 1)" font-size="9" text-anchor="middle" fill="#141414" stroke="#141414" stroke-width="0.4">Days in co-culture</text>
<text transform="translate(369.00 572.00)" font-size="11" text-anchor="start" font-weight="bold" fill="#000">O</text>
<line x1="399.40" y1="573.80" x2="399.40" y2="652.25" stroke="#141414" stroke-width="1.3"/>
<line x1="398.75" y1="651.60" x2="475.40" y2="651.60" stroke="#141414" stroke-width="1.3"/>
<line x1="396.10" y1="651.60" x2="399.40" y2="651.60" stroke="#141414" stroke-width="1"/>
<text transform="translate(393.80 654.41)" font-size="7.8" text-anchor="end" fill="#141414" stroke="#141414" stroke-width="0.27">0</text>
<line x1="396.10" y1="636.74" x2="399.40" y2="636.74" stroke="#141414" stroke-width="1"/>
<text transform="translate(393.80 639.55)" font-size="7.8" text-anchor="end" fill="#141414" stroke="#141414" stroke-width="0.27">5</text>
<line x1="396.10" y1="621.88" x2="399.40" y2="621.88" stroke="#141414" stroke-width="1"/>
<text transform="translate(393.80 624.69)" font-size="7.8" text-anchor="end" fill="#141414" stroke="#141414" stroke-width="0.27">10</text>
<line x1="396.10" y1="607.02" x2="399.40" y2="607.02" stroke="#141414" stroke-width="1"/>
<text transform="translate(393.80 609.83)" font-size="7.8" text-anchor="end" fill="#141414" stroke="#141414" stroke-width="0.27">15</text>
<line x1="396.10" y1="592.16" x2="399.40" y2="592.16" stroke="#141414" stroke-width="1"/>
<text transform="translate(393.80 594.97)" font-size="7.8" text-anchor="end" fill="#141414" stroke="#141414" stroke-width="0.27">20</text>
<line x1="396.10" y1="577.30" x2="399.40" y2="577.30" stroke="#141414" stroke-width="1"/>
<text transform="translate(393.80 580.11)" font-size="7.8" text-anchor="end" fill="#141414" stroke="#141414" stroke-width="0.27">25</text>
<line x1="411.20" y1="651.60" x2="411.20" y2="654.90" stroke="#141414" stroke-width="1"/>
<text transform="translate(411.20 662.40)" font-size="7.8" text-anchor="middle" fill="#141414" stroke="#141414" stroke-width="0.27">1</text>
<line x1="436.60" y1="651.60" x2="436.60" y2="654.90" stroke="#141414" stroke-width="1"/>
<text transform="translate(436.60 662.40)" font-size="7.8" text-anchor="middle" fill="#141414" stroke="#141414" stroke-width="0.27">4</text>
<line x1="461.90" y1="651.60" x2="461.90" y2="654.90" stroke="#141414" stroke-width="1"/>
<text transform="translate(461.90 662.40)" font-size="7.8" text-anchor="middle" fill="#141414" stroke="#141414" stroke-width="0.27">7</text>
<rect x="401.70" y="644.91" width="4.90" height="6.69" fill="#e27a8c"/>
<line x1="404.15" y1="643.58" x2="404.15" y2="646.55" stroke="#9c1031" stroke-width="1.15"/>
<line x1="402.75" y1="643.58" x2="405.55" y2="643.58" stroke="#9c1031" stroke-width="1.15"/>
<line x1="402.75" y1="646.55" x2="405.55" y2="646.55" stroke="#9c1031" stroke-width="1.15"/>
<circle cx="403.60" cy="646.25" r="1.05" fill="#9c1031"/>
<circle cx="404.15" cy="645.06" r="1.05" fill="#9c1031"/>
<circle cx="404.70" cy="643.81" r="1.05" fill="#9c1031"/>
<rect x="408.80" y="648.63" width="4.90" height="2.97" fill="#7da1c2"/>
<circle cx="410.98" cy="648.13" r="1.05" fill="#13395e"/>
<circle cx="411.52" cy="648.93" r="1.05" fill="#13395e"/>
<rect x="415.80" y="648.18" width="4.90" height="3.42" fill="#97d59d"/>
<circle cx="417.98" cy="647.68" r="1.05" fill="#1f6039"/>
<circle cx="418.52" cy="648.48" r="1.05" fill="#1f6039"/>
<rect x="427.00" y="624.85" width="4.90" height="26.75" fill="#e27a8c"/>
<line x1="429.45" y1="623.07" x2="429.45" y2="626.93" stroke="#9c1031" stroke-width="1.15"/>
<line x1="428.05" y1="623.07" x2="430.85" y2="623.07" stroke="#9c1031" stroke-width="1.15"/>
<line x1="428.05" y1="626.93" x2="430.85" y2="626.93" stroke="#9c1031" stroke-width="1.15"/>
<circle cx="428.90" cy="626.55" r="1.05" fill="#9c1031"/>
<circle cx="429.45" cy="625.00" r="1.05" fill="#9c1031"/>
<circle cx="430.00" cy="623.38" r="1.05" fill="#9c1031"/>
<rect x="434.10" y="635.25" width="4.90" height="16.35" fill="#7da1c2"/>
<line x1="436.55" y1="632.88" x2="436.55" y2="637.93" stroke="#13395e" stroke-width="1.15"/>
<line x1="435.15" y1="632.88" x2="437.95" y2="632.88" stroke="#13395e" stroke-width="1.15"/>
<line x1="435.15" y1="637.93" x2="437.95" y2="637.93" stroke="#13395e" stroke-width="1.15"/>
<circle cx="436.00" cy="637.42" r="1.05" fill="#13395e"/>
<circle cx="436.55" cy="635.40" r="1.05" fill="#13395e"/>
<circle cx="437.10" cy="633.28" r="1.05" fill="#13395e"/>
<rect x="441.20" y="635.25" width="4.90" height="16.35" fill="#97d59d"/>
<line x1="443.65" y1="632.58" x2="443.65" y2="637.93" stroke="#1f6039" stroke-width="1.15"/>
<line x1="442.25" y1="632.58" x2="445.05" y2="632.58" stroke="#1f6039" stroke-width="1.15"/>
<line x1="442.25" y1="637.93" x2="445.05" y2="637.93" stroke="#1f6039" stroke-width="1.15"/>
<circle cx="443.10" cy="637.39" r="1.05" fill="#1f6039"/>
<circle cx="443.65" cy="635.25" r="1.05" fill="#1f6039"/>
<circle cx="444.20" cy="633.01" r="1.05" fill="#1f6039"/>
<rect x="452.90" y="601.37" width="4.90" height="50.23" fill="#e27a8c"/>
<line x1="455.35" y1="589.19" x2="455.35" y2="612.96" stroke="#9c1031" stroke-width="1.15"/>
<line x1="453.95" y1="589.19" x2="456.75" y2="589.19" stroke="#9c1031" stroke-width="1.15"/>
<line x1="453.95" y1="612.96" x2="456.75" y2="612.96" stroke="#9c1031" stroke-width="1.15"/>
<circle cx="454.80" cy="610.59" r="1.05" fill="#9c1031"/>
<circle cx="455.35" cy="601.08" r="1.05" fill="#9c1031"/>
<circle cx="455.90" cy="591.09" r="1.05" fill="#9c1031"/>
<rect x="460.30" y="629.46" width="4.90" height="22.14" fill="#7da1c2"/>
<line x1="462.75" y1="627.82" x2="462.75" y2="631.39" stroke="#13395e" stroke-width="1.15"/>
<line x1="461.35" y1="627.82" x2="464.15" y2="627.82" stroke="#13395e" stroke-width="1.15"/>
<line x1="461.35" y1="631.39" x2="464.15" y2="631.39" stroke="#13395e" stroke-width="1.15"/>
<circle cx="462.20" cy="631.03" r="1.05" fill="#13395e"/>
<circle cx="462.75" cy="629.61" r="1.05" fill="#13395e"/>
<circle cx="463.30" cy="628.11" r="1.05" fill="#13395e"/>
<rect x="467.30" y="629.16" width="4.90" height="22.44" fill="#97d59d"/>
<line x1="469.75" y1="627.82" x2="469.75" y2="630.50" stroke="#1f6039" stroke-width="1.15"/>
<line x1="468.35" y1="627.82" x2="471.15" y2="627.82" stroke="#1f6039" stroke-width="1.15"/>
<line x1="468.35" y1="630.50" x2="471.15" y2="630.50" stroke="#1f6039" stroke-width="1.15"/>
<circle cx="469.20" cy="630.23" r="1.05" fill="#1f6039"/>
<circle cx="469.75" cy="629.16" r="1.05" fill="#1f6039"/>
<circle cx="470.30" cy="628.04" r="1.05" fill="#1f6039"/>
<line x1="403.20" y1="632.10" x2="418.70" y2="632.10" stroke="#2a2a2a" stroke-width="1.05"/>
<text transform="translate(410.95 629.50)" font-size="8" text-anchor="middle" fill="#2a2a2a" stroke="#2a2a2a" stroke-width="0.27">ns</text>
<line x1="403.20" y1="640.50" x2="411.30" y2="640.50" stroke="#2a2a2a" stroke-width="1.05"/>
<text transform="translate(407.25 637.90)" font-size="8" text-anchor="middle" fill="#2a2a2a" stroke="#2a2a2a" stroke-width="0.27">ns</text>
<line x1="429.10" y1="613.70" x2="442.50" y2="613.70" stroke="#2a2a2a" stroke-width="1.05"/>
<text transform="translate(435.90 614.05)" font-size="7.7" text-anchor="middle" fill="#1e1e1e" stroke="#1e1e1e" stroke-width="0.42" letter-spacing="0.2">*</text>
<line x1="429.10" y1="620.50" x2="436.00" y2="620.50" stroke="#2a2a2a" stroke-width="1.05"/>
<text transform="translate(432.65 620.85)" font-size="7.7" text-anchor="middle" fill="#1e1e1e" stroke="#1e1e1e" stroke-width="0.42" letter-spacing="0.2">*</text>
<line x1="454.40" y1="578.50" x2="467.90" y2="578.50" stroke="#2a2a2a" stroke-width="1.05"/>
<text transform="translate(461.25 578.85)" font-size="7.7" text-anchor="middle" fill="#1e1e1e" stroke="#1e1e1e" stroke-width="0.42" letter-spacing="0.2">***</text>
<line x1="454.40" y1="585.90" x2="462.00" y2="585.90" stroke="#2a2a2a" stroke-width="1.05"/>
<text transform="translate(458.30 586.25)" font-size="7.7" text-anchor="middle" fill="#1e1e1e" stroke="#1e1e1e" stroke-width="0.42" letter-spacing="0.2">***</text>
<text transform="translate(378.60 612.30) rotate(-90) scale(0.7301 1)" font-size="9" text-anchor="middle" fill="#141414" stroke="#141414" stroke-width="0.4">CD69<tspan dy="-2.88" font-size="5.94">+</tspan><tspan dy="2.88">​</tspan> CAR T cell (%)</text>
<text transform="translate(437.30 673.40) scale(0.7358 1)" font-size="9" text-anchor="middle" fill="#141414" stroke="#141414" stroke-width="0.4">Days in co-culture</text>
<rect x="478.20" y="574.20" width="4.90" height="5.00" fill="#c41e3a"/>
<text transform="translate(486.40 579.20)" font-size="7.3" text-anchor="start" fill="#141414" stroke="#141414" stroke-width="0.27">WT</text>
<rect x="478.20" y="582.75" width="4.90" height="5.00" fill="#1f5b85"/>
<text transform="translate(486.40 587.75)" font-size="7.3" text-anchor="start" fill="#141414" stroke="#141414" stroke-width="0.27">sgCD58-1</text>
<rect x="478.20" y="591.30" width="4.90" height="5.00" fill="#3bb05a"/>
<text transform="translate(486.40 596.30)" font-size="7.3" text-anchor="start" fill="#141414" stroke="#141414" stroke-width="0.27">sgCD58-2</text>
</svg>
</body>
</html>
